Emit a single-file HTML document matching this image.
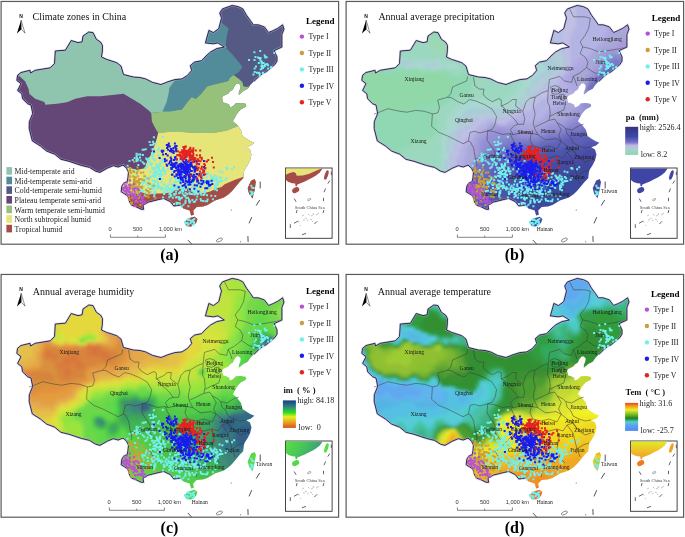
<!DOCTYPE html><html><head><meta charset="utf-8"><style>html,body{margin:0;padding:0;background:#fff}svg{display:block;filter:blur(0.3px)}text{font-family:"Liberation Serif",serif}.s{font-family:"Liberation Sans",sans-serif}</style></head><body><svg width="685" height="537" viewBox="0 0 685 537"><defs><clipPath id="cc"><path d="M17.6,75.3 L21.0,72.5 L30.0,70.3 L30.5,73.0 L35.2,70.3 L50.3,67.8 L54.5,63.6 L55.3,51.0 L65.4,50.2 L71.2,40.5 L78.0,42.6 L82.1,41.8 L83.0,36.0 L88.8,32.0 L93.0,32.6 L96.4,39.3 L100.5,42.0 L102.5,45.5 L102.3,51.9 L101.5,57.0 L106.7,59.4 L116.8,62.7 L121.0,66.1 L123.5,74.5 L133.5,77.0 L140.0,77.5 L145.6,78.9 L152.6,82.4 L161.0,84.5 L168.0,81.7 L174.9,79.6 L181.9,78.9 L187.5,75.4 L191.7,70.5 L190.3,65.6 L194.5,62.1 L201.5,60.7 L206.0,56.0 L210.6,51.9 L216.8,48.6 L224.3,47.0 L217.9,42.9 L213.4,43.8 L205.4,42.9 L208.9,30.4 L213.4,32.6 L218.8,28.6 L221.5,17.9 L219.7,13.0 L222.4,8.9 L232.2,5.4 L238.5,6.7 L242.9,8.9 L246.5,15.2 L250.5,20.6 L253.3,24.8 L258.2,24.8 L264.4,26.9 L268.6,32.5 L273.5,30.4 L277.7,28.3 L282.6,24.8 L284.0,29.0 L281.9,34.6 L281.9,47.1 L274.2,50.6 L277.0,56.9 L277.0,61.1 L274.9,64.6 L271.4,67.4 L266.5,71.6 L262.3,73.7 L258.2,77.2 L254.0,81.3 L250.5,84.8 L247.8,88.8 L243.3,91.0 L238.8,95.1 L238.8,92.1 L240.3,88.4 L240.7,85.4 L238.8,83.6 L236.6,83.6 L234.4,86.2 L232.9,89.5 L229.9,91.4 L228.4,93.6 L223.2,95.9 L222.1,98.1 L223.2,102.6 L226.2,103.3 L229.2,104.8 L229.9,107.4 L232.9,106.3 L235.9,103.3 L241.1,102.9 L245.5,103.7 L246.3,105.5 L245.5,107.0 L241.1,109.3 L238.8,111.5 L236.2,115.0 L235.8,116.0 L232.9,121.2 L237.3,124.9 L241.0,130.1 L242.5,136.0 L247.0,139.0 L250.7,141.3 L254.4,142.7 L250.7,145.7 L246.3,147.2 L250.0,149.4 L251.5,154.6 L250.0,160.6 L247.7,165.1 L244.8,169.5 L244.0,171.5 L243.2,178.2 L239.5,181.9 L235.8,186.4 L232.0,190.9 L228.3,194.6 L223.8,197.6 L219.4,199.1 L214.9,200.6 L211.2,202.8 L207.5,205.0 L203.0,206.5 L196.7,207.0 L193.2,210.5 L193.9,214.7 L191.1,215.4 L189.7,210.5 L183.4,208.4 L180.5,205.1 L173.8,206.0 L170.4,201.7 L163.7,198.4 L158.1,199.7 L153.3,200.9 L148.4,202.1 L143.0,205.1 L143.6,209.3 L141.2,209.3 L136.3,206.9 L131.5,205.1 L129.7,202.1 L127.9,196.0 L124.2,193.6 L121.2,191.8 L121.8,186.3 L123.6,183.3 L127.2,181.5 L127.9,177.9 L128.5,172.4 L126.6,168.2 L123.0,165.1 L118.2,167.0 L113.3,165.7 L107.3,168.2 L100.0,172.4 L95.6,171.2 L89.5,167.4 L81.3,165.4 L75.2,163.4 L69.0,161.3 L60.9,159.3 L54.7,154.2 L46.6,151.1 L40.4,146.0 L32.3,140.9 L29.2,128.6 L29.3,121.8 L32.7,113.4 L31.0,105.0 L27.7,103.8 L22.6,98.8 L21.8,93.8 L17.6,90.4 L21.0,83.7 L16.8,80.4Z"/><path d="M251.2,180.5 L254.7,179.1 L256.0,181.9 L254.7,189.6 L252.6,198.6 L249.1,193.8 L247.7,188.2Z"/><path d="M184.8,221.7 L189.0,218.2 L194.6,216.8 L197.4,218.9 L196.0,223.1 L191.1,226.6 L186.2,225.9Z"/></clipPath><filter id="bl" x="-5%" y="-5%" width="110%" height="110%"><feGaussianBlur stdDeviation="1.6"/></filter><path id="outl" d="M180.5,205.1 L173.8,206.0 L170.4,201.7 L163.7,198.4 L158.1,199.7 L153.3,200.9 L148.4,202.1 L143.0,205.1 L143.6,209.3 L141.2,209.3 L136.3,206.9 L131.5,205.1 L129.7,202.1 L127.9,196.0 L124.2,193.6 L121.2,191.8 L121.8,186.3 L123.6,183.3 L127.2,181.5 L127.9,177.9 L128.5,172.4 L126.6,168.2 L123.0,165.1 L118.2,167.0 L113.3,165.7 L107.3,168.2 L100.0,172.4 L95.6,171.2 L89.5,167.4 L81.3,165.4 L75.2,163.4 L69.0,161.3 L60.9,159.3 L54.7,154.2 L46.6,151.1 L40.4,146.0 L32.3,140.9 L29.2,128.6 L29.3,121.8 L32.7,113.4 L31.0,105.0 L27.7,103.8 L22.6,98.8 L21.8,93.8 L17.6,90.4 L21.0,83.7 L16.8,80.4 L17.6,75.3 L21.0,72.5 L30.0,70.3 L30.5,73.0 L35.2,70.3 L50.3,67.8 L54.5,63.6 L55.3,51.0 L65.4,50.2 L71.2,40.5 L78.0,42.6 L82.1,41.8 L83.0,36.0 L88.8,32.0 L93.0,32.6 L96.4,39.3 L100.5,42.0 L102.5,45.5 L102.3,51.9 L101.5,57.0 L106.7,59.4 L116.8,62.7 L121.0,66.1 L123.5,74.5 L133.5,77.0 L140.0,77.5 L145.6,78.9 L152.6,82.4 L161.0,84.5 L168.0,81.7 L174.9,79.6 L181.9,78.9 L187.5,75.4 L191.7,70.5 L190.3,65.6 L194.5,62.1 L201.5,60.7 L206.0,56.0 L210.6,51.9 L216.8,48.6 L224.3,47.0 L217.9,42.9 L213.4,43.8 L205.4,42.9 L208.9,30.4 L213.4,32.6 L218.8,28.6 L221.5,17.9 L219.7,13.0 L222.4,8.9 L232.2,5.4 L238.5,6.7 L242.9,8.9 L246.5,15.2 L250.5,20.6 L253.3,24.8 L258.2,24.8 L264.4,26.9 L268.6,32.5 L273.5,30.4 L277.7,28.3 L282.6,24.8 L284.0,29.0 L281.9,34.6 L281.9,47.1 L274.2,50.6 L277.0,56.9 L277.0,61.1 L274.9,64.6 L271.4,67.4 L266.5,71.6 L262.3,73.7 L258.2,77.2 L254.0,81.3"/><g id="dots"><path fill="#72efec" d="M147.0 187.1h2v2h-2zM147.2 182.1h2v2h-2zM141.6 182.7h2v2h-2zM157.9 186.5h2v2h-2zM157.3 185.5h2v2h-2zM152.2 185.1h2v2h-2zM135.7 189.1h2v2h-2zM153.1 187.0h2v2h-2zM135.5 173.5h2v2h-2zM141.9 181.2h2v2h-2zM151.4 183.7h2v2h-2zM153.2 180.1h2v2h-2zM151.5 186.4h2v2h-2zM143.7 194.3h2v2h-2zM153.5 191.2h2v2h-2zM144.0 179.6h2v2h-2zM146.2 183.4h2v2h-2zM154.1 185.5h2v2h-2zM145.4 178.3h2v2h-2zM144.8 191.3h2v2h-2zM142.5 185.5h2v2h-2zM152.4 175.1h2v2h-2zM149.4 191.8h2v2h-2zM132.9 182.1h2v2h-2zM148.2 179.1h2v2h-2zM153.0 183.6h2v2h-2zM137.3 189.0h2v2h-2zM154.4 189.7h2v2h-2zM160.5 186.2h2v2h-2zM150.0 176.2h2v2h-2zM153.9 180.3h2v2h-2zM145.4 176.4h2v2h-2zM141.3 180.8h2v2h-2zM159.3 171.8h2v2h-2zM137.3 185.4h2v2h-2zM160.5 187.5h2v2h-2zM133.8 168.9h2v2h-2zM151.9 179.6h2v2h-2zM140.0 189.9h2v2h-2zM157.8 184.9h2v2h-2zM151.0 186.6h2v2h-2zM161.8 187.7h2v2h-2zM153.1 187.3h2v2h-2zM136.5 191.7h2v2h-2zM156.6 187.2h2v2h-2zM133.2 180.2h2v2h-2zM155.7 173.1h2v2h-2zM147.5 190.1h2v2h-2zM138.5 193.7h2v2h-2zM153.4 183.1h2v2h-2zM151.6 187.9h2v2h-2zM150.0 190.9h2v2h-2zM143.7 181.5h2v2h-2zM157.3 184.2h2v2h-2zM142.0 189.7h2v2h-2zM160.7 181.3h2v2h-2zM138.0 183.2h2v2h-2zM147.8 182.2h2v2h-2zM160.2 177.8h2v2h-2zM159.1 176.4h2v2h-2zM162.7 190.8h2v2h-2zM178.0 192.2h2v2h-2zM171.8 187.9h2v2h-2zM170.2 190.5h2v2h-2zM167.6 188.7h2v2h-2zM173.6 187.0h2v2h-2zM175.1 190.4h2v2h-2zM185.1 188.9h2v2h-2zM165.6 184.8h2v2h-2zM168.9 192.5h2v2h-2zM166.3 189.3h2v2h-2zM183.7 171.6h2v2h-2zM160.0 188.5h2v2h-2zM172.2 188.4h2v2h-2zM165.6 190.9h2v2h-2zM171.3 183.9h2v2h-2zM188.4 189.1h2v2h-2zM164.6 186.4h2v2h-2zM167.2 186.6h2v2h-2zM147.2 184.1h2v2h-2zM177.1 180.0h2v2h-2zM168.5 192.7h2v2h-2zM175.8 195.9h2v2h-2zM155.4 184.9h2v2h-2zM166.3 190.7h2v2h-2zM177.7 170.9h2v2h-2zM177.7 178.3h2v2h-2zM174.5 178.0h2v2h-2zM170.4 194.2h2v2h-2zM167.8 188.1h2v2h-2zM175.4 187.8h2v2h-2zM168.3 196.2h2v2h-2zM177.4 185.2h2v2h-2zM191.0 180.1h2v2h-2zM176.3 185.4h2v2h-2zM170.1 191.2h2v2h-2zM170.8 190.8h2v2h-2zM156.8 177.9h2v2h-2zM173.9 181.2h2v2h-2zM160.8 178.2h2v2h-2zM179.1 191.5h2v2h-2zM180.8 181.4h2v2h-2zM169.0 180.2h2v2h-2zM175.1 196.5h2v2h-2zM161.9 196.4h2v2h-2zM176.9 185.9h2v2h-2zM153.2 195.4h2v2h-2zM168.2 183.4h2v2h-2zM172.2 189.5h2v2h-2zM181.0 180.9h2v2h-2zM178.1 195.9h2v2h-2zM180.6 185.9h2v2h-2zM163.0 193.1h2v2h-2zM169.9 187.7h2v2h-2zM180.4 185.4h2v2h-2zM150.6 184.7h2v2h-2zM154.2 191.9h2v2h-2zM171.5 183.3h2v2h-2zM168.9 192.0h2v2h-2zM169.6 195.0h2v2h-2zM168.5 193.2h2v2h-2zM180.9 196.7h2v2h-2zM163.6 192.3h2v2h-2zM154.0 180.5h2v2h-2zM153.3 193.4h2v2h-2zM159.1 186.9h2v2h-2zM167.5 186.8h2v2h-2zM164.3 188.4h2v2h-2zM183.3 187.3h2v2h-2zM173.2 193.0h2v2h-2zM187.4 182.7h2v2h-2zM184.6 194.4h2v2h-2zM175.8 186.0h2v2h-2zM197.1 193.0h2v2h-2zM189.1 193.0h2v2h-2zM190.3 183.1h2v2h-2zM176.5 185.8h2v2h-2zM196.4 186.2h2v2h-2zM181.8 185.1h2v2h-2zM176.7 188.4h2v2h-2zM179.6 190.8h2v2h-2zM170.1 190.6h2v2h-2zM183.9 179.3h2v2h-2zM194.8 187.6h2v2h-2zM171.2 184.6h2v2h-2zM191.3 186.7h2v2h-2zM195.2 192.7h2v2h-2zM194.3 190.6h2v2h-2zM199.7 192.3h2v2h-2zM192.6 178.6h2v2h-2zM196.2 195.5h2v2h-2zM186.6 186.7h2v2h-2zM204.5 180.2h2v2h-2zM192.8 201.1h2v2h-2zM181.6 192.4h2v2h-2zM204.1 188.4h2v2h-2zM193.5 193.5h2v2h-2zM181.8 188.6h2v2h-2zM191.3 193.1h2v2h-2zM188.7 188.0h2v2h-2zM180.9 187.2h2v2h-2zM196.1 189.5h2v2h-2zM182.2 184.8h2v2h-2zM210.3 194.7h2v2h-2zM194.1 176.0h2v2h-2zM194.0 191.4h2v2h-2zM202.5 191.1h2v2h-2zM188.5 191.6h2v2h-2zM173.4 194.2h2v2h-2zM191.6 185.5h2v2h-2zM199.6 198.0h2v2h-2zM177.8 185.7h2v2h-2zM191.3 189.9h2v2h-2zM185.8 184.1h2v2h-2zM206.0 194.2h2v2h-2zM179.4 182.3h2v2h-2zM202.6 193.9h2v2h-2zM203.6 193.1h2v2h-2zM182.0 190.3h2v2h-2zM171.7 185.3h2v2h-2zM188.5 191.6h2v2h-2zM183.2 188.4h2v2h-2zM192.7 190.9h2v2h-2zM194.1 190.0h2v2h-2zM186.4 192.9h2v2h-2zM202.4 176.9h2v2h-2zM197.0 181.0h2v2h-2zM201.1 181.8h2v2h-2zM202.0 181.9h2v2h-2zM200.9 174.7h2v2h-2zM205.4 186.3h2v2h-2zM205.5 180.1h2v2h-2zM205.6 176.2h2v2h-2zM186.8 181.3h2v2h-2zM194.6 184.7h2v2h-2zM193.3 167.9h2v2h-2zM193.7 188.9h2v2h-2zM198.9 174.2h2v2h-2zM195.9 183.6h2v2h-2zM206.0 181.9h2v2h-2zM213.9 184.5h2v2h-2zM201.8 184.0h2v2h-2zM215.2 185.9h2v2h-2zM210.2 175.6h2v2h-2zM200.8 184.6h2v2h-2zM199.6 186.3h2v2h-2zM206.8 185.5h2v2h-2zM200.3 193.7h2v2h-2zM211.9 179.9h2v2h-2zM202.7 194.0h2v2h-2zM199.3 185.4h2v2h-2zM209.8 181.0h2v2h-2zM192.7 181.9h2v2h-2zM204.9 186.6h2v2h-2zM208.3 181.1h2v2h-2zM208.8 183.7h2v2h-2zM203.6 181.3h2v2h-2zM200.1 184.4h2v2h-2zM193.6 177.9h2v2h-2zM202.0 173.7h2v2h-2zM198.5 171.0h2v2h-2zM196.5 183.8h2v2h-2zM206.5 180.7h2v2h-2zM200.1 173.9h2v2h-2zM216.6 183.6h2v2h-2zM210.7 176.6h2v2h-2zM200.5 171.9h2v2h-2zM208.2 185.7h2v2h-2zM186.8 180.7h2v2h-2zM207.0 172.2h2v2h-2zM187.4 175.7h2v2h-2zM197.0 174.0h2v2h-2zM202.3 182.2h2v2h-2zM207.1 184.5h2v2h-2zM214.0 186.8h2v2h-2zM191.5 178.5h2v2h-2zM193.5 175.6h2v2h-2zM201.3 181.0h2v2h-2zM205.9 173.1h2v2h-2zM192.1 180.9h2v2h-2zM200.4 179.4h2v2h-2zM201.5 177.2h2v2h-2zM207.6 182.8h2v2h-2zM201.3 177.6h2v2h-2zM200.6 167.4h2v2h-2zM208.1 180.1h2v2h-2zM205.5 180.8h2v2h-2zM213.7 174.5h2v2h-2zM211.7 178.7h2v2h-2zM215.3 182.4h2v2h-2zM212.8 176.6h2v2h-2zM212.3 179.7h2v2h-2zM216.7 181.2h2v2h-2zM209.4 174.6h2v2h-2zM211.1 177.0h2v2h-2zM207.4 179.5h2v2h-2zM210.5 180.4h2v2h-2zM215.6 178.3h2v2h-2zM224.6 178.7h2v2h-2zM218.5 180.5h2v2h-2zM218.6 170.5h2v2h-2zM209.2 181.0h2v2h-2zM216.0 189.3h2v2h-2zM214.6 185.1h2v2h-2zM216.8 183.8h2v2h-2zM215.6 179.4h2v2h-2zM215.5 175.7h2v2h-2zM218.9 175.9h2v2h-2zM214.2 188.5h2v2h-2zM211.9 180.1h2v2h-2zM218.8 180.1h2v2h-2zM209.0 181.0h2v2h-2zM215.9 182.8h2v2h-2zM209.1 187.0h2v2h-2zM221.3 180.1h2v2h-2zM214.3 178.3h2v2h-2zM220.1 177.2h2v2h-2zM216.4 178.1h2v2h-2zM209.5 182.9h2v2h-2zM219.7 180.0h2v2h-2zM154.3 175.9h2v2h-2zM158.7 172.9h2v2h-2zM169.7 177.8h2v2h-2zM155.4 184.7h2v2h-2zM159.0 175.7h2v2h-2zM154.5 170.7h2v2h-2zM146.8 181.7h2v2h-2zM168.6 163.7h2v2h-2zM148.5 161.3h2v2h-2zM167.2 168.2h2v2h-2zM158.6 169.1h2v2h-2zM158.2 164.5h2v2h-2zM159.2 162.4h2v2h-2zM158.5 172.9h2v2h-2zM162.3 169.6h2v2h-2zM152.7 172.0h2v2h-2zM155.6 180.4h2v2h-2zM164.4 170.3h2v2h-2zM155.7 166.8h2v2h-2zM152.4 168.9h2v2h-2zM161.1 174.1h2v2h-2zM163.0 183.6h2v2h-2zM154.1 171.1h2v2h-2zM178.6 159.8h2v2h-2zM155.3 172.0h2v2h-2zM160.1 173.4h2v2h-2zM157.3 173.2h2v2h-2zM159.4 175.6h2v2h-2zM145.8 165.7h2v2h-2zM159.0 164.8h2v2h-2zM151.7 174.8h2v2h-2zM154.5 174.8h2v2h-2zM164.2 172.8h2v2h-2zM162.6 170.4h2v2h-2zM149.1 170.8h2v2h-2zM162.2 167.8h2v2h-2zM158.3 175.5h2v2h-2zM152.9 174.8h2v2h-2zM172.0 167.7h2v2h-2zM160.0 170.1h2v2h-2zM162.2 166.5h2v2h-2zM159.6 158.5h2v2h-2zM155.9 163.9h2v2h-2zM148.9 175.5h2v2h-2zM159.6 150.0h2v2h-2zM159.0 163.0h2v2h-2zM157.8 166.9h2v2h-2zM150.0 162.3h2v2h-2zM162.0 159.4h2v2h-2zM151.9 153.1h2v2h-2zM151.1 166.7h2v2h-2zM162.8 167.4h2v2h-2zM157.0 181.9h2v2h-2zM153.9 158.6h2v2h-2zM158.1 168.4h2v2h-2zM151.9 154.6h2v2h-2zM157.2 166.0h2v2h-2zM150.8 162.4h2v2h-2zM153.8 167.7h2v2h-2zM155.5 163.3h2v2h-2zM154.6 172.4h2v2h-2zM161.6 161.1h2v2h-2zM159.4 157.9h2v2h-2zM156.3 170.0h2v2h-2zM162.1 160.9h2v2h-2zM155.7 165.6h2v2h-2zM150.0 164.1h2v2h-2zM153.3 167.0h2v2h-2zM151.5 148.2h2v2h-2zM156.2 166.1h2v2h-2zM175.7 185.4h2v2h-2zM177.4 178.0h2v2h-2zM181.9 173.2h2v2h-2zM174.9 180.9h2v2h-2zM184.1 180.2h2v2h-2zM180.9 177.7h2v2h-2zM180.8 189.3h2v2h-2zM174.9 192.8h2v2h-2zM175.1 181.1h2v2h-2zM180.0 186.1h2v2h-2zM171.6 170.5h2v2h-2zM182.6 185.0h2v2h-2zM182.7 194.2h2v2h-2zM180.2 182.3h2v2h-2zM184.6 182.8h2v2h-2zM189.0 174.8h2v2h-2zM176.7 163.8h2v2h-2zM183.9 179.1h2v2h-2zM184.5 191.8h2v2h-2zM179.0 179.7h2v2h-2zM176.0 176.8h2v2h-2zM175.2 184.2h2v2h-2zM179.2 181.3h2v2h-2zM178.0 185.6h2v2h-2zM182.0 180.3h2v2h-2zM183.0 180.2h2v2h-2zM172.1 188.3h2v2h-2zM181.8 176.2h2v2h-2zM185.5 182.7h2v2h-2zM169.6 189.0h2v2h-2zM146.7 163.5h2v2h-2zM146.0 158.3h2v2h-2zM137.3 163.9h2v2h-2zM145.2 157.6h2v2h-2zM146.8 159.4h2v2h-2zM148.4 157.1h2v2h-2zM144.8 148.3h2v2h-2zM142.9 162.4h2v2h-2zM151.7 157.2h2v2h-2zM144.4 166.9h2v2h-2zM143.4 162.7h2v2h-2zM153.4 159.2h2v2h-2zM151.1 155.4h2v2h-2zM146.0 158.6h2v2h-2zM139.6 159.5h2v2h-2zM150.9 152.3h2v2h-2zM136.1 157.0h2v2h-2zM133.7 157.0h2v2h-2zM141.9 153.9h2v2h-2zM141.7 148.8h2v2h-2zM142.8 148.8h2v2h-2zM135.5 152.8h2v2h-2zM137.0 158.4h2v2h-2zM139.4 153.4h2v2h-2zM141.7 161.3h2v2h-2zM139.0 156.5h2v2h-2zM158.0 147.3h2v2h-2zM147.9 158.5h2v2h-2zM161.8 136.1h2v2h-2zM152.8 148.1h2v2h-2zM156.9 149.3h2v2h-2zM151.9 140.7h2v2h-2zM153.4 151.2h2v2h-2zM148.6 140.9h2v2h-2zM152.9 136.3h2v2h-2zM152.0 143.8h2v2h-2zM154.8 142.5h2v2h-2zM149.5 144.0h2v2h-2zM152.8 142.7h2v2h-2zM153.0 149.8h2v2h-2zM157.7 154.5h2v2h-2zM149.9 143.9h2v2h-2zM126.6 164.7h2v2h-2zM131.8 158.9h2v2h-2zM135.6 154.9h2v2h-2zM135.4 158.9h2v2h-2zM128.5 159.9h2v2h-2zM137.6 153.4h2v2h-2zM136.4 159.6h2v2h-2zM135.4 160.3h2v2h-2zM191.4 199.1h2v2h-2zM188.0 198.4h2v2h-2zM186.8 196.7h2v2h-2zM184.6 199.4h2v2h-2zM171.8 196.8h2v2h-2zM182.5 203.8h2v2h-2zM184.4 202.1h2v2h-2zM180.7 205.4h2v2h-2zM177.9 197.8h2v2h-2zM188.1 200.3h2v2h-2zM178.8 197.7h2v2h-2zM178.9 202.5h2v2h-2zM183.8 195.2h2v2h-2zM184.4 200.7h2v2h-2zM173.0 203.1h2v2h-2zM178.8 198.7h2v2h-2zM187.4 205.3h2v2h-2zM175.5 201.8h2v2h-2zM175.8 203.2h2v2h-2zM198.8 189.8h2v2h-2zM177.5 202.0h2v2h-2zM180.3 197.3h2v2h-2zM211.9 198.2h2v2h-2zM189.1 200.6h2v2h-2zM188.7 201.5h2v2h-2zM195.5 198.4h2v2h-2zM206.6 198.4h2v2h-2zM190.7 192.9h2v2h-2zM206.1 200.2h2v2h-2zM194.1 200.6h2v2h-2zM202.0 199.9h2v2h-2zM185.4 197.1h2v2h-2zM204.4 200.2h2v2h-2zM204.3 190.6h2v2h-2zM200.0 199.5h2v2h-2zM214.3 195.1h2v2h-2zM221.4 171.2h2v2h-2zM231.1 168.3h2v2h-2zM233.2 166.3h2v2h-2zM226.1 167.8h2v2h-2zM225.3 166.9h2v2h-2zM211.2 177.6h2v2h-2zM226.4 167.6h2v2h-2zM225.6 176.9h2v2h-2zM261.1 64.4h2v2h-2zM267.2 67.6h2v2h-2zM263.7 54.5h2v2h-2zM270.0 66.6h2v2h-2zM265.1 63.6h2v2h-2zM266.1 62.9h2v2h-2zM260.9 61.3h2v2h-2zM262.6 61.9h2v2h-2zM260.4 68.2h2v2h-2zM259.8 68.3h2v2h-2zM260.9 66.8h2v2h-2zM270.5 66.0h2v2h-2zM262.1 65.2h2v2h-2zM265.6 56.3h2v2h-2zM262.6 65.8h2v2h-2zM263.1 65.4h2v2h-2zM263.8 64.9h2v2h-2zM263.9 63.4h2v2h-2zM264.3 56.4h2v2h-2zM263.7 64.9h2v2h-2zM261.1 64.9h2v2h-2zM267.1 64.2h2v2h-2zM273.3 52.0h2v2h-2zM264.2 55.9h2v2h-2zM255.0 65.6h2v2h-2zM259.1 57.8h2v2h-2zM259.2 50.0h2v2h-2zM260.4 60.5h2v2h-2zM257.1 56.6h2v2h-2zM259.6 57.1h2v2h-2zM257.9 57.0h2v2h-2zM248.0 58.9h2v2h-2zM257.8 62.0h2v2h-2zM253.5 58.9h2v2h-2zM259.5 59.6h2v2h-2zM262.0 67.0h2v2h-2zM253.4 51.3h2v2h-2zM260.4 65.1h2v2h-2zM260.7 62.3h2v2h-2zM254.5 56.1h2v2h-2zM253.7 71.0h2v2h-2zM258.3 71.8h2v2h-2zM261.9 71.8h2v2h-2zM258.7 74.7h2v2h-2zM262.3 71.9h2v2h-2zM253.6 67.4h2v2h-2zM255.9 71.7h2v2h-2zM257.8 71.9h2v2h-2zM252.5 73.5h2v2h-2zM258.7 72.9h2v2h-2zM191.0 220.8h2v2h-2zM184.6 222.2h2v2h-2zM188.3 218.9h2v2h-2zM190.2 219.7h2v2h-2zM191.2 220.5h2v2h-2zM186.5 224.6h2v2h-2zM184.0 221.3h2v2h-2zM188.4 218.6h2v2h-2zM185.9 222.0h2v2h-2zM189.6 222.3h2v2h-2zM193.3 218.1h2v2h-2zM187.2 219.2h2v2h-2zM192.9 222.9h2v2h-2zM192.4 220.7h2v2h-2zM192.4 220.6h2v2h-2zM187.5 223.2h2v2h-2zM191.8 224.1h2v2h-2zM192.0 218.9h2v2h-2zM190.1 220.4h2v2h-2zM193.0 221.2h2v2h-2zM186.7 222.3h2v2h-2zM186.6 218.6h2v2h-2zM252.1 186.9h2v2h-2zM252.7 186.9h2v2h-2zM249.9 193.9h2v2h-2zM251.6 191.3h2v2h-2zM250.9 193.1h2v2h-2zM251.9 193.3h2v2h-2zM250.7 191.7h2v2h-2zM251.3 186.7h2v2h-2zM249.7 190.5h2v2h-2zM250.3 184.7h2v2h-2z"/><path fill="#c99f3c" d="M133.4 180.4h2v2h-2zM129.5 170.7h2v2h-2zM129.3 169.2h2v2h-2zM138.1 183.8h2v2h-2zM126.0 189.8h2v2h-2zM136.5 166.6h2v2h-2zM141.2 185.7h2v2h-2zM142.3 171.4h2v2h-2zM134.7 183.0h2v2h-2zM133.0 181.2h2v2h-2zM137.3 169.5h2v2h-2zM129.2 175.8h2v2h-2zM133.8 181.9h2v2h-2zM132.2 175.3h2v2h-2zM129.8 186.7h2v2h-2zM135.8 180.7h2v2h-2zM130.4 190.9h2v2h-2zM129.0 184.5h2v2h-2zM137.8 178.1h2v2h-2zM136.1 172.2h2v2h-2zM137.1 181.4h2v2h-2zM124.1 184.7h2v2h-2zM127.5 189.0h2v2h-2zM128.6 178.8h2v2h-2zM133.4 177.7h2v2h-2zM133.3 176.1h2v2h-2zM135.4 180.0h2v2h-2zM133.1 160.7h2v2h-2zM137.8 180.2h2v2h-2zM134.3 187.5h2v2h-2zM126.6 190.8h2v2h-2zM131.2 196.8h2v2h-2zM131.3 184.8h2v2h-2zM130.2 172.2h2v2h-2zM137.5 186.3h2v2h-2zM139.7 186.0h2v2h-2zM129.1 168.4h2v2h-2zM128.7 175.3h2v2h-2zM127.9 184.1h2v2h-2zM133.6 178.1h2v2h-2zM132.9 179.0h2v2h-2zM133.1 185.3h2v2h-2zM136.8 175.2h2v2h-2zM124.5 190.0h2v2h-2zM132.6 187.7h2v2h-2zM132.1 169.9h2v2h-2zM129.4 185.1h2v2h-2zM137.4 191.2h2v2h-2zM127.7 170.2h2v2h-2zM134.6 186.6h2v2h-2zM133.0 170.9h2v2h-2zM135.9 185.5h2v2h-2zM134.8 176.6h2v2h-2zM133.5 185.5h2v2h-2zM129.2 167.1h2v2h-2zM133.6 183.4h2v2h-2zM132.1 186.2h2v2h-2zM129.1 179.4h2v2h-2zM130.5 184.0h2v2h-2zM140.0 178.2h2v2h-2zM154.3 196.7h2v2h-2zM146.7 190.1h2v2h-2zM152.6 184.7h2v2h-2zM141.3 178.6h2v2h-2zM144.8 195.4h2v2h-2zM145.2 189.0h2v2h-2zM140.8 187.2h2v2h-2zM133.4 193.3h2v2h-2zM139.5 178.3h2v2h-2zM137.5 180.2h2v2h-2zM147.1 193.4h2v2h-2zM133.9 192.5h2v2h-2zM147.3 181.9h2v2h-2zM133.1 180.8h2v2h-2zM138.2 188.4h2v2h-2zM139.9 171.8h2v2h-2zM143.4 175.3h2v2h-2zM147.4 177.6h2v2h-2zM137.8 180.0h2v2h-2zM138.7 195.1h2v2h-2zM147.1 190.2h2v2h-2zM143.9 175.2h2v2h-2zM138.9 182.1h2v2h-2zM136.1 189.6h2v2h-2zM137.6 181.0h2v2h-2zM135.7 171.6h2v2h-2zM145.6 195.3h2v2h-2zM143.0 179.2h2v2h-2zM125.8 187.2h2v2h-2zM149.3 188.1h2v2h-2zM147.6 196.3h2v2h-2zM148.8 182.9h2v2h-2zM148.3 191.4h2v2h-2zM132.8 183.2h2v2h-2zM133.5 185.2h2v2h-2zM131.9 188.7h2v2h-2zM130.9 201.4h2v2h-2zM139.4 204.0h2v2h-2zM127.9 195.3h2v2h-2zM128.2 199.0h2v2h-2zM134.2 194.4h2v2h-2zM130.3 202.1h2v2h-2zM134.7 191.7h2v2h-2zM130.7 202.8h2v2h-2zM135.0 200.3h2v2h-2zM131.6 187.4h2v2h-2zM132.9 185.6h2v2h-2zM126.5 193.2h2v2h-2zM131.4 190.0h2v2h-2zM131.3 190.8h2v2h-2zM137.0 194.1h2v2h-2zM128.3 197.7h2v2h-2zM126.4 190.0h2v2h-2zM137.8 189.7h2v2h-2zM137.8 197.3h2v2h-2z"/><path fill="#b451d6" d="M132.8 183.1h2v2h-2zM131.8 192.8h2v2h-2zM126.5 186.5h2v2h-2zM136.8 187.7h2v2h-2zM125.3 184.5h2v2h-2zM128.8 188.3h2v2h-2zM127.7 193.9h2v2h-2zM125.7 188.9h2v2h-2zM132.8 183.0h2v2h-2zM131.2 194.3h2v2h-2zM128.8 179.6h2v2h-2zM129.0 192.8h2v2h-2zM124.1 185.9h2v2h-2zM127.2 189.2h2v2h-2zM125.6 187.1h2v2h-2zM124.8 187.5h2v2h-2zM122.3 187.3h2v2h-2zM134.7 187.3h2v2h-2zM122.0 188.0h2v2h-2zM124.1 189.9h2v2h-2zM128.5 186.6h2v2h-2zM123.3 182.7h2v2h-2zM132.4 188.0h2v2h-2zM122.4 186.7h2v2h-2zM127.8 186.4h2v2h-2zM125.9 181.5h2v2h-2zM124.0 190.4h2v2h-2zM128.0 191.1h2v2h-2zM122.5 189.4h2v2h-2zM128.5 184.0h2v2h-2zM128.9 183.4h2v2h-2zM123.8 186.9h2v2h-2zM125.3 190.1h2v2h-2zM125.4 192.1h2v2h-2zM133.2 188.6h2v2h-2zM140.7 195.9h2v2h-2zM140.0 201.3h2v2h-2zM139.2 200.1h2v2h-2zM142.0 196.8h2v2h-2zM131.2 192.6h2v2h-2zM141.8 196.3h2v2h-2zM130.8 195.3h2v2h-2zM133.8 193.6h2v2h-2zM134.5 196.9h2v2h-2zM133.2 195.2h2v2h-2zM136.2 197.7h2v2h-2zM136.6 201.2h2v2h-2zM137.7 189.1h2v2h-2zM133.3 196.0h2v2h-2zM139.9 192.1h2v2h-2zM132.4 198.5h2v2h-2zM134.3 205.0h2v2h-2zM133.8 204.8h2v2h-2zM128.7 190.9h2v2h-2zM142.1 202.2h2v2h-2zM138.4 200.6h2v2h-2zM138.4 193.9h2v2h-2zM140.7 197.3h2v2h-2zM140.9 200.4h2v2h-2zM126.1 193.6h2v2h-2zM141.6 199.3h2v2h-2zM134.0 201.2h2v2h-2zM133.9 197.3h2v2h-2zM136.5 200.7h2v2h-2zM143.6 200.2h2v2h-2zM136.7 200.7h2v2h-2zM135.3 196.3h2v2h-2zM135.7 196.8h2v2h-2zM144.2 202.7h2v2h-2zM133.8 190.4h2v2h-2z"/><path fill="#1b1bee" d="M184.7 167.5h2v2h-2zM178.5 163.2h2v2h-2zM171.5 173.4h2v2h-2zM184.6 185.5h2v2h-2zM184.8 169.1h2v2h-2zM193.7 170.8h2v2h-2zM186.0 167.8h2v2h-2zM181.4 179.0h2v2h-2zM191.0 180.3h2v2h-2zM182.9 170.2h2v2h-2zM179.7 175.8h2v2h-2zM176.6 173.4h2v2h-2zM191.6 178.5h2v2h-2zM179.4 176.5h2v2h-2zM180.7 165.5h2v2h-2zM177.1 176.9h2v2h-2zM194.9 166.4h2v2h-2zM180.4 168.0h2v2h-2zM200.0 176.0h2v2h-2zM181.7 159.2h2v2h-2zM181.0 177.1h2v2h-2zM196.2 168.4h2v2h-2zM180.9 166.9h2v2h-2zM173.7 175.4h2v2h-2zM178.5 176.4h2v2h-2zM174.8 162.4h2v2h-2zM186.7 165.4h2v2h-2zM189.7 170.0h2v2h-2zM178.0 173.7h2v2h-2zM190.1 158.5h2v2h-2zM196.0 173.0h2v2h-2zM189.6 158.8h2v2h-2zM180.7 167.9h2v2h-2zM191.5 161.2h2v2h-2zM179.7 157.8h2v2h-2zM183.6 172.1h2v2h-2zM174.9 166.5h2v2h-2zM188.1 179.5h2v2h-2zM189.0 168.2h2v2h-2zM177.9 164.4h2v2h-2zM181.0 170.9h2v2h-2zM184.7 180.0h2v2h-2zM186.7 163.6h2v2h-2zM194.3 175.7h2v2h-2zM185.6 165.7h2v2h-2zM173.8 163.9h2v2h-2zM190.5 165.2h2v2h-2zM177.1 171.2h2v2h-2zM186.5 173.6h2v2h-2zM188.9 178.5h2v2h-2zM180.0 175.9h2v2h-2zM179.1 174.2h2v2h-2zM186.1 171.5h2v2h-2zM190.8 169.9h2v2h-2zM191.7 175.3h2v2h-2zM185.8 166.6h2v2h-2zM180.5 166.8h2v2h-2zM183.8 169.9h2v2h-2zM202.9 173.8h2v2h-2zM189.6 164.8h2v2h-2zM180.7 168.1h2v2h-2zM186.2 163.8h2v2h-2zM194.7 166.6h2v2h-2zM191.5 156.0h2v2h-2zM185.0 171.7h2v2h-2zM186.1 173.6h2v2h-2zM186.7 171.0h2v2h-2zM173.6 165.7h2v2h-2zM170.9 173.8h2v2h-2zM186.8 168.8h2v2h-2zM180.1 166.5h2v2h-2zM196.1 180.4h2v2h-2zM184.7 177.7h2v2h-2zM175.5 158.4h2v2h-2zM182.1 164.8h2v2h-2zM181.6 171.1h2v2h-2zM203.1 166.0h2v2h-2zM185.3 171.7h2v2h-2zM184.8 175.6h2v2h-2zM195.7 162.5h2v2h-2zM186.0 168.4h2v2h-2zM187.1 160.8h2v2h-2zM174.5 156.1h2v2h-2zM188.2 171.2h2v2h-2zM185.4 155.8h2v2h-2zM182.8 165.5h2v2h-2zM176.5 164.5h2v2h-2zM189.2 173.3h2v2h-2zM184.9 173.1h2v2h-2zM181.4 170.4h2v2h-2zM185.2 173.3h2v2h-2zM184.6 169.1h2v2h-2zM184.2 166.1h2v2h-2zM198.4 173.1h2v2h-2zM187.6 183.7h2v2h-2zM193.4 160.7h2v2h-2zM189.2 175.0h2v2h-2zM196.3 177.9h2v2h-2zM189.6 162.9h2v2h-2zM179.8 171.6h2v2h-2zM188.0 163.9h2v2h-2zM182.7 167.6h2v2h-2zM185.4 172.0h2v2h-2zM183.3 162.6h2v2h-2zM192.5 179.6h2v2h-2zM184.4 176.1h2v2h-2zM187.7 174.0h2v2h-2zM187.9 165.4h2v2h-2zM188.4 176.1h2v2h-2zM179.6 181.8h2v2h-2zM183.5 174.9h2v2h-2zM182.9 168.5h2v2h-2zM169.0 160.4h2v2h-2zM166.1 164.7h2v2h-2zM170.8 168.0h2v2h-2zM158.9 177.9h2v2h-2zM184.7 163.8h2v2h-2zM175.1 166.9h2v2h-2zM172.6 162.7h2v2h-2zM170.3 159.1h2v2h-2zM172.1 163.9h2v2h-2zM172.9 158.9h2v2h-2zM171.2 164.3h2v2h-2zM174.6 157.6h2v2h-2zM173.5 169.9h2v2h-2zM174.6 161.8h2v2h-2zM168.1 162.6h2v2h-2zM175.4 173.3h2v2h-2zM170.1 160.1h2v2h-2zM173.3 165.2h2v2h-2zM165.6 159.6h2v2h-2zM170.4 168.0h2v2h-2zM163.8 157.9h2v2h-2zM174.0 156.7h2v2h-2zM171.7 166.1h2v2h-2zM170.3 157.9h2v2h-2zM170.6 162.0h2v2h-2zM173.0 159.0h2v2h-2zM177.5 153.9h2v2h-2zM169.9 164.0h2v2h-2zM194.8 176.0h2v2h-2zM192.3 176.2h2v2h-2zM193.4 187.7h2v2h-2zM186.6 181.2h2v2h-2zM183.4 183.9h2v2h-2zM196.3 179.2h2v2h-2zM182.2 181.0h2v2h-2zM195.9 184.4h2v2h-2zM193.9 169.8h2v2h-2zM184.9 186.1h2v2h-2zM181.6 184.7h2v2h-2zM200.3 182.8h2v2h-2zM195.7 177.3h2v2h-2zM181.6 178.5h2v2h-2zM187.8 178.8h2v2h-2zM193.2 178.3h2v2h-2zM190.2 181.1h2v2h-2zM189.0 188.2h2v2h-2zM191.7 179.4h2v2h-2zM187.8 175.9h2v2h-2zM197.1 179.8h2v2h-2zM182.5 176.2h2v2h-2zM188.2 176.8h2v2h-2zM195.5 173.2h2v2h-2zM192.0 179.7h2v2h-2zM181.9 179.2h2v2h-2zM188.4 181.5h2v2h-2zM186.3 180.5h2v2h-2zM179.0 173.6h2v2h-2zM193.7 184.2h2v2h-2zM188.9 176.0h2v2h-2zM195.5 168.5h2v2h-2zM184.2 182.4h2v2h-2zM192.9 173.8h2v2h-2zM177.7 186.3h2v2h-2zM189.9 174.5h2v2h-2zM189.3 183.5h2v2h-2zM173.4 184.6h2v2h-2zM193.4 168.6h2v2h-2zM193.6 170.1h2v2h-2zM169.7 156.4h2v2h-2zM175.3 150.3h2v2h-2zM164.0 160.3h2v2h-2zM160.8 149.8h2v2h-2zM162.1 153.6h2v2h-2zM158.6 156.9h2v2h-2zM166.7 154.4h2v2h-2zM172.5 152.0h2v2h-2zM170.5 150.7h2v2h-2zM167.8 142.4h2v2h-2zM165.0 152.9h2v2h-2zM161.5 150.3h2v2h-2zM162.3 149.7h2v2h-2zM153.0 150.4h2v2h-2zM161.3 150.9h2v2h-2zM166.8 145.6h2v2h-2zM174.1 145.2h2v2h-2zM169.0 150.1h2v2h-2zM174.9 148.8h2v2h-2zM175.6 145.0h2v2h-2zM170.5 149.3h2v2h-2zM168.8 145.6h2v2h-2zM172.5 147.1h2v2h-2zM169.9 149.0h2v2h-2zM170.3 148.2h2v2h-2zM175.3 148.0h2v2h-2zM173.9 142.5h2v2h-2zM165.8 144.1h2v2h-2zM172.9 150.5h2v2h-2zM166.1 146.9h2v2h-2zM167.6 143.8h2v2h-2zM169.9 148.1h2v2h-2zM171.9 149.5h2v2h-2zM167.1 148.7h2v2h-2zM174.7 146.2h2v2h-2zM185.4 164.7h2v2h-2zM177.6 165.4h2v2h-2zM179.8 178.6h2v2h-2zM180.6 173.6h2v2h-2zM184.0 168.2h2v2h-2zM186.7 163.9h2v2h-2zM187.6 168.5h2v2h-2zM175.4 169.4h2v2h-2zM185.8 168.8h2v2h-2zM190.9 165.3h2v2h-2zM185.6 170.0h2v2h-2zM178.5 171.8h2v2h-2zM175.7 161.8h2v2h-2zM185.6 162.6h2v2h-2zM182.4 160.4h2v2h-2zM183.3 162.5h2v2h-2zM184.7 160.9h2v2h-2zM185.2 165.9h2v2h-2zM183.3 166.7h2v2h-2zM183.7 161.7h2v2h-2zM170.2 167.1h2v2h-2zM178.3 165.2h2v2h-2zM185.1 159.1h2v2h-2zM179.2 164.6h2v2h-2zM177.7 168.3h2v2h-2zM182.3 163.7h2v2h-2zM178.1 170.2h2v2h-2zM179.7 169.3h2v2h-2zM185.2 159.4h2v2h-2zM177.6 167.0h2v2h-2zM184.7 170.1h2v2h-2zM187.0 171.1h2v2h-2zM181.1 166.2h2v2h-2zM186.9 165.3h2v2h-2zM188.3 160.6h2v2h-2zM186.3 166.3h2v2h-2zM173.2 170.9h2v2h-2zM184.6 167.1h2v2h-2zM177.6 165.1h2v2h-2zM190.6 163.7h2v2h-2zM165.6 163.6h2v2h-2zM177.0 166.5h2v2h-2zM181.0 163.4h2v2h-2zM178.8 171.2h2v2h-2zM175.8 174.8h2v2h-2zM180.3 162.6h2v2h-2zM186.9 169.3h2v2h-2zM177.8 170.0h2v2h-2zM173.8 163.3h2v2h-2zM188.6 166.0h2v2h-2zM176.5 169.1h2v2h-2zM187.6 166.9h2v2h-2zM174.0 165.6h2v2h-2zM185.1 170.1h2v2h-2zM192.3 166.0h2v2h-2zM180.6 166.8h2v2h-2zM189.0 163.2h2v2h-2zM189.5 156.0h2v2h-2zM187.0 164.3h2v2h-2zM185.3 169.8h2v2h-2zM201.1 182.7h2v2h-2zM208.2 184.8h2v2h-2zM202.3 180.0h2v2h-2zM197.4 190.6h2v2h-2zM206.0 182.3h2v2h-2zM199.5 185.8h2v2h-2zM204.3 187.3h2v2h-2zM211.3 183.1h2v2h-2zM210.6 179.7h2v2h-2zM205.4 181.3h2v2h-2zM200.7 183.1h2v2h-2zM206.3 187.3h2v2h-2zM190.2 181.0h2v2h-2zM202.4 181.6h2v2h-2zM209.1 184.2h2v2h-2zM207.1 181.6h2v2h-2zM209.5 184.1h2v2h-2zM197.8 182.2h2v2h-2zM200.1 179.5h2v2h-2zM207.7 183.2h2v2h-2zM207.6 180.4h2v2h-2zM206.0 180.3h2v2h-2zM195.9 167.4h2v2h-2zM202.8 170.3h2v2h-2zM190.0 161.7h2v2h-2zM189.3 165.5h2v2h-2zM203.9 167.5h2v2h-2zM183.0 157.7h2v2h-2zM187.5 166.6h2v2h-2zM194.0 165.5h2v2h-2zM202.9 159.9h2v2h-2zM189.8 173.8h2v2h-2zM195.7 160.1h2v2h-2zM183.9 156.4h2v2h-2zM181.8 164.3h2v2h-2zM194.2 169.0h2v2h-2zM193.3 160.5h2v2h-2zM190.3 173.5h2v2h-2zM185.2 164.9h2v2h-2zM194.1 167.1h2v2h-2zM192.0 166.5h2v2h-2zM198.1 163.3h2v2h-2z"/><path fill="#e52222" d="M182.7 151.3h2v2h-2zM180.2 151.3h2v2h-2zM183.5 152.7h2v2h-2zM191.7 156.6h2v2h-2zM182.8 154.1h2v2h-2zM186.5 154.7h2v2h-2zM185.1 152.9h2v2h-2zM182.7 149.3h2v2h-2zM189.4 156.5h2v2h-2zM188.3 153.5h2v2h-2zM186.3 150.4h2v2h-2zM176.1 154.3h2v2h-2zM186.0 150.1h2v2h-2zM180.2 156.5h2v2h-2zM176.0 158.2h2v2h-2zM188.2 160.3h2v2h-2zM181.4 151.9h2v2h-2zM182.5 152.5h2v2h-2zM184.0 149.4h2v2h-2zM190.4 149.3h2v2h-2zM182.5 153.9h2v2h-2zM182.3 150.5h2v2h-2zM186.8 150.7h2v2h-2zM178.8 151.6h2v2h-2zM183.9 158.0h2v2h-2zM179.5 155.4h2v2h-2zM181.1 150.8h2v2h-2zM183.4 152.9h2v2h-2zM189.3 158.1h2v2h-2zM181.8 156.7h2v2h-2zM190.0 154.8h2v2h-2zM181.2 155.2h2v2h-2zM184.5 153.2h2v2h-2zM183.7 154.3h2v2h-2zM190.6 156.0h2v2h-2zM184.0 155.5h2v2h-2zM192.3 148.7h2v2h-2zM192.4 147.3h2v2h-2zM187.7 154.1h2v2h-2zM192.4 153.0h2v2h-2zM182.6 149.2h2v2h-2zM178.7 154.7h2v2h-2zM183.8 149.5h2v2h-2zM187.7 149.3h2v2h-2zM182.8 150.4h2v2h-2zM193.3 157.1h2v2h-2zM184.2 146.5h2v2h-2zM186.4 152.3h2v2h-2zM186.7 154.0h2v2h-2zM183.4 155.2h2v2h-2zM189.2 152.7h2v2h-2zM183.0 150.3h2v2h-2zM188.5 148.2h2v2h-2zM184.2 149.4h2v2h-2zM178.0 154.1h2v2h-2zM184.9 152.1h2v2h-2zM189.4 146.8h2v2h-2zM184.7 153.0h2v2h-2zM189.2 148.2h2v2h-2zM188.6 152.8h2v2h-2zM191.8 156.0h2v2h-2zM187.7 159.5h2v2h-2zM185.0 150.5h2v2h-2zM183.3 148.7h2v2h-2zM184.9 145.4h2v2h-2zM184.6 153.5h2v2h-2zM190.0 150.8h2v2h-2zM191.9 149.7h2v2h-2zM184.3 145.4h2v2h-2zM181.2 149.2h2v2h-2zM192.3 153.8h2v2h-2zM179.6 153.8h2v2h-2zM187.4 151.2h2v2h-2zM185.1 151.0h2v2h-2zM182.4 145.9h2v2h-2zM184.6 156.4h2v2h-2zM192.0 151.0h2v2h-2zM181.4 151.3h2v2h-2zM189.4 153.2h2v2h-2zM182.2 153.2h2v2h-2zM184.0 153.8h2v2h-2zM183.0 147.0h2v2h-2zM185.3 154.6h2v2h-2zM179.6 151.6h2v2h-2zM189.3 150.7h2v2h-2zM181.8 158.9h2v2h-2zM189.0 155.5h2v2h-2zM180.4 157.6h2v2h-2zM176.9 150.2h2v2h-2zM188.6 156.5h2v2h-2zM190.4 154.4h2v2h-2zM194.8 149.5h2v2h-2zM196.5 159.2h2v2h-2zM192.3 159.1h2v2h-2zM197.0 158.2h2v2h-2zM196.0 162.9h2v2h-2zM192.1 157.6h2v2h-2zM192.0 161.0h2v2h-2zM192.4 158.8h2v2h-2zM194.5 157.3h2v2h-2zM200.7 156.7h2v2h-2zM199.5 160.2h2v2h-2zM199.1 156.4h2v2h-2zM197.6 159.9h2v2h-2zM191.6 158.0h2v2h-2zM193.5 156.9h2v2h-2zM199.0 154.2h2v2h-2zM187.5 150.3h2v2h-2zM192.3 154.5h2v2h-2zM194.1 159.2h2v2h-2zM200.8 158.2h2v2h-2zM195.8 154.2h2v2h-2zM196.2 162.2h2v2h-2zM199.2 149.5h2v2h-2zM197.4 163.1h2v2h-2zM206.0 160.4h2v2h-2zM200.5 172.4h2v2h-2zM204.0 164.3h2v2h-2zM197.7 174.6h2v2h-2zM195.6 177.3h2v2h-2zM202.1 170.7h2v2h-2zM195.6 165.6h2v2h-2zM205.3 160.5h2v2h-2zM212.0 160.9h2v2h-2zM196.1 169.2h2v2h-2zM204.3 173.2h2v2h-2zM200.2 167.8h2v2h-2zM200.9 165.7h2v2h-2zM189.6 174.5h2v2h-2zM203.2 169.9h2v2h-2zM199.0 170.4h2v2h-2zM201.9 168.6h2v2h-2zM207.3 159.1h2v2h-2zM203.2 162.9h2v2h-2zM200.5 177.6h2v2h-2zM196.8 168.4h2v2h-2zM199.2 174.5h2v2h-2zM197.3 159.3h2v2h-2zM204.5 167.0h2v2h-2zM200.5 175.2h2v2h-2zM197.7 166.8h2v2h-2zM202.7 171.4h2v2h-2zM199.5 175.0h2v2h-2zM212.8 166.6h2v2h-2zM211.0 156.8h2v2h-2z"/></g><path id="prov" fill="none" stroke="#383838" stroke-width="0.5" stroke-linejoin="round" d="M122.6,76.4 L121.8,80.9 L111.4,85.3 L107.6,87.0 L105.8,93.8 L102.3,97.3 L92.7,100.0 L94.5,107.8 L92.7,113.0 L87.4,113.9 L79.6,111.3 L70.8,110.4 L62.0,112.2 L55.0,111.3 L42.8,108.7 L32.3,113.0 L29.0,114.0M87.4,113.9 L86.6,126.2 L93.6,132.3 L102.3,135.8 L112.9,141.1 L118.1,143.7 L123.4,141.1 L125.1,132.3 L129.5,131.4 L135.0,133.0 L142.7,130.8M123.4,141.1 L125.5,142.0 L128.6,148.1 L130.4,158.6 L132.1,165.6 L128.5,170.0M102.3,97.3 L106.0,97.5 L112.9,101.7 L118.8,104.0 L124.8,99.5 L130.8,101.0 L139.7,104.7 L147.2,109.2 L151.6,116.6 L150.1,124.1 L147.2,129.3 L142.7,130.8M128.5,77.1 L130.0,86.1 L134.5,89.1 L139.0,89.1 L138.2,94.3 L141.2,98.0 L147.2,101.7 L153.9,98.5 L156.3,100.0 L156.3,106.0M156.3,106.0 L158.9,107.4 L161.5,112.6 L165.4,115.2 L169.3,119.1 L173.2,124.3 L178.5,124.3 L179.8,119.1 L177.8,111.3 L170.6,106.0 L171.3,99.5 L167.4,99.5 L163.0,103.0 L156.3,106.0M142.7,130.8 L148.7,131.5 L157.6,134.5 L165.0,133.5 L168.0,134.7 L165.4,129.5 L169.3,125.6 L173.2,124.3M177.8,111.3 L181.0,102.2 L185.0,98.2 L190.2,97.0 L196.7,93.0 L203.2,90.4 L204.4,79.4 L214.8,76.4 L219.3,80.9 L226.7,82.4 L228.2,76.4 L234.2,73.4 L241.6,67.5M190.2,97.0 L188.2,106.0 L190.2,113.9 L188.2,123.0 L189.5,128.2 L192.8,134.7M203.2,90.4 L202.6,102.2 L204.5,106.0 L205.2,113.9 L203.9,120.4 L190.2,126.9M205.5,87.0 L210.0,85.5 L215.0,87.5 L216.2,92.0 L212.0,94.3 L207.0,93.5 L205.5,87.0M214.5,95.0 L218.5,94.0 L221.0,97.5 L219.0,100.5 L215.5,99.5 L214.5,95.0M204.5,116.5 L212.3,112.6 L218.8,110.0 L220.1,104.8M203.9,120.4 L209.7,119.1 L212.3,123.0 L217.5,125.6 L220.8,128.6 L226.7,130.0 L234.2,125.6 L238.7,124.1M192.8,134.7 L200.6,139.9 L211.0,138.6 L216.2,141.2M212.3,123.0 L216.2,129.5 L213.6,136.0 L216.2,141.2 L222.0,146.0 L228.0,150.0 L232.0,156.0M220.8,128.6 L222.0,134.0 L226.0,138.0 L228.0,143.0 L234.0,146.0 L240.0,148.0 L246.0,147.0M168.0,134.7 L178.5,132.1 L186.3,133.4 L192.8,134.7M186.3,133.4 L185.0,140.0 L188.0,146.0 L184.0,152.0 L186.0,158.0M165.0,133.5 L168.0,140.0 L172.0,146.0 L170.0,152.0 L172.0,158.0 L178.0,160.0 L186.0,158.0 L190.0,163.0 L196.0,162.0M188.0,146.0 L196.0,148.0 L204.0,146.0 L212.0,149.0 L216.2,141.2M196.0,162.0 L204.0,158.0 L212.0,156.0 L218.0,158.0 L222.0,152.0 L228.0,150.0M212.0,156.0 L214.0,165.0 L212.0,175.0 L215.0,185.0 L220.0,190.0M222.0,152.0 L228.0,160.0 L230.0,168.0 L232.0,176.0 L235.0,184.0M228.0,150.0 L234.0,158.0 L240.0,162.0 L246.0,160.0M232.0,176.0 L238.0,172.0 L244.0,170.0M172.0,158.0 L166.0,164.0 L160.0,170.0 L155.0,176.0 L150.0,178.0M196.0,162.0 L200.0,170.0 L204.0,178.0 L206.0,186.0 L210.0,190.0M160.0,170.0 L168.0,176.0 L178.0,180.0 L186.0,178.0 L196.0,180.0 L204.0,178.0M150.0,178.0 L156.0,188.0 L165.0,190.0 L178.0,188.0 L186.0,186.0 L196.0,188.0 L206.0,186.0M196.0,188.0 L198.0,196.0 L196.0,204.0M130.4,158.6 L138.0,160.0 L144.0,158.0 L150.0,160.0 L155.0,166.0 L160.0,170.0M150.0,160.0 L150.0,152.0 L146.0,146.0 L142.0,140.0 L142.7,130.8M241.6,67.5 L243.0,62.0 L240.0,57.0 L235.2,53.6 L237.7,46.9 L235.2,41.9 L240.2,35.2 L243.6,28.5 L245.3,18.4 L240.2,16.8 L228.5,16.8 L224.3,8.4M237.7,46.9 L245.3,48.6 L253.6,51.9 L265.4,50.3 L275.4,48.6 L281.0,47.0M241.6,67.5 L248.0,72.0 L255.0,74.9 L262.5,71.9 L266.0,71.6M228.2,76.4 L230.0,80.0 L232.0,86.0"/><g id="labs" font-size="5.6" fill="#1a1a1a"><text x="59.6" y="81">Xinjiang</text><text x="114.4" y="97">Gansu</text><text x="109.9" y="122">Qinghai</text><text x="65.5" y="143">Xizang</text><text x="157.6" y="113">Ningxia</text><text x="202.4" y="70">Neimenggu</text><text x="247.5" y="41">Heilongjiang</text><text x="250.5" y="64">Jilin</text><text x="232.1" y="81">Liaoning</text><text x="206.5" y="92">Beijing</text><text x="205.8" y="98.5">Tianjin</text><text x="207.8" y="105">Hebei</text><text x="212.3" y="116">Shandong</text><text x="172.6" y="133.5">Shanxi</text><text x="196" y="133">Henan</text><text x="196.5" y="151.5">Hubei</text><text x="220" y="150">Anhui</text><text x="225.2" y="136">Jiangsu</text><text x="229.3" y="158.5">Zhejiang</text><text x="211.8" y="164">Jiangxi</text><text x="225.2" y="178.5">Fujian</text><text x="255.9" y="193">Taiwan</text><text x="139.1" y="157.5">Sichuan</text><text x="165.7" y="158">Chongqing</text><text x="198.5" y="172">Hunan</text><text x="163" y="179">Guizhou</text><text x="173.9" y="197">Guangxi</text><text x="198.5" y="196">Guangdong</text><text x="136" y="196">Yunnan</text><text x="191.7" y="231">Hainan</text></g><g id="common"><text class="s" x="19.2" y="17.9" font-weight="bold" font-size="5" fill="#111">N</text><path d="M21.1,20.2 L16.9,33.4 L21.4,29.3 Z" fill="#000"/><path d="M21.1,20.2 L25,33.2 L21.4,29.3 Z" fill="#fff" stroke="#222" stroke-width="0.5"/><g stroke="#3a3a5a" stroke-width="0.9" fill="none" stroke-linecap="round"><path d="M260.2,182 L260.2,188"/><path d="M259.5,200.3 L256.4,205.3"/><path d="M251.6,217.5 L249.2,223"/><path d="M247.9,236.5 L248.1,241.5"/><path d="M188.2,240.4 L191.6,244"/></g><ellipse cx="219.4" cy="240" rx="3.2" ry="1.5" transform="rotate(-25 219.4 240)" fill="none" stroke="#333" stroke-width="0.5"/><circle cx="231.2" cy="210.1" r="0.5" fill="#444"/><circle cx="240.7" cy="241.7" r="0.5" fill="#444"/><rect x="285.5" y="168" width="46.6" height="70.3" fill="#fff" stroke="#333" stroke-width="0.9"/><g stroke="#3a3a5a" stroke-width="0.8" fill="none" stroke-linecap="round"><path d="M331.3,172 V174.7"/><path d="M329.5,181 L328,183.3"/><path d="M325.4,188.8 L324.2,191.8"/><path d="M294.4,198.9 L295.9,201.5"/><path d="M323.5,198.2 V200.8"/><path d="M297,210.4 L296.4,212.7"/><path d="M323.8,210.4 L323.2,212.7"/><path d="M316.8,221.6 L314.6,223.8"/><path d="M290.3,224.6 V227.6"/><path d="M302.3,234.7 L305.6,233.5"/><path d="M294.4,223.1 L297.8,221.2"/></g><ellipse cx="309.2" cy="199.6" rx="1.8" ry="0.8" transform="rotate(-25 309.2 199.6)" fill="none" stroke="#444" stroke-width="0.4"/><text x="294.8" y="208.6" font-size="4.5" fill="#444">South China Sea</text><g fill="none" stroke="#555" stroke-width="0.35"><path d="M302,216 l2,-1 M305,218 l2,1 M308,214 l1.5,1.5 M311,216 l2,-1 M313,213 l1,2 M316,215 l2,-1 M303,220 l2,0 M307,221 l1.5,-1 M310,219 l2,1 M298,222 l1.5,0 M312,222 l1,-1 M318,214 l1,-1 M300,225 l1,1"/></g><rect x="1.1" y="1.45" width="337.5" height="242.75" fill="none" stroke="#5a5a5a" stroke-width="1.2"/></g></defs><defs><linearGradient id="ic" x1="0" y1="0" x2="1" y2="0.3"><stop offset="0" stop-color="#58e040"/><stop offset="0.45" stop-color="#48c858"/><stop offset="1" stop-color="#3a9a7a"/></linearGradient><linearGradient id="id" x1="0" y1="0" x2="0" y2="1"><stop offset="0" stop-color="#e0ec28"/><stop offset="0.5" stop-color="#f0c028"/><stop offset="1" stop-color="#f09a28"/></linearGradient><linearGradient id="gb" x1="0" y1="0" x2="0" y2="1"><stop offset="0" stop-color="#3b3080"/><stop offset="0.35" stop-color="#3a4aa8"/><stop offset="0.55" stop-color="#7a70c8"/><stop offset="0.66" stop-color="#c0b8e2"/><stop offset="0.8" stop-color="#a8d0d2"/><stop offset="1" stop-color="#8ed8a8"/></linearGradient><linearGradient id="gc" x1="0" y1="0" x2="0" y2="1"><stop offset="0" stop-color="#1a3a80"/><stop offset="0.2" stop-color="#2a7a8a"/><stop offset="0.45" stop-color="#30e020"/><stop offset="0.6" stop-color="#e8f020"/><stop offset="0.8" stop-color="#e8a020"/><stop offset="1" stop-color="#d85020"/></linearGradient><linearGradient id="gd" x1="0" y1="0" x2="0" y2="1"><stop offset="0" stop-color="#f04020"/><stop offset="0.12" stop-color="#f0a020"/><stop offset="0.25" stop-color="#e8f030"/><stop offset="0.4" stop-color="#80c020"/><stop offset="0.55" stop-color="#208020"/><stop offset="0.68" stop-color="#50d0d0"/><stop offset="0.8" stop-color="#60a0f0"/><stop offset="1" stop-color="#4a8cf0"/></linearGradient></defs><g transform="translate(0,0)"><g clip-path="url(#cc)"><rect x="0" y="0" width="300" height="240" fill="#555a85"/><polygon points="0.0,0.0 162.0,0.0 160.0,120.0 158.5,133.0 155.4,143.6 150.9,154.8 147.2,160.9 144.8,168.2 136.3,170.0 129.0,167.6 126.6,168.2 120.0,175.0 0.0,185.0" fill="#644677"/><polygon points="0.0,0.0 180.0,0.0 180.0,112.0 162.4,112.0 156.8,112.4 151.2,113.1 148.4,110.3 140.2,103.8 131.9,98.8 123.5,93.8 100.6,96.3 87.2,96.3 75.4,98.8 67.0,102.3 57.0,103.8 45.3,104.7 44.4,102.1 35.2,98.8 29.3,93.8 28.5,88.7 25.1,81.2 18.4,75.3 0.0,60.0" fill="#8fc5ae"/><polygon points="170.0,20.0 219.0,20.0 221.5,22.4 228.6,28.6 226.8,35.8 226.0,42.9 226.0,48.0 232.0,54.0 238.6,62.0 242.5,67.0 239.0,72.0 234.0,75.0 233.0,77.0 228.4,81.0 222.4,82.4 214.1,84.5 207.1,86.6 201.5,93.5 195.9,99.1 191.7,97.0 187.5,101.9 181.9,109.6 170.7,111.7 162.4,111.7 166.6,101.9 168.6,93.5 169.3,88.0 174.9,80.3 176.0,60.0" fill="#528b9a"/><polygon points="151.2,113.1 162.4,111.7 170.7,111.7 181.9,109.6 187.5,101.9 191.7,97.0 195.9,99.1 201.5,93.5 207.1,86.6 214.1,84.5 222.4,82.4 228.4,81.0 229.9,78.0 232.9,75.7 233.6,75.0 239.6,79.5 242.6,82.4 243.3,86.2 246.3,86.9 250.8,86.2 256.0,84.0 262.0,100.0 250.0,124.0 237.5,126.3 227.0,130.5 216.0,132.5 210.0,133.0 196.0,133.0 182.0,132.0 168.0,132.0 158.2,133.0 155.4,128.5 151.9,121.5" fill="#95c17a"/><polygon points="158.2,133.0 168.0,132.0 182.0,132.0 196.0,133.0 210.0,133.0 216.0,132.5 227.0,130.5 237.5,126.3 245.0,124.0 270.0,140.0 270.0,235.0 115.0,235.0 115.0,168.0 126.6,168.2 129.0,167.6 136.3,170.0 144.8,168.2 147.2,160.9 150.9,154.8 155.4,143.6" fill="#e6e57a"/><polygon points="115.0,197.0 130.3,194.8 136.3,193.6 142.4,192.4 148.4,194.8 154.5,193.6 160.0,193.6 167.5,192.9 173.4,191.0 176.4,189.5 180.9,188.8 184.6,187.7 188.3,186.9 191.3,190.6 195.0,192.9 200.2,193.6 204.7,192.9 210.0,191.4 211.2,190.9 217.9,187.9 221.6,187.1 224.6,184.2 229.8,181.9 235.0,179.7 241.7,177.5 246.0,175.5 265.0,200.0 265.0,240.0 115.0,240.0" fill="#a54b48"/><path d="M251.2,180.5 L254.7,179.1 L256.0,181.9 L254.7,189.6 L252.6,198.6 L249.1,193.8 L247.7,188.2ZM184.8,221.7 L189.0,218.2 L194.6,216.8 L197.4,218.9 L196.0,223.1 L191.1,226.6 L186.2,225.9Z" fill="#a54b48"/></g><rect x="6.4" y="167.1" width="5.6" height="7.6" fill="#8fc5ae"/><text x="14.6" y="174.0" font-size="7.75" fill="#222">Mid-temperate arid</text><rect x="6.4" y="176.7" width="5.6" height="7.6" fill="#528b9a"/><text x="14.6" y="183.6" font-size="7.75" fill="#222">Mid-temperate semi-arid</text><rect x="6.4" y="186.3" width="5.6" height="7.6" fill="#555a85"/><text x="14.6" y="193.2" font-size="7.75" fill="#222">Cold-temperate semi-humid</text><rect x="6.4" y="196.0" width="5.6" height="7.6" fill="#644677"/><text x="14.6" y="202.9" font-size="7.75" fill="#222">Plateau temperate semi-arid</text><rect x="6.4" y="205.6" width="5.6" height="7.6" fill="#95c17a"/><text x="14.6" y="212.5" font-size="7.75" fill="#222">Warm temperate semi-humid</text><rect x="6.4" y="215.2" width="5.6" height="7.6" fill="#e6e57a"/><text x="14.6" y="222.1" font-size="7.75" fill="#222">North subtropical humid</text><rect x="6.4" y="224.8" width="5.6" height="7.6" fill="#a54b48"/><text x="14.6" y="231.7" font-size="7.75" fill="#222">Tropical humid</text><use href="#outl" fill="none" stroke="#b4aee0" stroke-width="2.2" stroke-opacity="0.55"/><use href="#outl" fill="none" stroke="#221c3a" stroke-width="0.9"/><use href="#dots"/><use href="#common"/><path d="M285.9,168.4 H322.6 L319.8,172.5 L316,175.4 L312.3,177.7 L308.6,179.5 L304.9,181.4 L301.1,182.9 L297.4,184.4 L296.7,186.6 L295.5,185.9 L295.2,183.6 L292.2,183.3 L288.5,182.1 L285.9,179.9 Z" fill="#a54b48"/><path d="M285.9,168.4 H322 L319,169.5 L313.8,171.7 L308.6,173.9 L302.6,175.4 L296.7,175.8 L295.9,173.2 L293.7,172.1 L291.5,172.5 L288.5,173.6 L285.9,174.7 Z" fill="#e6e57a"/><ellipse cx="295.7" cy="190.1" rx="3.8" ry="2.6" transform="rotate(-30 295.7 190.1)" fill="#a54b48"/><ellipse cx="326.4" cy="175" rx="1.7" ry="5" transform="rotate(18 326.4 175)" fill="#a54b48"/><g transform="translate(0,0)"><text x="305.9" y="24.2" font-weight="bold" font-size="9" fill="#000">Legend</text><circle cx="301.9" cy="36.6" r="2.2" fill="#b451d6"/><text x="308.5" y="39.4" font-size="7.8" fill="#222">Type I</text><circle cx="301.9" cy="53.0" r="2.2" fill="#c99f3c"/><text x="308.5" y="55.8" font-size="7.8" fill="#222">Type II</text><circle cx="301.9" cy="69.4" r="2.2" fill="#72efec"/><text x="308.5" y="72.2" font-size="7.8" fill="#222">Type III</text><circle cx="301.9" cy="85.8" r="2.2" fill="#1b1bee"/><text x="308.5" y="88.6" font-size="7.8" fill="#222">Type IV</text><circle cx="301.9" cy="102.2" r="2.2" fill="#e52222"/><text x="308.5" y="105.0" font-size="7.8" fill="#222">Type V</text></g><g transform="translate(0,0)"><path d="M110.4,234.4 V237.3 H165.4 V234.4 M137.7,235.6 V237.3" fill="none" stroke="#333" stroke-width="0.6"/><g font-size="5.7" fill="#333"><text class="s" x="110" y="230.7" text-anchor="middle">0</text><text class="s" x="137.7" y="230.7" text-anchor="middle">500</text><text class="s" x="158.7" y="230.7">1,000 km</text></g></g></g><g transform="translate(345,0)"><g clip-path="url(#cc)"><g filter="url(#bl)"><path fill="#b4b4e4" d="M231 0h3v3h-3zM231 3h15v3h-15zM231 6h18v3h-18zM231 9h18v3h-18zM231 12h21v3h-21zM231 15h24v3h-24zM231 18h24v3h-24zM231 21h30v3h-30zM231 24h30v3h-30zM231 27h30v3h-30zM228 30h33v3h-33zM228 33h30v3h-30zM225 36h33v3h-33zM225 39h33v3h-33zM225 42h30v3h-30zM225 45h27v3h-27zM225 48h24v3h-24zM225 51h21v3h-21zM225 54h18v3h-18zM225 57h9v3h-9zM225 60h6v3h-6zM225 63h3v3h-3zM222 66h6v3h-6zM222 69h3v3h-3zM219 72h3v3h-3zM216 75h3v3h-3zM213 78h6v3h-6zM213 81h6v3h-6zM210 84h12v3h-12zM210 87h12v3h-12zM207 90h18v3h-18zM204 93h21v3h-21zM201 96h24v3h-24zM195 99h27v3h-27zM192 102h27v3h-27zM189 105h21v3h-21zM186 108h18v3h-18zM180 111h21v3h-21zM171 114h27v3h-27zM165 117h30v3h-30zM141 120h9v3h-9zM162 120h6v3h-6zM180 120h6v3h-6zM135 123h9v3h-9zM153 123h9v3h-9zM132 126h9v3h-9zM129 129h6v3h-6zM126 132h6v3h-6zM126 135h3v3h-3zM120 138h6v3h-6zM117 141h9v3h-9zM117 144h6v3h-6zM114 147h6v3h-6zM114 150h6v3h-6zM114 153h6v3h-6zM111 156h9v3h-9zM111 159h6v3h-6zM111 162h6v3h-6zM111 165h6v3h-6zM111 168h3v3h-3z"/><path fill="#c0c0e4" d="M219 3h12v3h-12zM216 6h15v3h-15zM216 9h15v3h-15zM216 12h15v3h-15zM216 15h15v3h-15zM216 18h15v3h-15zM216 21h15v3h-15zM219 24h12v3h-12zM219 27h9v3h-9zM219 30h9v3h-9zM219 33h6v3h-6zM216 36h9v3h-9zM219 39h6v3h-6zM219 42h6v3h-6zM219 45h6v3h-6zM222 48h3v3h-3zM222 51h3v3h-3zM222 54h3v3h-3zM222 57h3v3h-3zM222 60h3v3h-3zM222 63h3v3h-3zM219 69h3v3h-3zM216 72h3v3h-3zM213 75h3v3h-3zM210 78h3v3h-3zM210 81h3v3h-3zM207 84h3v3h-3zM204 87h6v3h-6zM198 90h9v3h-9zM195 93h9v3h-9zM192 96h9v3h-9zM189 99h6v3h-6zM186 102h6v3h-6zM183 105h6v3h-6zM177 108h9v3h-9zM171 111h6v3h-6zM165 114h6v3h-6zM135 117h6v3h-6zM162 117h3v3h-3zM132 120h9v3h-9zM150 120h12v3h-12zM129 123h6v3h-6zM126 126h6v3h-6zM123 129h6v3h-6zM117 132h9v3h-9zM117 135h6v3h-6zM114 138h6v3h-6zM114 141h3v3h-3zM114 144h3v3h-3zM111 147h3v3h-3zM111 150h3v3h-3zM108 153h6v3h-6zM108 156h3v3h-3zM108 159h3v3h-3zM108 162h3v3h-3zM108 165h3v3h-3zM108 168h3v3h-3zM108 171h3v3h-3z"/><path fill="#b4a8e4" d="M261 21h6v3h-6zM261 24h3v3h-3zM261 27h3v3h-3zM261 30h3v3h-3zM258 33h6v3h-6zM258 36h3v3h-3zM258 39h3v3h-3zM255 42h3v3h-3zM243 54h3v3h-3zM234 57h9v3h-9zM231 60h9v3h-9zM228 63h9v3h-9zM228 66h3v3h-3zM225 69h3v3h-3zM222 72h3v3h-3zM219 75h3v3h-3zM219 78h3v3h-3zM219 81h6v3h-6zM222 84h3v3h-3zM222 87h6v3h-6zM225 90h6v3h-6zM225 93h9v3h-9zM225 96h6v3h-6zM222 99h3v3h-3zM219 102h3v3h-3zM210 105h6v3h-6zM204 108h6v3h-6zM201 111h3v3h-3zM198 114h3v3h-3zM195 117h3v3h-3zM174 120h6v3h-6zM186 120h6v3h-6zM135 129h3v3h-3zM126 138h3v3h-3zM120 147h3v3h-3zM120 150h3v3h-3zM120 153h3v3h-3zM117 159h3v3h-3zM117 162h3v3h-3zM114 168h3v3h-3z"/><path fill="#a8a8d8" d="M276 21h6v3h-6zM285 21h3v3h-3zM267 24h21v3h-21zM267 27h21v3h-21zM267 30h21v3h-21zM264 33h24v3h-24zM264 36h21v3h-21zM261 39h15v3h-15zM258 42h15v3h-15zM255 45h15v3h-15zM252 48h6v3h-6zM249 51h6v3h-6zM246 54h6v3h-6zM246 57h6v3h-6zM243 60h9v3h-9zM240 63h12v3h-12zM234 66h15v3h-15zM231 69h12v3h-12zM225 72h18v3h-18zM225 75h15v3h-15zM225 78h15v3h-15zM228 81h12v3h-12zM228 84h12v3h-12zM231 87h9v3h-9zM234 90h6v3h-6zM234 93h6v3h-6zM234 96h3v3h-3zM228 99h9v3h-9zM225 102h9v3h-9zM219 105h12v3h-12zM213 108h15v3h-15zM207 111h18v3h-18zM204 114h18v3h-18zM198 117h21v3h-21zM195 120h12v3h-12zM144 123h9v3h-9zM165 123h36v3h-36zM141 126h3v3h-3zM171 126h24v3h-24zM138 129h3v3h-3zM132 132h6v3h-6zM129 135h6v3h-6zM129 138h3v3h-3zM126 141h6v3h-6zM123 144h6v3h-6zM123 147h6v3h-6zM123 150h6v3h-6zM123 153h6v3h-6zM123 156h6v3h-6zM120 159h9v3h-9zM120 162h6v3h-6zM120 165h6v3h-6zM117 168h6v3h-6z"/><path fill="#b4c0e4" d="M213 24h6v3h-6zM204 27h15v3h-15zM204 30h15v3h-15zM204 33h15v3h-15zM201 36h15v3h-15zM210 39h9v3h-9zM213 42h6v3h-6zM216 45h3v3h-3zM216 48h6v3h-6zM219 51h3v3h-3zM219 54h3v3h-3zM219 57h3v3h-3zM219 66h3v3h-3zM216 69h3v3h-3zM213 72h3v3h-3zM210 75h3v3h-3zM207 78h3v3h-3zM204 81h6v3h-6zM198 84h9v3h-9zM195 87h9v3h-9zM192 90h6v3h-6zM192 93h3v3h-3zM189 96h3v3h-3zM186 99h3v3h-3zM183 102h3v3h-3zM180 105h3v3h-3zM174 108h3v3h-3zM162 114h3v3h-3zM132 117h3v3h-3zM141 117h9v3h-9zM159 117h3v3h-3zM129 120h3v3h-3zM126 123h3v3h-3zM123 126h3v3h-3zM114 129h9v3h-9zM114 132h3v3h-3zM114 135h3v3h-3zM111 138h3v3h-3zM111 141h3v3h-3zM111 144h3v3h-3zM108 147h3v3h-3zM108 150h3v3h-3zM105 153h3v3h-3zM105 156h3v3h-3zM105 159h3v3h-3zM105 162h3v3h-3zM105 165h3v3h-3zM105 168h3v3h-3zM105 171h3v3h-3z"/><path fill="#a8a8e4" d="M264 24h3v3h-3zM264 27h3v3h-3zM264 30h3v3h-3zM261 36h3v3h-3zM252 45h3v3h-3zM249 48h3v3h-3zM246 51h3v3h-3zM243 57h3v3h-3zM240 60h3v3h-3zM237 63h3v3h-3zM231 66h3v3h-3zM228 69h3v3h-3zM222 75h3v3h-3zM222 78h3v3h-3zM225 81h3v3h-3zM225 84h3v3h-3zM228 87h3v3h-3zM231 90h3v3h-3zM225 99h3v3h-3zM222 102h3v3h-3zM216 105h3v3h-3zM210 108h3v3h-3zM204 111h3v3h-3zM201 114h3v3h-3zM168 120h6v3h-6zM192 120h3v3h-3zM162 123h3v3h-3zM120 156h3v3h-3zM117 165h3v3h-3z"/><path fill="#90d8b4" d="M84 27h12v3h-12zM84 30h15v3h-15zM87 33h12v3h-12zM90 36h12v3h-12zM51 51h3v3h-3zM51 54h3v3h-3zM120 60h3v3h-3zM42 63h3v3h-3zM120 63h6v3h-6zM33 66h12v3h-12zM120 66h6v3h-6zM36 69h39v3h-39zM96 69h6v3h-6zM120 69h6v3h-6zM39 72h12v3h-12zM99 72h9v3h-9zM117 72h15v3h-15zM105 75h24v3h-24zM105 78h24v3h-24zM108 81h21v3h-21zM108 84h18v3h-18zM108 87h18v3h-18zM105 90h21v3h-21zM102 93h21v3h-21zM99 96h12v3h-12zM93 99h12v3h-12zM87 102h15v3h-15zM27 105h3v3h-3zM75 105h21v3h-21zM27 108h15v3h-15zM69 108h24v3h-24zM27 111h24v3h-24zM60 111h30v3h-30zM27 114h63v3h-63zM24 117h66v3h-66zM24 120h69v3h-69zM24 123h69v3h-69zM24 126h69v3h-69zM24 129h69v3h-69zM24 132h66v3h-66zM27 135h60v3h-60zM27 138h54v3h-54zM27 141h48v3h-48zM30 144h36v3h-36zM33 147h27v3h-27zM39 150h18v3h-18zM42 153h12v3h-12zM48 156h3v3h-3z"/><path fill="#c0b4e4" d="M228 27h3v3h-3zM225 33h3v3h-3zM177 111h3v3h-3zM123 135h3v3h-3z"/><path fill="#9cd8b4" d="M81 30h3v3h-3zM78 33h9v3h-9zM78 36h12v3h-12zM102 36h3v3h-3zM81 39h24v3h-24zM84 42h21v3h-21zM87 45h18v3h-18zM51 48h6v3h-6zM90 48h15v3h-15zM54 51h6v3h-6zM90 51h15v3h-15zM99 54h12v3h-12zM117 57h3v3h-3zM45 66h3v3h-3zM75 69h3v3h-3zM93 69h3v3h-3zM114 72h3v3h-3zM129 75h3v3h-3zM129 78h3v3h-3zM126 84h3v3h-3zM126 87h3v3h-3zM123 93h3v3h-3zM111 96h9v3h-9zM96 105h3v3h-3zM90 111h3v3h-3zM90 114h3v3h-3zM90 117h3v3h-3zM90 132h3v3h-3zM87 135h3v3h-3zM81 138h6v3h-6zM75 141h9v3h-9zM66 144h15v3h-15zM60 147h6v3h-6zM57 150h3v3h-3zM54 153h3v3h-3zM51 156h3v3h-3z"/><path fill="#9cd8c0" d="M66 36h3v3h-3zM72 36h6v3h-6zM66 39h15v3h-15zM63 42h21v3h-21zM57 45h30v3h-30zM57 48h33v3h-33zM60 51h30v3h-30zM54 54h45v3h-45zM51 57h3v3h-3zM63 57h54v3h-54zM48 60h6v3h-6zM99 60h21v3h-21zM45 63h9v3h-9zM114 63h6v3h-6zM48 66h12v3h-12zM69 66h3v3h-3zM114 66h6v3h-6zM78 69h15v3h-15zM102 69h18v3h-18zM108 72h6v3h-6zM132 72h12v3h-12zM132 75h21v3h-21zM168 75h6v3h-6zM132 78h42v3h-42zM129 81h45v3h-45zM129 84h45v3h-45zM129 87h42v3h-42zM126 90h42v3h-42zM126 93h39v3h-39zM120 96h42v3h-42zM105 99h18v3h-18zM150 99h6v3h-6zM102 102h15v3h-15zM99 105h12v3h-12zM93 108h15v3h-15zM93 111h12v3h-12zM93 114h9v3h-9zM93 117h9v3h-9zM93 120h6v3h-6zM93 123h9v3h-9zM93 126h9v3h-9zM93 129h6v3h-6zM93 132h6v3h-6zM90 135h6v3h-6zM87 138h9v3h-9zM84 141h12v3h-12zM81 144h15v3h-15zM66 147h30v3h-30zM60 150h36v3h-36zM57 153h39v3h-39zM54 156h42v3h-42zM54 159h42v3h-42zM57 162h39v3h-39zM69 165h27v3h-27zM78 168h18v3h-18zM87 171h9v3h-9zM93 174h3v3h-3z"/><path fill="#b4c0d8" d="M201 39h9v3h-9zM207 42h6v3h-6zM213 45h3v3h-3zM216 51h3v3h-3zM219 60h3v3h-3zM219 63h3v3h-3zM201 81h3v3h-3zM189 93h3v3h-3zM186 96h3v3h-3zM177 105h3v3h-3zM168 111h3v3h-3zM129 117h3v3h-3zM150 117h9v3h-9zM126 120h3v3h-3zM120 126h3v3h-3zM111 132h3v3h-3zM111 135h3v3h-3zM108 144h3v3h-3z"/><path fill="#a89cd8" d="M276 39h9v3h-9zM273 42h12v3h-12zM270 45h12v3h-12zM258 48h18v3h-18zM255 51h6v3h-6zM252 54h6v3h-6zM252 57h3v3h-3zM252 60h3v3h-3zM252 63h3v3h-3zM249 66h3v3h-3zM243 69h6v3h-6zM243 72h3v3h-3zM240 75h3v3h-3zM240 78h3v3h-3zM231 105h3v3h-3zM228 108h3v3h-3zM225 111h3v3h-3zM222 114h3v3h-3zM219 117h3v3h-3zM207 120h12v3h-12zM201 123h3v3h-3zM144 126h3v3h-3zM153 126h18v3h-18zM195 126h3v3h-3zM141 129h3v3h-3zM177 129h15v3h-15zM138 132h3v3h-3zM129 144h3v3h-3zM129 147h3v3h-3zM129 150h3v3h-3zM129 153h3v3h-3z"/><path fill="#b4ccd8" d="M201 42h6v3h-6zM201 45h12v3h-12zM204 48h12v3h-12zM201 51h15v3h-15zM201 54h18v3h-18zM207 57h12v3h-12zM210 60h9v3h-9zM63 63h3v3h-3zM81 63h3v3h-3zM90 63h6v3h-6zM213 63h6v3h-6zM216 66h3v3h-3zM213 69h3v3h-3zM207 72h6v3h-6zM201 75h9v3h-9zM195 78h12v3h-12zM192 81h9v3h-9zM189 84h9v3h-9zM186 87h9v3h-9zM186 90h6v3h-6zM183 93h6v3h-6zM180 96h6v3h-6zM177 99h9v3h-9zM177 102h6v3h-6zM174 105h3v3h-3zM171 108h3v3h-3zM159 111h9v3h-9zM126 114h36v3h-36zM120 117h9v3h-9zM117 120h9v3h-9zM114 123h12v3h-12zM111 126h9v3h-9zM111 129h3v3h-3zM108 132h3v3h-3zM108 135h3v3h-3zM108 138h3v3h-3zM105 141h6v3h-6zM105 144h3v3h-3zM105 147h3v3h-3zM105 150h3v3h-3zM102 153h3v3h-3zM102 156h3v3h-3zM102 159h3v3h-3zM102 162h3v3h-3zM102 165h3v3h-3zM102 168h3v3h-3zM102 171h3v3h-3zM102 174h3v3h-3z"/><path fill="#9c9cd8" d="M282 45h3v3h-3zM276 48h9v3h-9zM261 51h6v3h-6zM270 51h12v3h-12zM258 54h3v3h-3zM279 54h3v3h-3zM255 57h6v3h-6zM255 60h3v3h-3zM255 63h3v3h-3zM252 66h3v3h-3zM249 69h3v3h-3zM246 72h6v3h-6zM243 75h3v3h-3zM240 81h3v3h-3zM234 102h3v3h-3zM234 105h3v3h-3zM231 108h6v3h-6zM228 111h9v3h-9zM225 114h6v3h-6zM222 117h6v3h-6zM219 120h3v3h-3zM204 123h15v3h-15zM147 126h6v3h-6zM198 126h6v3h-6zM144 129h6v3h-6zM159 129h18v3h-18zM192 129h6v3h-6zM141 132h3v3h-3zM135 135h6v3h-6zM132 138h6v3h-6zM132 141h3v3h-3zM132 144h3v3h-3zM132 147h3v3h-3zM132 150h3v3h-3zM132 153h3v3h-3zM129 156h3v3h-3zM129 159h3v3h-3zM126 162h3v3h-3zM123 168h3v3h-3z"/><path fill="#9c90d8" d="M267 51h3v3h-3zM261 54h3v3h-3zM276 54h3v3h-3zM252 69h3v3h-3zM246 75h3v3h-3zM237 99h3v3h-3zM237 108h3v3h-3zM231 114h3v3h-3zM222 120h3v3h-3zM219 123h3v3h-3zM204 126h9v3h-9zM150 129h9v3h-9zM198 129h3v3h-3zM144 132h6v3h-6zM174 132h18v3h-18zM141 135h3v3h-3zM138 138h3v3h-3zM135 141h3v3h-3zM135 144h3v3h-3zM126 165h3v3h-3z"/><path fill="#a8ccd8" d="M198 54h3v3h-3zM192 57h15v3h-15zM57 60h9v3h-9zM195 60h15v3h-15zM57 63h6v3h-6zM66 63h3v3h-3zM78 63h3v3h-3zM84 63h6v3h-6zM96 63h3v3h-3zM198 63h15v3h-15zM81 66h3v3h-3zM201 66h15v3h-15zM201 69h12v3h-12zM195 72h12v3h-12zM192 75h9v3h-9zM189 78h6v3h-6zM186 81h6v3h-6zM186 84h3v3h-3zM183 87h3v3h-3zM180 90h6v3h-6zM180 93h3v3h-3zM177 96h3v3h-3zM174 99h3v3h-3zM174 102h3v3h-3zM171 105h3v3h-3zM123 108h36v3h-36zM162 108h9v3h-9zM120 111h39v3h-39zM117 114h9v3h-9zM114 117h6v3h-6zM114 120h3v3h-3zM111 123h3v3h-3zM108 129h3v3h-3zM105 132h3v3h-3zM102 135h6v3h-6zM102 138h6v3h-6zM102 141h3v3h-3zM102 144h3v3h-3zM102 147h3v3h-3zM102 150h3v3h-3zM99 159h3v3h-3zM99 162h3v3h-3zM99 165h3v3h-3zM99 168h3v3h-3z"/><path fill="#9090d8" d="M264 54h3v3h-3zM273 54h3v3h-3zM261 57h3v3h-3zM279 57h3v3h-3zM258 60h3v3h-3zM255 66h3v3h-3zM243 78h3v3h-3zM240 93h3v3h-3zM240 99h3v3h-3zM237 102h3v3h-3zM237 105h3v3h-3zM240 108h3v3h-3zM237 111h3v3h-3zM234 114h3v3h-3zM228 117h6v3h-6zM225 120h3v3h-3zM213 126h6v3h-6zM201 129h3v3h-3zM150 132h24v3h-24zM192 132h6v3h-6zM144 135h9v3h-9zM141 138h6v3h-6zM138 141h6v3h-6zM138 144h3v3h-3zM135 147h3v3h-3zM135 150h3v3h-3zM132 156h3v3h-3z"/><path fill="#9090cc" d="M267 54h6v3h-6zM240 84h3v3h-3zM243 99h6v3h-6zM240 102h9v3h-9zM240 105h9v3h-9zM243 108h6v3h-6zM240 111h6v3h-6zM237 114h3v3h-3zM234 117h3v3h-3zM228 120h3v3h-3zM222 123h3v3h-3zM219 126h3v3h-3zM204 129h9v3h-9zM198 132h3v3h-3zM153 135h9v3h-9zM174 135h18v3h-18zM147 138h9v3h-9zM144 141h6v3h-6zM141 144h3v3h-3zM138 147h3v3h-3zM135 153h3v3h-3zM129 162h3v3h-3z"/><path fill="#a8d8cc" d="M54 57h6v3h-6zM54 60h3v3h-3zM66 60h3v3h-3zM72 60h21v3h-21zM96 60h3v3h-3zM186 60h6v3h-6zM54 63h3v3h-3zM69 63h6v3h-6zM99 63h12v3h-12zM186 63h9v3h-9zM60 66h9v3h-9zM72 66h9v3h-9zM84 66h6v3h-6zM93 66h6v3h-6zM102 66h12v3h-12zM186 66h9v3h-9zM183 69h12v3h-12zM180 72h12v3h-12zM177 75h12v3h-12zM177 78h12v3h-12zM177 81h9v3h-9zM177 84h6v3h-6zM174 87h9v3h-9zM171 90h9v3h-9zM168 93h9v3h-9zM165 96h12v3h-12zM126 99h18v3h-18zM162 99h12v3h-12zM120 102h51v3h-51zM114 105h9v3h-9zM138 105h30v3h-30zM111 108h9v3h-9zM108 111h9v3h-9zM105 114h9v3h-9zM102 117h12v3h-12zM102 120h9v3h-9zM102 123h9v3h-9zM102 126h6v3h-6zM99 129h6v3h-6zM99 132h6v3h-6zM96 135h6v3h-6zM96 138h6v3h-6zM96 141h6v3h-6zM96 144h6v3h-6zM99 147h3v3h-3zM96 150h6v3h-6zM96 153h3v3h-3zM96 156h3v3h-3zM96 159h3v3h-3zM96 162h3v3h-3zM96 165h3v3h-3zM96 168h3v3h-3zM96 171h3v3h-3zM96 174h6v3h-6z"/><path fill="#9cd8cc" d="M60 57h3v3h-3zM69 60h3v3h-3zM111 63h3v3h-3zM99 66h3v3h-3zM174 75h3v3h-3zM174 78h3v3h-3zM174 81h3v3h-3zM174 84h3v3h-3zM171 87h3v3h-3zM168 90h3v3h-3zM165 93h3v3h-3zM162 96h3v3h-3zM123 99h3v3h-3zM144 99h6v3h-6zM156 99h6v3h-6zM117 102h3v3h-3zM111 105h3v3h-3zM108 108h3v3h-3zM105 111h3v3h-3zM102 114h3v3h-3zM99 120h3v3h-3zM96 147h3v3h-3z"/><path fill="#a8d8d8" d="M189 57h3v3h-3zM93 60h3v3h-3zM192 60h3v3h-3zM75 63h3v3h-3zM195 63h3v3h-3zM90 66h3v3h-3zM195 66h6v3h-6zM195 69h6v3h-6zM192 72h3v3h-3zM189 75h3v3h-3zM183 84h3v3h-3zM177 93h3v3h-3zM171 102h3v3h-3zM123 105h15v3h-15zM168 105h3v3h-3zM120 108h3v3h-3zM159 108h3v3h-3zM117 111h3v3h-3zM114 114h3v3h-3zM111 120h3v3h-3zM108 126h3v3h-3zM105 129h3v3h-3zM99 153h3v3h-3zM99 156h3v3h-3zM99 171h3v3h-3z"/><path fill="#8484cc" d="M264 57h12v3h-12zM261 60h6v3h-6zM276 60h6v3h-6zM255 69h3v3h-3zM246 78h3v3h-3zM243 81h3v3h-3zM240 87h3v3h-3zM240 90h3v3h-3zM237 117h3v3h-3zM234 120h6v3h-6zM228 123h9v3h-9zM222 126h9v3h-9zM216 129h6v3h-6zM201 132h15v3h-15zM195 135h6v3h-6zM159 138h33v3h-33zM153 141h9v3h-9zM147 144h9v3h-9zM144 147h6v3h-6zM141 150h3v3h-3zM138 153h3v3h-3zM135 156h3v3h-3zM129 165h3v3h-3zM123 171h3v3h-3z"/><path fill="#9084cc" d="M276 57h3v3h-3zM258 63h3v3h-3zM252 72h3v3h-3zM249 75h3v3h-3zM243 96h3v3h-3zM240 114h3v3h-3zM231 120h3v3h-3zM225 123h3v3h-3zM213 129h3v3h-3zM162 135h12v3h-12zM192 135h3v3h-3zM156 138h3v3h-3zM150 141h3v3h-3zM144 144h3v3h-3zM141 147h3v3h-3zM138 150h3v3h-3zM132 159h3v3h-3zM126 168h3v3h-3z"/><path fill="#7878cc" d="M267 60h9v3h-9zM261 63h3v3h-3zM273 63h6v3h-6zM258 66h3v3h-3zM240 123h3v3h-3zM231 126h9v3h-9zM222 129h3v3h-3zM216 132h3v3h-3zM201 135h9v3h-9zM195 138h3v3h-3zM162 141h12v3h-12zM156 144h6v3h-6zM150 147h6v3h-6zM147 150h3v3h-3zM141 153h3v3h-3zM138 156h3v3h-3zM135 159h3v3h-3z"/><path fill="#7878c0" d="M264 63h9v3h-9zM273 66h6v3h-6zM252 75h3v3h-3zM249 78h3v3h-3zM246 81h3v3h-3zM243 84h3v3h-3zM243 93h3v3h-3zM240 126h6v3h-6zM225 129h12v3h-12zM219 132h3v3h-3zM210 135h6v3h-6zM198 138h6v3h-6zM174 141h21v3h-21zM162 144h6v3h-6zM156 147h3v3h-3zM150 150h3v3h-3zM144 153h6v3h-6zM141 156h3v3h-3zM138 159h3v3h-3zM135 162h3v3h-3zM132 165h3v3h-3zM129 168h3v3h-3zM126 171h3v3h-3z"/><path fill="#8478cc" d="M279 63h3v3h-3zM240 120h3v3h-3zM237 123h3v3h-3zM192 138h3v3h-3zM144 150h3v3h-3zM132 162h3v3h-3z"/><path fill="#90d8a8" d="M21 66h12v3h-12zM15 69h21v3h-21zM12 72h27v3h-27zM51 72h48v3h-48zM12 75h93v3h-93zM12 78h93v3h-93zM12 81h96v3h-96zM15 84h93v3h-93zM15 87h93v3h-93zM15 90h90v3h-90zM15 93h87v3h-87zM18 96h81v3h-81zM18 99h75v3h-75zM18 102h69v3h-69zM21 105h6v3h-6zM30 105h45v3h-45zM42 108h27v3h-27zM51 111h9v3h-9z"/><path fill="#6c6cc0" d="M261 66h12v3h-12zM258 69h3v3h-3zM273 69h3v3h-3zM255 72h3v3h-3zM252 78h3v3h-3zM249 81h3v3h-3zM246 84h6v3h-6zM246 87h6v3h-6zM243 90h9v3h-9zM246 93h3v3h-3zM237 129h9v3h-9zM222 132h15v3h-15zM216 135h9v3h-9zM204 138h15v3h-15zM195 141h9v3h-9zM168 144h27v3h-27zM159 147h15v3h-15zM153 150h12v3h-12zM150 153h9v3h-9zM147 156h9v3h-9zM141 159h9v3h-9zM138 162h9v3h-9zM135 165h12v3h-12zM132 168h12v3h-12zM129 171h15v3h-15zM123 174h6v3h-6z"/><path fill="#6060c0" d="M261 69h9v3h-9zM258 72h3v3h-3zM267 72h6v3h-6zM255 78h3v3h-3zM252 81h6v3h-6zM252 84h6v3h-6zM237 132h6v3h-6zM225 135h12v3h-12zM219 138h6v3h-6zM210 141h9v3h-9zM198 144h3v3h-3zM174 147h21v3h-21zM168 150h6v3h-6zM159 153h9v3h-9zM156 156h6v3h-6zM153 159h6v3h-6zM150 162h3v3h-3zM147 165h6v3h-6zM147 168h3v3h-3zM144 171h6v3h-6zM141 174h6v3h-6zM120 177h3v3h-3zM129 177h15v3h-15z"/><path fill="#606cc0" d="M270 69h3v3h-3zM255 75h3v3h-3zM252 87h3v3h-3zM204 141h6v3h-6zM195 144h3v3h-3zM165 150h3v3h-3zM150 159h3v3h-3zM147 162h3v3h-3zM144 168h3v3h-3zM129 174h12v3h-12z"/><path fill="#6060b4" d="M261 72h6v3h-6zM258 75h12v3h-12zM258 78h6v3h-6zM258 81h3v3h-3zM243 132h6v3h-6zM237 135h6v3h-6zM225 138h15v3h-15zM219 141h18v3h-18zM201 144h18v3h-18zM195 147h6v3h-6zM174 150h21v3h-21zM168 153h9v3h-9zM162 156h12v3h-12zM159 159h12v3h-12zM153 162h12v3h-12zM153 165h6v3h-6zM150 168h6v3h-6zM150 171h3v3h-3zM147 174h6v3h-6zM123 177h6v3h-6zM144 177h6v3h-6zM117 180h27v3h-27zM117 183h21v3h-21z"/><path fill="#786cc0" d="M243 87h3v3h-3zM144 156h3v3h-3z"/><path fill="#5460b4" d="M243 135h9v3h-9zM240 138h15v3h-15zM237 141h6v3h-6zM219 144h18v3h-18zM201 147h15v3h-15zM195 150h6v3h-6zM177 153h18v3h-18zM174 156h15v3h-15zM171 159h6v3h-6zM165 162h9v3h-9zM159 165h12v3h-12zM156 168h12v3h-12zM153 171h12v3h-12zM153 174h9v3h-9zM150 177h6v3h-6zM144 180h9v3h-9zM138 183h9v3h-9zM117 186h27v3h-27zM117 189h24v3h-24zM117 192h24v3h-24zM117 195h24v3h-24zM123 198h18v3h-18zM126 201h15v3h-15zM126 204h15v3h-15zM126 207h15v3h-15zM135 210h6v3h-6z"/><path fill="#5454b4" d="M255 138h3v3h-3zM243 141h15v3h-15zM237 144h6v3h-6zM216 147h6v3h-6zM201 150h12v3h-12zM195 153h3v3h-3zM189 156h6v3h-6zM177 159h12v3h-12zM174 162h6v3h-6zM171 165h3v3h-3zM168 168h3v3h-3zM165 171h3v3h-3zM162 174h6v3h-6zM156 177h6v3h-6zM153 180h6v3h-6zM147 183h9v3h-9zM144 186h9v3h-9zM141 189h9v3h-9zM141 192h9v3h-9zM141 195h9v3h-9zM141 198h9v3h-9zM141 201h6v3h-6zM141 204h6v3h-6zM141 207h6v3h-6zM141 210h6v3h-6z"/><path fill="#5454a8" d="M243 144h9v3h-9zM222 147h15v3h-15zM213 150h3v3h-3zM198 153h3v3h-3zM189 159h3v3h-3zM180 162h6v3h-6zM174 165h3v3h-3zM171 168h3v3h-3zM168 171h3v3h-3zM168 174h3v3h-3zM162 177h3v3h-3zM159 180h3v3h-3zM156 183h3v3h-3zM153 186h3v3h-3zM150 189h6v3h-6zM150 192h6v3h-6zM150 195h3v3h-3zM150 198h3v3h-3zM147 201h6v3h-6zM147 204h6v3h-6z"/><path fill="#4854a8" d="M252 144h3v3h-3zM237 147h18v3h-18zM216 150h24v3h-24zM201 153h33v3h-33zM195 156h24v3h-24zM192 159h21v3h-21zM186 162h15v3h-15zM177 165h18v3h-18zM174 168h18v3h-18zM171 171h18v3h-18zM171 174h18v3h-18zM165 177h21v3h-21zM162 180h21v3h-21zM159 183h15v3h-15zM156 186h12v3h-12zM156 189h9v3h-9zM156 192h9v3h-9zM153 195h12v3h-12zM153 198h12v3h-12zM153 201h12v3h-12zM153 204h3v3h-3z"/><path fill="#4848a8" d="M240 150h15v3h-15zM234 153h21v3h-21zM219 156h24v3h-24zM213 159h24v3h-24zM201 162h30v3h-30zM195 165h18v3h-18zM192 168h18v3h-18zM189 171h15v3h-15zM189 174h12v3h-12zM186 177h12v3h-12zM183 180h9v3h-9zM174 183h15v3h-15zM168 186h15v3h-15zM165 189h15v3h-15zM165 192h15v3h-15zM165 195h15v3h-15zM165 198h15v3h-15zM165 201h12v3h-12zM165 204h12v3h-12zM168 207h9v3h-9z"/><path fill="#48489c" d="M243 156h12v3h-12zM237 159h18v3h-18zM231 162h6v3h-6zM246 162h9v3h-9zM213 165h18v3h-18zM210 168h18v3h-18zM204 171h12v3h-12zM201 174h12v3h-12zM198 177h12v3h-12zM252 177h9v3h-9zM192 180h12v3h-12zM249 180h12v3h-12zM189 183h9v3h-9zM246 183h15v3h-15zM183 186h9v3h-9zM246 186h15v3h-15zM180 189h9v3h-9zM243 189h15v3h-15zM180 192h6v3h-6zM243 192h15v3h-15zM180 195h6v3h-6zM246 195h12v3h-12zM180 198h6v3h-6zM246 198h6v3h-6zM255 198h3v3h-3zM177 201h6v3h-6zM177 204h6v3h-6zM177 207h6v3h-6zM180 210h15v3h-15zM186 213h15v3h-15zM180 216h21v3h-21zM183 219h18v3h-18zM180 222h21v3h-21zM180 225h21v3h-21zM183 228h15v3h-15z"/><path fill="#3c489c" d="M237 162h9v3h-9zM231 165h21v3h-21zM228 168h24v3h-24zM216 171h33v3h-33zM213 174h39v3h-39zM210 177h42v3h-42zM204 180h45v3h-45zM198 183h48v3h-48zM192 186h54v3h-54zM189 189h51v3h-51zM186 192h51v3h-51zM186 195h48v3h-48zM186 198h45v3h-45zM183 201h42v3h-42zM183 204h33v3h-33zM183 207h30v3h-30zM195 210h6v3h-6z"/></g></g><use href="#prov"/><use href="#outl" fill="none" stroke="#b4aee0" stroke-width="2.2" stroke-opacity="0.55"/><use href="#outl" fill="none" stroke="#221c3a" stroke-width="0.9"/><use href="#dots"/><use href="#labs"/><use href="#common"/><path d="M285.9,168.4 H322.6 L319.8,172.5 L316,175.4 L312.3,177.7 L308.6,179.5 L304.9,181.4 L301.1,182.9 L297.4,184.4 L296.7,186.6 L295.5,185.9 L295.2,183.6 L292.2,183.3 L288.5,182.1 L285.9,179.9 Z" fill="#3e45a6"/><ellipse cx="295.7" cy="190.1" rx="3.8" ry="2.6" transform="rotate(-30 295.7 190.1)" fill="#3e45a6"/><ellipse cx="326.4" cy="175" rx="1.7" ry="5" transform="rotate(18 326.4 175)" fill="#3e45a6"/><g transform="translate(0.8,-3)"><text x="305.9" y="24.2" font-weight="bold" font-size="9" fill="#000">Legend</text><circle cx="301.9" cy="36.6" r="2.2" fill="#b451d6"/><text x="308.5" y="39.4" font-size="7.8" fill="#222">Type I</text><circle cx="301.9" cy="53.0" r="2.2" fill="#c99f3c"/><text x="308.5" y="55.8" font-size="7.8" fill="#222">Type II</text><circle cx="301.9" cy="69.4" r="2.2" fill="#72efec"/><text x="308.5" y="72.2" font-size="7.8" fill="#222">Type III</text><circle cx="301.9" cy="85.8" r="2.2" fill="#1b1bee"/><text x="308.5" y="88.6" font-size="7.8" fill="#222">Type IV</text><circle cx="301.9" cy="102.2" r="2.2" fill="#e52222"/><text x="308.5" y="105.0" font-size="7.8" fill="#222">Type V</text></g><g transform="translate(2,0)"><path d="M110.4,234.4 V237.3 H165.4 V234.4 M137.7,235.6 V237.3" fill="none" stroke="#333" stroke-width="0.6"/><g font-size="5.7" fill="#333"><text class="s" x="110" y="230.7" text-anchor="middle">0</text><text class="s" x="137.7" y="230.7" text-anchor="middle">500</text><text class="s" x="158.7" y="230.7">1,000 km</text></g></g><text x="280.7" y="119.5" font-weight="bold" font-size="8.5" fill="#111" style="white-space:pre">pa  (mm)</text><rect x="280.2" y="126.8" width="13" height="28.2" fill="url(#gb)"/><text x="294.7" y="129.7" font-size="8.1" fill="#222">high: 2526.4</text><text x="295.7" y="156.8" font-size="8.1" fill="#222" style="white-space:pre">low: 8.2</text></g><g transform="translate(0,273)"><g clip-path="url(#cc)"><g filter="url(#bl)"><path fill="#a8e43c" d="M231 0h3v3h-3zM231 3h15v3h-15zM231 6h15v3h-15zM231 9h15v3h-15zM231 12h12v3h-12zM234 15h9v3h-9zM234 18h6v3h-6zM234 21h3v3h-3zM234 24h3v3h-3zM234 27h3v3h-3zM231 36h3v3h-3zM231 39h3v3h-3zM231 42h3v3h-3zM231 45h3v3h-3zM231 48h3v3h-3zM231 51h3v3h-3zM231 54h3v3h-3zM231 57h3v3h-3zM87 60h3v3h-3zM81 63h3v3h-3zM225 66h3v3h-3zM222 69h3v3h-3zM219 75h3v3h-3zM216 81h3v3h-3zM213 84h6v3h-6zM210 87h9v3h-9zM210 90h9v3h-9zM201 93h3v3h-3zM207 93h9v3h-9zM207 96h9v3h-9zM207 99h6v3h-6zM198 102h3v3h-3zM204 102h6v3h-6zM198 105h6v3h-6zM180 108h21v3h-21zM174 111h3v3h-3zM120 114h3v3h-3zM96 117h9v3h-9zM78 132h3v3h-3zM63 141h3v3h-3zM60 144h3v3h-3zM63 156h3v3h-3zM60 162h3v3h-3z"/><path fill="#b4e43c" d="M219 3h12v3h-12zM216 6h15v3h-15zM216 9h15v3h-15zM219 12h12v3h-12zM222 15h12v3h-12zM225 18h9v3h-9zM228 21h6v3h-6zM231 24h3v3h-3zM231 27h3v3h-3zM231 30h3v3h-3zM231 33h3v3h-3zM228 39h3v3h-3zM228 42h3v3h-3zM228 45h3v3h-3zM228 48h3v3h-3zM228 51h3v3h-3zM228 54h3v3h-3zM228 57h3v3h-3zM228 60h3v3h-3zM93 66h3v3h-3zM81 69h3v3h-3zM213 81h3v3h-3zM210 84h3v3h-3zM207 87h3v3h-3zM207 90h3v3h-3zM204 93h3v3h-3zM195 102h3v3h-3zM180 105h18v3h-18zM177 108h3v3h-3zM126 111h12v3h-12zM150 111h24v3h-24zM111 114h3v3h-3zM93 117h3v3h-3zM90 120h3v3h-3zM69 138h3v3h-3zM60 141h3v3h-3zM60 147h3v3h-3z"/><path fill="#9ce43c" d="M246 6h3v3h-3zM246 9h3v3h-3zM243 12h9v3h-9zM243 15h6v3h-6zM240 18h6v3h-6zM237 21h6v3h-6zM237 24h3v3h-3zM237 27h3v3h-3zM234 30h3v3h-3zM234 33h3v3h-3zM234 36h3v3h-3zM234 39h6v3h-6zM234 42h6v3h-6zM234 45h6v3h-6zM234 48h6v3h-6zM234 51h3v3h-3zM234 54h3v3h-3zM231 60h3v3h-3zM93 63h3v3h-3zM228 63h3v3h-3zM78 66h3v3h-3zM84 66h3v3h-3zM222 72h3v3h-3zM219 78h3v3h-3zM219 81h3v3h-3zM219 84h6v3h-6zM219 87h6v3h-6zM219 90h9v3h-9zM216 93h12v3h-12zM216 96h9v3h-9zM213 99h9v3h-9zM201 102h3v3h-3zM210 102h12v3h-12zM204 105h15v3h-15zM201 108h6v3h-6zM138 111h3v3h-3zM147 111h3v3h-3zM177 111h24v3h-24zM132 114h3v3h-3zM153 114h18v3h-18zM189 114h9v3h-9zM105 117h3v3h-3zM114 117h3v3h-3zM93 120h3v3h-3zM90 123h3v3h-3zM87 126h3v3h-3zM75 135h3v3h-3zM66 141h3v3h-3zM63 150h3v3h-3zM69 150h9v3h-9zM63 153h18v3h-18zM66 156h15v3h-15zM63 159h18v3h-18zM63 162h18v3h-18zM69 165h12v3h-12zM78 168h3v3h-3z"/><path fill="#c0e43c" d="M216 12h3v3h-3zM216 15h6v3h-6zM216 18h9v3h-9zM216 21h12v3h-12zM213 24h18v3h-18zM204 27h27v3h-27zM204 30h27v3h-27zM204 33h27v3h-27zM204 36h27v3h-27zM210 39h18v3h-18zM213 42h15v3h-15zM216 45h12v3h-12zM219 48h9v3h-9zM222 51h6v3h-6zM222 54h6v3h-6zM225 57h3v3h-3zM84 60h3v3h-3zM90 60h3v3h-3zM225 60h3v3h-3zM54 63h6v3h-6zM225 63h3v3h-3zM87 66h6v3h-6zM222 66h3v3h-3zM219 72h3v3h-3zM216 75h3v3h-3zM213 78h6v3h-6zM207 81h6v3h-6zM204 84h6v3h-6zM198 87h9v3h-9zM195 90h12v3h-12zM189 93h12v3h-12zM186 96h12v3h-12zM183 99h15v3h-15zM180 102h15v3h-15zM174 105h6v3h-6zM126 108h9v3h-9zM138 108h39v3h-39zM120 111h6v3h-6zM96 114h15v3h-15zM114 114h6v3h-6zM90 117h3v3h-3zM87 120h3v3h-3zM87 123h3v3h-3zM84 126h3v3h-3zM81 129h3v3h-3zM75 132h3v3h-3zM72 135h3v3h-3zM63 138h6v3h-6zM57 144h3v3h-3zM60 150h3v3h-3zM60 153h3v3h-3zM60 156h3v3h-3zM60 159h3v3h-3z"/><path fill="#90e43c" d="M249 15h3v3h-3zM246 18h3v3h-3zM243 21h3v3h-3zM240 24h3v3h-3zM237 30h3v3h-3zM237 33h3v3h-3zM237 36h3v3h-3zM240 39h3v3h-3zM240 42h3v3h-3zM240 45h3v3h-3zM240 48h3v3h-3zM237 51h3v3h-3zM237 54h3v3h-3zM234 57h3v3h-3zM84 63h3v3h-3zM90 63h3v3h-3zM231 63h3v3h-3zM228 66h3v3h-3zM225 69h3v3h-3zM222 75h3v3h-3zM222 78h3v3h-3zM222 81h3v3h-3zM225 84h3v3h-3zM225 87h3v3h-3zM228 90h3v3h-3zM228 93h3v3h-3zM225 96h3v3h-3zM222 99h6v3h-6zM222 102h3v3h-3zM219 105h3v3h-3zM207 108h15v3h-15zM141 111h6v3h-6zM201 111h18v3h-18zM123 114h9v3h-9zM135 114h3v3h-3zM150 114h3v3h-3zM171 114h18v3h-18zM198 114h6v3h-6zM108 117h6v3h-6zM117 117h3v3h-3zM189 117h9v3h-9zM96 120h6v3h-6zM84 129h3v3h-3zM72 138h3v3h-3zM69 141h3v3h-3zM63 144h6v3h-6zM63 147h15v3h-15zM66 150h3v3h-3zM78 150h3v3h-3z"/><path fill="#90e448" d="M252 15h3v3h-3zM249 18h3v3h-3zM246 21h3v3h-3zM243 24h3v3h-3zM240 27h3v3h-3zM240 30h3v3h-3zM240 33h3v3h-3zM240 36h3v3h-3zM240 51h3v3h-3zM234 60h3v3h-3zM87 63h3v3h-3zM231 66h3v3h-3zM228 69h3v3h-3zM225 72h6v3h-6zM225 75h3v3h-3zM225 78h3v3h-3zM225 81h3v3h-3zM228 96h3v3h-3zM225 102h3v3h-3zM222 105h3v3h-3zM219 111h3v3h-3zM204 114h12v3h-12zM156 117h6v3h-6zM186 117h3v3h-3zM198 117h3v3h-3zM102 120h3v3h-3zM69 144h3v3h-3z"/><path fill="#84e448" d="M252 18h3v3h-3zM249 21h3v3h-3zM246 24h3v3h-3zM243 27h6v3h-6zM243 30h3v3h-3zM282 30h6v3h-6zM243 33h3v3h-3zM279 33h9v3h-9zM243 36h3v3h-3zM276 36h9v3h-9zM243 39h3v3h-3zM276 39h9v3h-9zM243 42h3v3h-3zM279 42h6v3h-6zM243 45h3v3h-3zM282 45h3v3h-3zM243 48h3v3h-3zM240 54h3v3h-3zM237 57h3v3h-3zM234 63h3v3h-3zM234 66h3v3h-3zM231 69h9v3h-9zM231 72h6v3h-6zM228 75h9v3h-9zM228 78h6v3h-6zM228 81h3v3h-3zM228 84h3v3h-3zM228 87h3v3h-3zM231 93h3v3h-3zM204 96h3v3h-3zM204 99h3v3h-3zM228 99h6v3h-6zM228 102h3v3h-3zM225 105h6v3h-6zM222 108h6v3h-6zM222 111h3v3h-3zM147 114h3v3h-3zM216 114h6v3h-6zM153 117h3v3h-3zM162 117h9v3h-9zM180 117h6v3h-6zM201 117h15v3h-15zM186 120h12v3h-12zM93 123h9v3h-9zM81 132h3v3h-3zM72 144h3v3h-3zM78 147h3v3h-3zM81 153h3v3h-3zM81 156h3v3h-3zM81 159h3v3h-3zM81 162h3v3h-3zM81 165h3v3h-3zM81 168h3v3h-3z"/><path fill="#78d848" d="M252 21h9v3h-9zM252 24h6v3h-6zM282 24h6v3h-6zM249 27h9v3h-9zM276 27h9v3h-9zM249 30h9v3h-9zM273 30h6v3h-6zM246 33h9v3h-9zM270 33h6v3h-6zM246 36h6v3h-6zM270 36h6v3h-6zM246 39h6v3h-6zM270 39h6v3h-6zM246 42h6v3h-6zM270 42h6v3h-6zM246 45h6v3h-6zM273 45h6v3h-6zM246 48h3v3h-3zM276 48h6v3h-6zM246 51h3v3h-3zM279 51h3v3h-3zM243 54h6v3h-6zM240 57h6v3h-6zM240 60h3v3h-3zM237 63h6v3h-6zM240 66h3v3h-3zM240 69h3v3h-3zM240 72h3v3h-3zM237 75h3v3h-3zM237 78h3v3h-3zM234 81h3v3h-3zM231 84h3v3h-3zM231 87h3v3h-3zM231 90h3v3h-3zM198 96h3v3h-3zM234 96h3v3h-3zM234 99h3v3h-3zM234 102h3v3h-3zM231 105h6v3h-6zM231 108h6v3h-6zM228 111h9v3h-9zM141 114h6v3h-6zM222 114h15v3h-15zM120 117h3v3h-3zM132 117h6v3h-6zM150 117h3v3h-3zM219 117h3v3h-3zM105 120h12v3h-12zM156 120h27v3h-27zM198 120h18v3h-18zM102 123h6v3h-6zM180 123h18v3h-18zM90 126h15v3h-15zM87 129h3v3h-3zM84 132h3v3h-3zM78 135h3v3h-3zM75 138h3v3h-3zM75 144h6v3h-6zM81 147h3v3h-3z"/><path fill="#6cd848" d="M261 21h6v3h-6zM276 21h6v3h-6zM285 21h3v3h-3zM258 24h24v3h-24zM258 27h18v3h-18zM258 30h15v3h-15zM255 33h15v3h-15zM252 36h18v3h-18zM252 39h9v3h-9zM264 39h6v3h-6zM252 42h6v3h-6zM264 42h6v3h-6zM252 45h3v3h-3zM267 45h6v3h-6zM249 48h6v3h-6zM267 48h9v3h-9zM249 51h6v3h-6zM267 51h12v3h-12zM249 54h6v3h-6zM270 54h12v3h-12zM246 57h6v3h-6zM273 57h9v3h-9zM243 60h9v3h-9zM276 60h6v3h-6zM243 63h6v3h-6zM279 63h3v3h-3zM81 66h3v3h-3zM243 66h6v3h-6zM243 69h6v3h-6zM243 72h3v3h-3zM240 75h3v3h-3zM240 78h3v3h-3zM237 81h3v3h-3zM234 84h3v3h-3zM234 87h3v3h-3zM234 93h3v3h-3zM198 99h3v3h-3zM237 99h3v3h-3zM237 102h3v3h-3zM237 105h3v3h-3zM237 108h3v3h-3zM237 111h6v3h-6zM237 114h6v3h-6zM123 117h9v3h-9zM138 117h12v3h-12zM222 117h15v3h-15zM117 120h3v3h-3zM216 120h3v3h-3zM108 123h6v3h-6zM159 123h21v3h-21zM198 123h15v3h-15zM105 126h6v3h-6zM180 126h12v3h-12zM90 129h15v3h-15zM87 132h18v3h-18zM81 135h24v3h-24zM78 138h27v3h-27zM75 141h18v3h-18zM81 144h9v3h-9zM84 147h6v3h-6zM84 150h6v3h-6zM84 153h6v3h-6zM84 156h9v3h-9zM84 159h12v3h-12zM84 162h12v3h-12zM84 165h12v3h-12zM84 168h12v3h-12zM87 171h9v3h-9zM93 174h3v3h-3z"/><path fill="#84d848" d="M249 24h3v3h-3zM285 27h3v3h-3zM246 30h3v3h-3zM279 30h3v3h-3zM276 33h3v3h-3zM276 42h3v3h-3zM279 45h3v3h-3zM282 48h3v3h-3zM243 51h3v3h-3zM237 60h3v3h-3zM237 66h3v3h-3zM237 72h3v3h-3zM234 78h3v3h-3zM231 81h3v3h-3zM231 102h3v3h-3zM228 108h3v3h-3zM225 111h3v3h-3zM138 114h3v3h-3zM171 117h9v3h-9zM216 117h3v3h-3zM183 120h3v3h-3zM72 141h3v3h-3zM81 150h3v3h-3z"/><path fill="#e4d83c" d="M84 27h9v3h-9zM81 30h12v3h-12zM78 33h21v3h-21zM66 36h3v3h-3zM72 36h33v3h-33zM66 39h39v3h-39zM63 42h42v3h-42zM57 45h48v3h-48zM51 48h54v3h-54zM51 51h54v3h-54zM51 54h51v3h-51zM51 57h3v3h-3zM60 57h27v3h-27zM90 57h9v3h-9zM48 60h3v3h-3zM63 60h21v3h-21zM96 60h3v3h-3zM186 60h6v3h-6zM51 63h3v3h-3zM75 63h3v3h-3zM99 63h3v3h-3zM186 63h6v3h-6zM63 66h6v3h-6zM186 66h9v3h-9zM60 69h3v3h-3zM84 69h3v3h-3zM183 69h15v3h-15zM183 72h15v3h-15zM186 75h12v3h-12zM186 78h12v3h-12zM186 81h9v3h-9zM186 84h3v3h-3zM183 87h6v3h-6zM180 90h6v3h-6zM180 93h3v3h-3zM144 96h36v3h-36zM141 99h9v3h-9zM138 102h6v3h-6zM123 105h3v3h-3zM132 105h6v3h-6zM99 108h15v3h-15zM90 111h9v3h-9zM84 114h3v3h-3zM81 117h3v3h-3zM78 120h3v3h-3zM78 123h3v3h-3zM75 126h3v3h-3zM69 129h6v3h-6zM60 132h9v3h-9zM57 135h3v3h-3zM54 141h3v3h-3zM51 144h3v3h-3zM33 147h21v3h-21zM39 150h12v3h-12zM42 153h9v3h-9zM48 156h3v3h-3z"/><path fill="#d8d83c" d="M93 27h3v3h-3zM93 30h6v3h-6zM54 57h6v3h-6zM87 57h3v3h-3zM189 57h3v3h-3zM51 60h3v3h-3zM66 63h3v3h-3zM192 63h3v3h-3zM195 66h3v3h-3zM198 69h3v3h-3zM198 72h3v3h-3zM198 75h3v3h-3zM189 84h3v3h-3zM150 99h6v3h-6zM165 99h12v3h-12zM138 105h3v3h-3zM78 126h3v3h-3zM57 138h3v3h-3zM51 150h3v3h-3zM51 153h3v3h-3zM51 156h3v3h-3z"/><path fill="#cce43c" d="M201 36h3v3h-3zM201 39h9v3h-9zM201 42h12v3h-12zM201 45h15v3h-15zM204 48h15v3h-15zM204 51h18v3h-18zM207 54h15v3h-15zM210 57h15v3h-15zM54 60h6v3h-6zM93 60h3v3h-3zM216 60h9v3h-9zM60 63h3v3h-3zM78 63h3v3h-3zM96 63h3v3h-3zM219 63h6v3h-6zM57 66h3v3h-3zM219 66h3v3h-3zM78 69h3v3h-3zM219 69h3v3h-3zM216 72h3v3h-3zM213 75h3v3h-3zM207 78h6v3h-6zM201 81h6v3h-6zM195 84h9v3h-9zM192 87h6v3h-6zM189 90h6v3h-6zM186 93h3v3h-3zM183 96h3v3h-3zM180 99h3v3h-3zM159 102h9v3h-9zM174 102h6v3h-6zM144 105h30v3h-30zM123 108h3v3h-3zM135 108h3v3h-3zM108 111h12v3h-12zM90 114h6v3h-6zM87 117h3v3h-3zM84 120h3v3h-3zM81 123h6v3h-6zM81 126h3v3h-3zM78 129h3v3h-3zM72 132h3v3h-3zM66 135h6v3h-6zM60 138h3v3h-3zM57 141h3v3h-3zM57 147h3v3h-3zM57 150h3v3h-3zM57 162h3v3h-3z"/><path fill="#60d848" d="M261 39h3v3h-3zM258 42h6v3h-6zM255 45h12v3h-12zM255 48h12v3h-12zM255 51h12v3h-12zM255 54h15v3h-15zM252 57h6v3h-6zM267 57h6v3h-6zM252 60h3v3h-3zM273 60h3v3h-3zM249 63h3v3h-3zM276 63h3v3h-3zM249 66h3v3h-3zM249 69h3v3h-3zM246 72h3v3h-3zM243 75h3v3h-3zM243 78h3v3h-3zM240 81h3v3h-3zM237 84h6v3h-6zM237 87h3v3h-3zM234 90h6v3h-6zM237 93h3v3h-3zM240 99h9v3h-9zM240 102h9v3h-9zM240 105h9v3h-9zM240 108h9v3h-9zM243 111h3v3h-3zM237 117h3v3h-3zM138 120h9v3h-9zM153 120h3v3h-3zM219 120h15v3h-15zM114 123h3v3h-3zM156 123h3v3h-3zM213 123h6v3h-6zM111 126h6v3h-6zM159 126h21v3h-21zM192 126h21v3h-21zM105 129h9v3h-9zM171 129h21v3h-21zM105 132h9v3h-9zM105 135h9v3h-9zM105 138h9v3h-9zM93 141h3v3h-3zM102 141h12v3h-12zM90 144h3v3h-3zM105 144h9v3h-9zM90 147h3v3h-3zM90 150h3v3h-3zM90 153h3v3h-3zM93 156h6v3h-6zM96 159h9v3h-9zM120 159h6v3h-6zM96 162h9v3h-9zM117 162h9v3h-9zM96 165h9v3h-9zM117 165h9v3h-9zM96 168h9v3h-9zM117 168h9v3h-9zM96 171h9v3h-9zM96 174h9v3h-9zM120 177h3v3h-3zM255 177h6v3h-6zM117 180h12v3h-12zM252 180h9v3h-9zM117 183h18v3h-18zM249 183h12v3h-12zM117 186h21v3h-21zM249 186h12v3h-12zM117 189h24v3h-24zM246 189h12v3h-12zM117 192h24v3h-24zM243 192h15v3h-15zM117 195h24v3h-24zM246 195h12v3h-12zM123 198h21v3h-21zM246 198h6v3h-6zM255 198h3v3h-3zM126 201h18v3h-18zM126 204h18v3h-18zM126 207h18v3h-18zM135 210h9v3h-9z"/><path fill="#d8e43c" d="M201 51h3v3h-3zM198 54h9v3h-9zM192 57h18v3h-18zM60 60h3v3h-3zM192 60h24v3h-24zM63 63h3v3h-3zM69 63h6v3h-6zM195 63h24v3h-24zM54 66h3v3h-3zM60 66h3v3h-3zM69 66h9v3h-9zM96 66h3v3h-3zM198 66h21v3h-21zM201 69h18v3h-18zM201 72h15v3h-15zM201 75h12v3h-12zM198 78h9v3h-9zM195 81h6v3h-6zM192 84h3v3h-3zM189 87h3v3h-3zM186 90h3v3h-3zM183 93h3v3h-3zM180 96h3v3h-3zM156 99h9v3h-9zM177 99h3v3h-3zM144 102h15v3h-15zM168 102h6v3h-6zM126 105h6v3h-6zM141 105h3v3h-3zM114 108h9v3h-9zM99 111h9v3h-9zM87 114h3v3h-3zM84 117h3v3h-3zM81 120h3v3h-3zM75 129h3v3h-3zM69 132h3v3h-3zM60 135h6v3h-6zM54 144h3v3h-3zM54 147h3v3h-3zM54 150h3v3h-3zM54 153h6v3h-6zM54 156h6v3h-6zM54 159h6v3h-6z"/><path fill="#e4cc3c" d="M102 54h3v3h-3zM99 57h3v3h-3zM99 60h3v3h-3zM48 63h3v3h-3zM102 63h3v3h-3zM51 66h3v3h-3zM99 66h6v3h-6zM57 69h3v3h-3zM69 69h6v3h-6zM180 72h3v3h-3zM180 75h6v3h-6zM180 78h6v3h-6zM180 81h6v3h-6zM180 84h6v3h-6zM180 87h3v3h-3zM150 93h30v3h-30zM141 96h3v3h-3zM138 99h3v3h-3zM126 102h12v3h-12zM111 105h12v3h-12zM96 108h3v3h-3zM87 111h3v3h-3zM78 117h3v3h-3zM75 123h3v3h-3zM72 126h3v3h-3zM66 129h3v3h-3zM54 138h3v3h-3zM51 141h3v3h-3zM36 144h15v3h-15z"/><path fill="#e4c048" d="M105 54h3v3h-3zM102 57h3v3h-3zM102 60h3v3h-3zM105 63h3v3h-3zM21 66h15v3h-15zM105 66h3v3h-3zM21 69h15v3h-15zM54 69h3v3h-3zM63 69h6v3h-6zM21 72h15v3h-15zM21 75h12v3h-12zM168 75h9v3h-9zM18 78h15v3h-15zM168 78h12v3h-12zM18 81h15v3h-15zM168 81h12v3h-12zM15 84h12v3h-12zM168 84h12v3h-12zM15 87h6v3h-6zM162 87h18v3h-18zM147 90h30v3h-30zM138 93h9v3h-9zM132 96h9v3h-9zM126 99h12v3h-12zM120 102h6v3h-6zM99 105h12v3h-12zM93 108h3v3h-3zM84 111h3v3h-3zM81 114h3v3h-3zM75 120h3v3h-3zM69 126h3v3h-3zM60 129h6v3h-6zM57 132h3v3h-3zM54 135h3v3h-3zM27 138h27v3h-27zM27 141h24v3h-24zM30 144h3v3h-3z"/><path fill="#e4b448" d="M108 54h3v3h-3zM42 63h6v3h-6zM36 66h6v3h-6zM36 69h3v3h-3zM93 69h3v3h-3zM102 69h3v3h-3zM36 72h3v3h-3zM33 75h6v3h-6zM33 78h3v3h-3zM153 78h15v3h-15zM33 81h3v3h-3zM153 81h15v3h-15zM27 84h9v3h-9zM147 84h21v3h-21zM21 87h15v3h-15zM141 87h21v3h-21zM15 90h15v3h-15zM135 90h12v3h-12zM129 93h9v3h-9zM123 96h9v3h-9zM117 99h9v3h-9zM99 102h21v3h-21zM96 105h3v3h-3zM90 108h3v3h-3zM78 114h3v3h-3zM75 117h3v3h-3zM72 123h3v3h-3zM66 126h3v3h-3zM57 129h3v3h-3zM24 132h12v3h-12zM54 132h3v3h-3zM27 135h24v3h-24z"/><path fill="#e4a848" d="M105 57h9v3h-9zM105 60h6v3h-6zM108 63h3v3h-3zM42 66h3v3h-3zM48 66h3v3h-3zM108 66h6v3h-6zM39 69h3v3h-3zM51 69h3v3h-3zM90 69h3v3h-3zM99 69h3v3h-3zM105 69h6v3h-6zM39 72h3v3h-3zM132 72h12v3h-12zM39 75h3v3h-3zM132 75h21v3h-21zM36 78h3v3h-3zM132 78h21v3h-21zM36 81h3v3h-3zM132 81h21v3h-21zM36 84h3v3h-3zM132 84h15v3h-15zM36 87h3v3h-3zM129 87h12v3h-12zM30 90h9v3h-9zM126 90h9v3h-9zM15 93h18v3h-18zM120 93h9v3h-9zM102 96h3v3h-3zM114 96h9v3h-9zM96 99h21v3h-21zM93 102h6v3h-6zM93 105h3v3h-3zM87 108h3v3h-3zM81 111h3v3h-3zM75 114h3v3h-3zM72 117h3v3h-3zM72 120h3v3h-3zM66 123h6v3h-6zM57 126h9v3h-9zM24 129h18v3h-18zM54 129h3v3h-3zM36 132h18v3h-18zM51 135h3v3h-3z"/><path fill="#e49c48" d="M114 57h3v3h-3zM111 60h3v3h-3zM111 63h3v3h-3zM45 66h3v3h-3zM114 66h3v3h-3zM42 69h3v3h-3zM87 69h3v3h-3zM96 69h3v3h-3zM111 69h3v3h-3zM60 72h3v3h-3zM78 72h6v3h-6zM129 75h3v3h-3zM39 78h3v3h-3zM129 78h3v3h-3zM39 81h3v3h-3zM129 81h3v3h-3zM39 84h3v3h-3zM129 84h3v3h-3zM39 87h3v3h-3zM126 87h3v3h-3zM123 90h3v3h-3zM33 93h3v3h-3zM117 93h3v3h-3zM93 96h9v3h-9zM105 96h9v3h-9zM90 99h6v3h-6zM90 102h3v3h-3zM90 105h3v3h-3zM84 108h3v3h-3zM78 111h3v3h-3zM72 114h3v3h-3zM66 120h6v3h-6zM60 123h6v3h-6zM24 126h21v3h-21zM54 126h3v3h-3zM42 129h12v3h-12z"/><path fill="#d8903c" d="M117 57h3v3h-3zM117 60h3v3h-3zM117 63h9v3h-9zM120 66h6v3h-6zM117 69h9v3h-9zM45 72h12v3h-12zM75 72h3v3h-3zM84 72h3v3h-3zM102 72h3v3h-3zM117 72h9v3h-9zM108 75h18v3h-18zM42 78h3v3h-3zM117 78h9v3h-9zM117 81h6v3h-6zM42 84h3v3h-3zM117 84h6v3h-6zM42 87h9v3h-9zM114 87h6v3h-6zM42 90h12v3h-12zM96 90h21v3h-21zM42 93h12v3h-12zM87 93h3v3h-3zM33 96h24v3h-24zM84 96h3v3h-3zM21 99h3v3h-3zM51 99h6v3h-6zM84 99h3v3h-3zM54 102h3v3h-3zM84 102h3v3h-3zM54 105h6v3h-6zM72 105h15v3h-15zM33 108h45v3h-45zM27 111h30v3h-30zM27 114h15v3h-15zM24 117h12v3h-12zM24 120h6v3h-6z"/><path fill="#54cc48" d="M258 57h9v3h-9zM255 60h3v3h-3zM270 60h3v3h-3zM252 66h3v3h-3zM252 69h3v3h-3zM249 72h3v3h-3zM249 75h3v3h-3zM246 78h6v3h-6zM246 81h6v3h-6zM246 84h6v3h-6zM243 87h12v3h-12zM243 90h9v3h-9zM243 93h6v3h-6zM201 96h3v3h-3zM201 99h3v3h-3zM123 120h15v3h-15zM237 120h3v3h-3zM117 123h3v3h-3zM141 123h3v3h-3zM222 123h6v3h-6zM231 123h6v3h-6zM156 126h3v3h-3zM216 126h6v3h-6zM225 126h6v3h-6zM159 129h3v3h-3zM198 129h18v3h-18zM159 132h15v3h-15zM189 132h24v3h-24zM162 135h48v3h-48zM168 138h27v3h-27zM174 141h15v3h-15zM114 144h3v3h-3zM108 147h6v3h-6zM120 153h3v3h-3zM105 156h3v3h-3zM105 159h3v3h-3zM117 159h3v3h-3zM126 159h6v3h-6zM108 162h9v3h-9zM129 162h12v3h-12zM108 165h3v3h-3zM135 165h15v3h-15zM108 168h3v3h-3zM138 168h21v3h-21zM141 171h18v3h-18zM144 174h18v3h-18zM144 177h18v3h-18zM147 180h15v3h-15zM249 180h3v3h-3zM147 183h15v3h-15zM246 183h3v3h-3zM150 186h15v3h-15zM153 189h15v3h-15zM243 189h3v3h-3zM156 192h15v3h-15zM156 195h21v3h-21zM156 198h27v3h-27zM156 201h36v3h-36zM153 204h3v3h-3zM165 204h30v3h-30zM168 207h30v3h-30zM180 210h18v3h-18zM186 213h15v3h-15zM180 216h21v3h-21zM183 219h18v3h-18zM180 222h21v3h-21zM180 225h21v3h-21zM183 228h15v3h-15z"/><path fill="#e49c3c" d="M114 60h3v3h-3zM114 63h3v3h-3zM114 69h3v3h-3zM42 72h3v3h-3zM57 72h3v3h-3zM69 72h3v3h-3zM108 72h6v3h-6zM129 72h3v3h-3zM126 78h3v3h-3zM126 81h3v3h-3zM126 84h3v3h-3zM123 87h3v3h-3zM39 90h3v3h-3zM120 90h3v3h-3zM36 93h3v3h-3zM102 93h9v3h-9zM114 93h3v3h-3zM90 96h3v3h-3zM87 99h3v3h-3zM87 102h3v3h-3zM87 105h3v3h-3zM81 108h3v3h-3zM72 111h6v3h-6zM66 114h6v3h-6zM60 117h12v3h-12zM39 120h27v3h-27zM30 123h30v3h-30zM45 126h9v3h-9z"/><path fill="#d8843c" d="M120 60h3v3h-3zM99 72h3v3h-3zM45 75h42v3h-42zM102 75h6v3h-6zM51 78h36v3h-36zM108 78h9v3h-9zM42 81h3v3h-3zM57 81h12v3h-12zM78 81h9v3h-9zM111 81h6v3h-6zM45 84h9v3h-9zM57 84h6v3h-6zM78 84h24v3h-24zM111 84h6v3h-6zM51 87h12v3h-12zM81 87h33v3h-33zM54 90h3v3h-3zM72 90h3v3h-3zM84 90h12v3h-12zM54 93h6v3h-6zM63 93h3v3h-3zM69 93h6v3h-6zM84 93h3v3h-3zM57 96h6v3h-6zM72 96h12v3h-12zM18 99h3v3h-3zM24 99h27v3h-27zM57 99h6v3h-6zM72 99h12v3h-12zM18 102h36v3h-36zM57 102h9v3h-9zM69 102h15v3h-15zM21 105h33v3h-33zM60 105h12v3h-12zM27 108h6v3h-6z"/><path fill="#48c048" d="M258 60h3v3h-3zM267 60h3v3h-3zM255 63h3v3h-3zM273 63h3v3h-3zM276 66h3v3h-3zM252 72h3v3h-3zM252 75h3v3h-3zM252 78h6v3h-6zM252 81h9v3h-9zM252 84h6v3h-6zM240 120h3v3h-3zM120 123h3v3h-3zM126 123h3v3h-3zM138 123h3v3h-3zM144 123h12v3h-12zM237 123h3v3h-3zM117 126h3v3h-3zM222 126h3v3h-3zM234 126h3v3h-3zM117 129h3v3h-3zM216 129h18v3h-18zM117 132h3v3h-3zM156 132h3v3h-3zM216 132h6v3h-6zM228 132h3v3h-3zM156 135h6v3h-6zM213 135h6v3h-6zM117 138h3v3h-3zM156 138h12v3h-12zM198 138h15v3h-15zM117 141h3v3h-3zM156 141h15v3h-15zM189 141h21v3h-21zM93 144h3v3h-3zM102 144h3v3h-3zM156 144h45v3h-45zM105 147h3v3h-3zM114 147h6v3h-6zM156 147h36v3h-36zM93 150h3v3h-3zM105 150h6v3h-6zM120 150h3v3h-3zM141 150h3v3h-3zM156 150h30v3h-30zM96 153h3v3h-3zM105 153h3v3h-3zM123 153h3v3h-3zM138 153h12v3h-12zM153 153h27v3h-27zM117 156h3v3h-3zM126 156h54v3h-54zM108 159h3v3h-3zM114 159h3v3h-3zM132 159h45v3h-45zM141 162h39v3h-39zM162 165h18v3h-18zM162 168h18v3h-18zM162 171h18v3h-18zM162 174h18v3h-18zM162 177h18v3h-18zM249 177h3v3h-3zM162 180h21v3h-21zM246 180h3v3h-3zM165 183h18v3h-18zM165 186h24v3h-24zM243 186h3v3h-3zM168 189h27v3h-27zM174 192h24v3h-24zM180 195h18v3h-18zM210 195h6v3h-6zM189 198h12v3h-12zM210 198h9v3h-9zM195 201h27v3h-27zM198 204h18v3h-18zM198 207h15v3h-15z"/><path fill="#3cb454" d="M261 60h6v3h-6zM258 63h3v3h-3zM255 69h3v3h-3zM255 72h3v3h-3zM255 75h3v3h-3zM258 78h3v3h-3zM123 123h3v3h-3zM132 123h3v3h-3zM240 123h3v3h-3zM153 126h3v3h-3zM237 126h3v3h-3zM153 129h3v3h-3zM234 129h6v3h-6zM153 132h3v3h-3zM234 132h3v3h-3zM219 135h15v3h-15zM153 138h3v3h-3zM153 141h3v3h-3zM210 141h3v3h-3zM150 144h6v3h-6zM204 144h6v3h-6zM93 147h3v3h-3zM129 147h27v3h-27zM195 147h6v3h-6zM123 150h15v3h-15zM147 150h6v3h-6zM189 150h6v3h-6zM108 153h3v3h-3zM117 153h3v3h-3zM129 153h6v3h-6zM183 153h12v3h-12zM108 156h3v3h-3zM183 156h9v3h-9zM111 159h3v3h-3zM180 159h12v3h-12zM180 162h12v3h-12zM183 165h12v3h-12zM183 168h12v3h-12zM183 171h15v3h-15zM183 174h18v3h-18zM183 177h21v3h-21zM186 180h18v3h-18zM189 183h21v3h-21zM243 183h3v3h-3zM195 186h18v3h-18zM198 189h18v3h-18zM198 192h3v3h-3zM207 192h3v3h-3zM213 192h3v3h-3zM201 195h3v3h-3zM207 195h3v3h-3zM216 195h3v3h-3zM204 198h3v3h-3zM219 198h3v3h-3zM222 201h3v3h-3z"/><path fill="#54d848" d="M252 63h3v3h-3zM246 75h3v3h-3zM243 81h3v3h-3zM243 84h3v3h-3zM240 87h3v3h-3zM240 90h3v3h-3zM240 93h3v3h-3zM243 96h3v3h-3zM120 120h3v3h-3zM147 120h6v3h-6zM234 120h3v3h-3zM219 123h3v3h-3zM228 123h3v3h-3zM213 126h3v3h-3zM114 129h3v3h-3zM162 129h9v3h-9zM192 129h6v3h-6zM114 132h3v3h-3zM174 132h15v3h-15zM114 135h3v3h-3zM114 138h3v3h-3zM96 141h6v3h-6zM114 141h3v3h-3zM93 153h3v3h-3zM99 156h6v3h-6zM120 156h6v3h-6zM105 162h3v3h-3zM126 162h3v3h-3zM105 165h3v3h-3zM111 165h6v3h-6zM126 165h9v3h-9zM105 168h3v3h-3zM111 168h6v3h-6zM126 168h12v3h-12zM105 171h6v3h-6zM123 171h18v3h-18zM123 174h21v3h-21zM123 177h21v3h-21zM252 177h3v3h-3zM129 180h18v3h-18zM135 183h12v3h-12zM138 186h12v3h-12zM246 186h3v3h-3zM141 189h12v3h-12zM141 192h15v3h-15zM141 195h15v3h-15zM144 198h12v3h-12zM144 201h12v3h-12zM144 204h9v3h-9zM144 207h3v3h-3zM144 210h3v3h-3z"/><path fill="#3ca860" d="M261 63h3v3h-3zM258 69h3v3h-3zM144 126h3v3h-3zM150 126h3v3h-3zM246 132h3v3h-3zM237 135h3v3h-3zM222 138h9v3h-9zM120 141h3v3h-3zM132 141h3v3h-3zM144 141h3v3h-3zM120 144h3v3h-3zM126 144h3v3h-3zM204 150h6v3h-6zM111 153h6v3h-6zM198 153h9v3h-9zM111 156h3v3h-3zM198 156h6v3h-6zM198 159h6v3h-6zM198 162h6v3h-6zM201 165h3v3h-3zM201 168h3v3h-3zM204 174h3v3h-3zM249 174h3v3h-3zM207 177h3v3h-3zM210 180h3v3h-3zM213 183h3v3h-3zM240 186h3v3h-3zM216 189h3v3h-3z"/><path fill="#3c906c" d="M264 63h3v3h-3zM270 63h3v3h-3zM261 66h3v3h-3zM267 75h3v3h-3zM132 126h3v3h-3zM123 129h6v3h-6zM123 132h3v3h-3zM150 132h3v3h-3zM126 135h3v3h-3zM243 135h3v3h-3zM132 138h9v3h-9zM219 141h3v3h-3zM102 147h3v3h-3zM213 147h3v3h-3zM102 150h3v3h-3zM213 153h3v3h-3zM213 156h3v3h-3zM213 159h3v3h-3zM213 162h3v3h-3zM210 165h6v3h-6zM210 168h6v3h-6zM210 171h6v3h-6zM213 174h6v3h-6zM216 177h3v3h-3zM216 180h3v3h-3zM243 180h3v3h-3zM219 183h3v3h-3zM219 186h3v3h-3zM219 189h3v3h-3zM237 189h3v3h-3zM222 192h3v3h-3zM225 195h3v3h-3zM228 198h3v3h-3z"/><path fill="#3c9078" d="M267 63h3v3h-3zM261 69h3v3h-3zM135 126h3v3h-3zM129 129h3v3h-3zM126 132h3v3h-3zM129 135h3v3h-3zM246 135h3v3h-3zM234 138h3v3h-3zM222 141h6v3h-6zM216 144h3v3h-3zM96 147h3v3h-3zM99 150h3v3h-3zM213 150h3v3h-3zM216 162h3v3h-3zM216 165h3v3h-3zM216 168h3v3h-3zM216 171h3v3h-3zM219 177h3v3h-3zM219 180h3v3h-3zM222 183h3v3h-3zM240 183h3v3h-3zM222 186h3v3h-3zM222 189h6v3h-6zM225 192h3v3h-3zM228 195h3v3h-3z"/><path fill="#e4903c" d="M117 66h3v3h-3zM45 69h6v3h-6zM63 72h6v3h-6zM72 72h3v3h-3zM105 72h3v3h-3zM114 72h3v3h-3zM126 72h3v3h-3zM42 75h3v3h-3zM126 75h3v3h-3zM123 81h3v3h-3zM123 84h3v3h-3zM120 87h3v3h-3zM117 90h3v3h-3zM39 93h3v3h-3zM90 93h12v3h-12zM111 93h3v3h-3zM18 96h15v3h-15zM87 96h3v3h-3zM78 108h3v3h-3zM57 111h15v3h-15zM42 114h24v3h-24zM36 117h24v3h-24zM30 120h9v3h-9zM24 123h6v3h-6z"/><path fill="#48b448" d="M255 66h3v3h-3zM129 123h3v3h-3zM222 132h6v3h-6zM231 132h3v3h-3zM153 135h3v3h-3zM213 138h3v3h-3zM117 144h3v3h-3zM201 144h3v3h-3zM192 147h3v3h-3zM117 150h3v3h-3zM138 150h3v3h-3zM144 150h3v3h-3zM153 150h3v3h-3zM186 150h3v3h-3zM102 153h3v3h-3zM135 153h3v3h-3zM150 153h3v3h-3zM180 153h3v3h-3zM177 159h3v3h-3zM180 168h3v3h-3zM180 171h3v3h-3zM180 174h3v3h-3zM180 177h3v3h-3zM183 183h3v3h-3zM189 186h6v3h-6zM195 189h3v3h-3zM198 195h3v3h-3zM207 198h3v3h-3z"/><path fill="#3ca854" d="M258 66h3v3h-3zM258 72h3v3h-3zM258 75h6v3h-6zM261 78h3v3h-3zM135 123h3v3h-3zM120 126h3v3h-3zM141 126h3v3h-3zM240 126h6v3h-6zM240 129h6v3h-6zM120 132h3v3h-3zM237 132h9v3h-9zM120 135h3v3h-3zM234 135h3v3h-3zM120 138h3v3h-3zM150 138h3v3h-3zM216 138h6v3h-6zM147 141h6v3h-6zM213 141h3v3h-3zM129 144h21v3h-21zM210 144h3v3h-3zM120 147h9v3h-9zM201 147h9v3h-9zM111 150h6v3h-6zM195 150h9v3h-9zM99 153h3v3h-3zM195 153h3v3h-3zM114 156h3v3h-3zM192 156h6v3h-6zM192 159h6v3h-6zM192 162h6v3h-6zM195 165h6v3h-6zM195 168h6v3h-6zM198 171h6v3h-6zM201 174h3v3h-3zM204 177h3v3h-3zM204 180h6v3h-6zM210 183h3v3h-3zM213 186h3v3h-3zM201 192h6v3h-6zM216 192h3v3h-3zM204 195h3v3h-3zM219 195h3v3h-3zM222 198h3v3h-3z"/><path fill="#3c7884" d="M264 66h3v3h-3zM273 66h3v3h-3zM138 132h3v3h-3zM222 144h3v3h-3zM219 147h3v3h-3zM219 150h3v3h-3zM219 153h3v3h-3zM219 162h3v3h-3zM225 162h6v3h-6zM225 165h6v3h-6zM225 168h6v3h-6zM222 171h3v3h-3zM231 174h3v3h-3zM225 177h18v3h-18zM234 180h6v3h-6zM234 183h6v3h-6z"/><path fill="#306c84" d="M267 66h6v3h-6zM267 72h6v3h-6zM147 132h3v3h-3zM141 135h3v3h-3zM246 138h12v3h-12zM231 141h27v3h-27zM228 144h3v3h-3zM237 144h18v3h-18zM225 147h3v3h-3zM234 147h21v3h-21zM222 150h3v3h-3zM234 150h21v3h-21zM222 153h3v3h-3zM234 153h6v3h-6zM222 156h15v3h-15zM219 159h9v3h-9zM234 159h3v3h-3zM234 162h3v3h-3zM234 168h3v3h-3zM249 168h3v3h-3zM234 171h6v3h-6zM243 171h6v3h-6zM225 174h3v3h-3z"/><path fill="#e4cc48" d="M15 69h6v3h-6zM75 69h3v3h-3zM12 72h9v3h-9zM12 75h9v3h-9zM177 75h3v3h-3zM12 78h6v3h-6zM12 81h6v3h-6zM177 90h3v3h-3zM147 93h3v3h-3zM33 144h3v3h-3z"/><path fill="#307884" d="M264 69h3v3h-3zM141 129h6v3h-6zM147 135h3v3h-3zM243 138h3v3h-3zM225 144h3v3h-3zM222 147h3v3h-3zM219 156h3v3h-3zM228 159h6v3h-6zM222 162h3v3h-3zM231 162h3v3h-3zM231 165h3v3h-3zM231 168h3v3h-3zM225 171h9v3h-9zM222 174h3v3h-3zM228 174h3v3h-3zM234 174h12v3h-12z"/><path fill="#306084" d="M267 69h9v3h-9zM141 132h6v3h-6zM144 135h3v3h-3zM231 144h6v3h-6zM228 147h6v3h-6zM225 150h9v3h-9zM225 153h9v3h-9zM240 153h15v3h-15zM237 156h3v3h-3zM249 156h6v3h-6zM237 159h6v3h-6zM237 162h9v3h-9zM234 165h18v3h-18zM237 168h12v3h-12zM240 171h3v3h-3z"/><path fill="#d8783c" d="M87 72h12v3h-12zM87 75h6v3h-6zM96 75h6v3h-6zM45 78h6v3h-6zM87 78h6v3h-6zM96 78h12v3h-12zM45 81h12v3h-12zM69 81h9v3h-9zM87 81h24v3h-24zM54 84h3v3h-3zM63 84h15v3h-15zM102 84h9v3h-9zM63 87h18v3h-18zM57 90h15v3h-15zM75 90h9v3h-9zM60 93h3v3h-3zM66 93h3v3h-3zM75 93h9v3h-9zM63 96h9v3h-9zM63 99h9v3h-9zM66 102h3v3h-3z"/><path fill="#3c9c60" d="M261 72h3v3h-3zM264 75h3v3h-3zM123 126h9v3h-9zM138 126h3v3h-3zM147 126h3v3h-3zM120 129h3v3h-3zM150 129h3v3h-3zM123 135h3v3h-3zM150 135h3v3h-3zM240 135h3v3h-3zM123 138h3v3h-3zM123 141h9v3h-9zM135 141h3v3h-3zM141 141h3v3h-3zM216 141h3v3h-3zM96 144h6v3h-6zM123 144h3v3h-3zM210 147h3v3h-3zM210 150h3v3h-3zM207 153h6v3h-6zM204 156h9v3h-9zM204 159h9v3h-9zM204 162h6v3h-6zM204 165h6v3h-6zM204 168h3v3h-3zM204 171h6v3h-6zM207 174h3v3h-3zM210 177h3v3h-3zM246 177h3v3h-3zM213 180h3v3h-3zM216 186h3v3h-3zM219 192h3v3h-3zM222 195h3v3h-3zM225 198h3v3h-3z"/><path fill="#3c8478" d="M264 72h3v3h-3zM132 129h3v3h-3zM147 129h3v3h-3zM129 132h3v3h-3zM132 135h6v3h-6zM249 135h3v3h-3zM141 138h6v3h-6zM237 138h3v3h-3zM228 141h3v3h-3zM219 144h3v3h-3zM99 147h3v3h-3zM216 147h3v3h-3zM216 150h3v3h-3zM216 153h3v3h-3zM216 156h3v3h-3zM216 159h3v3h-3zM219 165h3v3h-3zM219 168h3v3h-3zM219 171h3v3h-3zM219 174h3v3h-3zM222 180h9v3h-9zM225 183h9v3h-9zM225 186h15v3h-15zM228 189h9v3h-9zM228 192h9v3h-9zM231 195h3v3h-3z"/><path fill="#d86c3c" d="M93 75h3v3h-3z"/><path fill="#d86c30" d="M93 78h3v3h-3z"/><path fill="#48cc48" d="M231 126h3v3h-3zM156 129h3v3h-3zM213 132h3v3h-3zM117 135h3v3h-3zM210 135h3v3h-3zM195 138h3v3h-3zM171 141h3v3h-3zM150 165h12v3h-12zM159 168h3v3h-3zM159 171h3v3h-3zM162 183h3v3h-3zM171 192h3v3h-3zM177 195h3v3h-3zM183 198h6v3h-6zM192 201h3v3h-3zM195 204h3v3h-3zM198 210h3v3h-3z"/><path fill="#3c8484" d="M135 129h6v3h-6zM132 132h6v3h-6zM138 135h3v3h-3zM240 138h3v3h-3zM222 165h3v3h-3zM222 168h3v3h-3zM246 174h3v3h-3zM222 177h3v3h-3zM243 177h3v3h-3zM231 180h3v3h-3zM240 180h3v3h-3z"/><path fill="#3c9c6c" d="M126 138h6v3h-6zM147 138h3v3h-3zM231 138h3v3h-3zM138 141h3v3h-3zM213 144h3v3h-3zM96 150h3v3h-3zM210 162h3v3h-3zM207 168h3v3h-3zM210 174h3v3h-3zM213 177h3v3h-3zM216 183h3v3h-3z"/><path fill="#48b454" d="M126 153h3v3h-3zM180 156h3v3h-3zM180 165h3v3h-3zM183 180h3v3h-3zM186 183h3v3h-3zM210 192h3v3h-3zM201 198h3v3h-3z"/><path fill="#306090" d="M240 156h3v3h-3zM246 159h9v3h-9zM246 162h9v3h-9z"/><path fill="#245490" d="M243 156h3v3h-3z"/><path fill="#305490" d="M246 156h3v3h-3zM243 159h3v3h-3z"/></g></g><use href="#prov"/><use href="#outl" fill="none" stroke="#b4aee0" stroke-width="2.2" stroke-opacity="0.55"/><use href="#outl" fill="none" stroke="#221c3a" stroke-width="0.9"/><use href="#dots"/><use href="#labs"/><use href="#common"/><path d="M285.9,168.4 H322.6 L319.8,172.5 L316,175.4 L312.3,177.7 L308.6,179.5 L304.9,181.4 L301.1,182.9 L297.4,184.4 L296.7,186.6 L295.5,185.9 L295.2,183.6 L292.2,183.3 L288.5,182.1 L285.9,179.9 Z" fill="url(#ic)"/><ellipse cx="295.7" cy="190.1" rx="3.8" ry="2.6" transform="rotate(-30 295.7 190.1)" fill="#52d848"/><ellipse cx="326.4" cy="175" rx="1.7" ry="5" transform="rotate(18 326.4 175)" fill="#50e040"/><g transform="translate(0,-3)"><text x="305.9" y="24.2" font-weight="bold" font-size="9" fill="#000">Legend</text><circle cx="301.9" cy="36.6" r="2.2" fill="#b451d6"/><text x="308.5" y="39.4" font-size="7.8" fill="#222">Type I</text><circle cx="301.9" cy="53.0" r="2.2" fill="#c99f3c"/><text x="308.5" y="55.8" font-size="7.8" fill="#222">Type II</text><circle cx="301.9" cy="69.4" r="2.2" fill="#72efec"/><text x="308.5" y="72.2" font-size="7.8" fill="#222">Type III</text><circle cx="301.9" cy="85.8" r="2.2" fill="#1b1bee"/><text x="308.5" y="88.6" font-size="7.8" fill="#222">Type IV</text><circle cx="301.9" cy="102.2" r="2.2" fill="#e52222"/><text x="308.5" y="105.0" font-size="7.8" fill="#222">Type V</text></g><g transform="translate(-1,0)"><path d="M110.4,234.4 V237.3 H165.4 V234.4 M137.7,235.6 V237.3" fill="none" stroke="#333" stroke-width="0.6"/><g font-size="5.7" fill="#333"><text class="s" x="110" y="230.7" text-anchor="middle">0</text><text class="s" x="137.7" y="230.7" text-anchor="middle">500</text><text class="s" x="158.7" y="230.7">1,000 km</text></g></g><text x="283.4" y="120.2" font-weight="bold" font-size="8.5" fill="#111" style="white-space:pre">im  ( % )</text><rect x="282.9" y="127.4" width="13" height="27.5" fill="url(#gc)"/><text x="297.4" y="130.3" font-size="8.1" fill="#222">high: 84.18</text><text x="298.4" y="156.70000000000002" font-size="8.1" fill="#222" style="white-space:pre">low:  0</text></g><g transform="translate(345,273)"><g clip-path="url(#cc)"><g filter="url(#bl)"><path fill="#60a8f0" d="M231 0h3v3h-3zM219 3h27v3h-27zM216 6h33v3h-33zM216 9h30v3h-30zM216 12h27v3h-27zM216 15h21v3h-21zM216 18h18v3h-18zM216 21h18v3h-18zM219 24h12v3h-12zM33 108h6v3h-6zM27 111h18v3h-18zM54 111h9v3h-9zM27 114h42v3h-42zM24 117h54v3h-54zM24 120h15v3h-15zM45 120h30v3h-30zM24 123h3v3h-3zM48 123h9v3h-9z"/><path fill="#60b4f0" d="M246 9h3v3h-3zM243 12h3v3h-3zM237 15h3v3h-3zM234 18h3v3h-3zM213 24h6v3h-6zM231 24h3v3h-3zM222 27h9v3h-9zM27 108h6v3h-6zM39 108h3v3h-3zM45 111h9v3h-9zM63 111h3v3h-3zM69 114h27v3h-27zM78 117h21v3h-21zM39 120h6v3h-6zM75 120h24v3h-24zM27 123h12v3h-12zM45 123h3v3h-3zM57 123h42v3h-42zM24 126h3v3h-3zM48 126h6v3h-6zM72 126h6v3h-6zM93 126h3v3h-3z"/><path fill="#54c0e4" d="M246 12h6v3h-6zM246 15h3v3h-3zM243 18h3v3h-3zM243 21h3v3h-3zM243 24h3v3h-3zM204 27h12v3h-12zM240 27h6v3h-6zM210 30h9v3h-9zM240 30h6v3h-6zM213 33h9v3h-9zM234 33h6v3h-6zM216 36h9v3h-9zM231 36h3v3h-3zM219 39h6v3h-6zM228 39h3v3h-3zM219 42h12v3h-12zM51 57h21v3h-21zM54 60h9v3h-9zM69 60h9v3h-9zM60 63h6v3h-6zM75 63h9v3h-9zM69 66h15v3h-15zM15 78h3v3h-3zM18 87h3v3h-3zM15 90h6v3h-6zM18 96h6v3h-6zM18 99h3v3h-3zM24 99h3v3h-3zM18 102h15v3h-15zM27 105h6v3h-6zM42 108h9v3h-9zM60 108h12v3h-12zM81 111h12v3h-12zM96 114h3v3h-3zM102 117h9v3h-9zM135 117h3v3h-3zM102 120h21v3h-21zM132 120h6v3h-6zM102 123h12v3h-12zM123 123h12v3h-12zM102 126h12v3h-12zM120 126h9v3h-9zM54 129h15v3h-15zM99 129h24v3h-24zM48 132h24v3h-24zM93 132h9v3h-9zM108 132h12v3h-12zM39 135h60v3h-60zM33 138h66v3h-66zM30 141h33v3h-33zM75 141h18v3h-18zM30 144h12v3h-12zM33 147h3v3h-3z"/><path fill="#60b4e4" d="M240 15h3v3h-3zM237 18h3v3h-3zM234 21h3v3h-3zM219 27h3v3h-3zM231 27h3v3h-3zM228 30h3v3h-3zM39 123h6v3h-6zM27 126h6v3h-6zM45 126h3v3h-3zM54 126h3v3h-3zM69 126h3v3h-3zM78 126h15v3h-15zM96 126h3v3h-3z"/><path fill="#54b4e4" d="M243 15h3v3h-3zM240 18h3v3h-3zM237 21h6v3h-6zM234 24h9v3h-9zM216 27h3v3h-3zM234 27h6v3h-6zM219 30h9v3h-9zM231 30h9v3h-9zM222 33h12v3h-12zM225 36h6v3h-6zM225 39h3v3h-3zM63 60h6v3h-6zM66 63h9v3h-9zM21 99h3v3h-3zM21 105h6v3h-6zM33 105h6v3h-6zM66 111h15v3h-15zM99 117h3v3h-3zM99 120h3v3h-3zM99 123h3v3h-3zM114 123h9v3h-9zM33 126h12v3h-12zM57 126h12v3h-12zM99 126h3v3h-3zM114 126h6v3h-6zM24 129h30v3h-30zM69 129h30v3h-30zM24 132h24v3h-24zM72 132h21v3h-21zM27 135h12v3h-12zM27 138h6v3h-6zM27 141h3v3h-3z"/><path fill="#54ccd8" d="M249 15h6v3h-6zM249 18h6v3h-6zM246 21h12v3h-12zM246 24h12v3h-12zM246 27h12v3h-12zM204 30h3v3h-3zM246 30h9v3h-9zM204 33h9v3h-9zM240 33h3v3h-3zM201 36h15v3h-15zM201 39h15v3h-15zM201 42h18v3h-18zM201 45h30v3h-30zM204 48h3v3h-3zM51 54h3v3h-3zM57 54h12v3h-12zM48 60h6v3h-6zM78 60h3v3h-3zM45 63h12v3h-12zM84 63h6v3h-6zM48 66h6v3h-6zM66 66h3v3h-3zM84 66h6v3h-6zM78 69h6v3h-6zM15 75h3v3h-3zM12 78h3v3h-3zM15 81h3v3h-3zM15 87h3v3h-3zM15 93h6v3h-6zM27 99h3v3h-3zM33 102h3v3h-3zM39 105h3v3h-3zM87 105h3v3h-3zM54 108h3v3h-3zM72 108h3v3h-3zM84 108h9v3h-9zM135 108h6v3h-6zM93 111h3v3h-3zM135 111h9v3h-9zM99 114h9v3h-9zM138 114h6v3h-6zM111 117h3v3h-3zM132 117h3v3h-3zM138 117h6v3h-6zM123 120h9v3h-9zM138 120h6v3h-6zM135 123h9v3h-9zM129 126h12v3h-12zM126 129h9v3h-9zM120 132h6v3h-6zM105 135h3v3h-3zM114 135h6v3h-6zM102 138h15v3h-15zM63 141h9v3h-9zM93 141h24v3h-24zM51 144h42v3h-42zM99 144h18v3h-18zM45 147h9v3h-9zM57 147h15v3h-15zM78 147h12v3h-12zM102 147h15v3h-15zM39 150h12v3h-12zM60 150h9v3h-9zM81 150h6v3h-6zM105 150h6v3h-6zM42 153h6v3h-6zM63 153h3v3h-3z"/><path fill="#54c0d8" d="M246 18h3v3h-3zM207 30h3v3h-3zM216 39h3v3h-3zM54 54h3v3h-3zM24 96h3v3h-3zM51 108h3v3h-3zM57 108h3v3h-3zM135 114h3v3h-3zM123 129h3v3h-3zM102 132h6v3h-6zM99 135h6v3h-6zM108 135h6v3h-6zM99 138h3v3h-3zM72 141h3v3h-3zM42 144h9v3h-9zM36 147h9v3h-9z"/><path fill="#48cccc" d="M258 21h3v3h-3zM258 24h3v3h-3zM255 30h3v3h-3zM243 33h3v3h-3zM207 48h6v3h-6zM225 48h6v3h-6zM228 51h3v3h-3zM72 57h3v3h-3zM57 63h3v3h-3zM21 93h3v3h-3zM66 105h6v3h-6zM147 108h6v3h-6zM144 111h9v3h-9zM141 126h3v3h-3zM135 129h3v3h-3zM126 132h3v3h-3zM117 141h3v3h-3zM93 144h6v3h-6zM117 144h3v3h-3zM54 147h3v3h-3zM75 147h3v3h-3zM60 153h3v3h-3zM66 153h3v3h-3zM84 153h3v3h-3zM63 156h3v3h-3z"/><path fill="#48ccc0" d="M261 21h6v3h-6zM261 24h3v3h-3zM258 27h3v3h-3zM231 39h3v3h-3zM213 48h3v3h-3zM222 48h3v3h-3zM231 48h3v3h-3zM54 51h3v3h-3zM201 51h6v3h-6zM225 51h3v3h-3zM231 51h3v3h-3zM228 54h6v3h-6zM45 66h3v3h-3zM54 66h3v3h-3zM99 66h3v3h-3zM48 105h3v3h-3zM147 105h9v3h-9zM75 108h3v3h-3zM141 108h6v3h-6zM153 108h3v3h-3zM132 114h3v3h-3zM144 114h9v3h-9zM144 117h6v3h-6zM144 120h6v3h-6zM144 123h3v3h-3zM138 129h3v3h-3zM129 132h6v3h-6zM123 135h6v3h-6zM120 138h6v3h-6zM120 141h3v3h-3zM72 147h3v3h-3zM99 147h3v3h-3zM57 150h3v3h-3zM69 150h3v3h-3zM78 150h3v3h-3zM87 150h3v3h-3zM81 153h3v3h-3zM63 159h3v3h-3zM63 162h3v3h-3z"/><path fill="#48c0b4" d="M276 21h6v3h-6zM273 24h6v3h-6zM84 27h12v3h-12zM264 27h12v3h-12zM87 30h9v3h-9zM258 30h3v3h-3zM246 33h9v3h-9zM234 36h3v3h-3zM216 48h3v3h-3zM51 51h3v3h-3zM57 51h3v3h-3zM207 51h3v3h-3zM225 54h3v3h-3zM90 63h3v3h-3zM90 66h3v3h-3zM108 66h3v3h-3zM18 78h3v3h-3zM12 81h3v3h-3zM21 90h3v3h-3zM150 102h6v3h-6zM45 105h3v3h-3zM90 105h3v3h-3zM144 105h3v3h-3zM153 111h3v3h-3zM150 117h3v3h-3zM150 120h3v3h-3zM150 123h3v3h-3zM147 126h3v3h-3zM141 129h3v3h-3zM135 132h3v3h-3zM129 135h3v3h-3zM129 138h3v3h-3zM123 141h6v3h-6zM120 144h6v3h-6zM90 147h3v3h-3zM51 150h6v3h-6zM102 150h3v3h-3zM48 153h3v3h-3zM60 156h3v3h-3zM84 156h3v3h-3zM60 159h3v3h-3z"/><path fill="#3cc090" d="M285 21h3v3h-3zM282 24h3v3h-3zM279 27h3v3h-3zM276 30h3v3h-3zM216 51h3v3h-3zM213 54h3v3h-3zM213 57h3v3h-3zM81 60h3v3h-3zM210 60h3v3h-3zM141 105h3v3h-3zM72 156h3v3h-3zM78 156h3v3h-3zM69 162h3v3h-3zM81 162h3v3h-3zM69 165h3v3h-3z"/><path fill="#48c0c0" d="M264 24h9v3h-9zM261 27h3v3h-3zM147 123h3v3h-3zM144 126h3v3h-3zM126 138h3v3h-3zM111 150h3v3h-3zM66 156h3v3h-3zM93 174h3v3h-3z"/><path fill="#48c0a8" d="M279 24h3v3h-3zM276 27h3v3h-3zM84 30h3v3h-3zM96 30h3v3h-3zM261 30h12v3h-12zM255 33h3v3h-3zM219 48h3v3h-3zM210 51h3v3h-3zM222 51h3v3h-3zM228 57h6v3h-6zM111 63h3v3h-3zM96 66h3v3h-3zM102 66h3v3h-3zM111 66h3v3h-3zM48 69h6v3h-6zM84 69h3v3h-3zM150 99h6v3h-6zM147 102h3v3h-3zM42 105h3v3h-3zM108 114h3v3h-3zM153 114h3v3h-3zM114 117h6v3h-6zM153 117h3v3h-3zM153 120h3v3h-3zM144 129h3v3h-3zM138 132h6v3h-6zM132 135h6v3h-6zM132 138h3v3h-3zM129 141h3v3h-3zM126 144h6v3h-6zM72 150h6v3h-6zM51 153h9v3h-9zM69 153h3v3h-3zM87 153h3v3h-3zM48 156h3v3h-3zM57 156h3v3h-3zM81 156h3v3h-3zM57 159h3v3h-3zM66 159h3v3h-3zM84 159h3v3h-3zM60 162h3v3h-3zM66 162h3v3h-3z"/><path fill="#3cb490" d="M285 24h3v3h-3zM282 27h3v3h-3zM279 30h3v3h-3zM258 33h3v3h-3zM270 33h6v3h-6zM96 39h3v3h-3zM219 51h3v3h-3zM201 54h3v3h-3zM207 57h3v3h-3zM225 57h3v3h-3zM114 63h3v3h-3zM213 63h3v3h-3zM114 66h6v3h-6zM108 69h3v3h-3zM216 69h3v3h-3zM51 105h3v3h-3zM156 108h3v3h-3zM120 117h3v3h-3zM141 138h3v3h-3zM138 141h3v3h-3zM135 144h6v3h-6zM135 147h3v3h-3zM90 150h3v3h-3zM132 150h3v3h-3zM75 156h3v3h-3zM87 156h3v3h-3zM72 159h9v3h-9zM72 162h9v3h-9zM72 165h12v3h-12zM78 168h6v3h-6z"/><path fill="#3cb484" d="M285 27h3v3h-3zM282 30h6v3h-6zM261 33h3v3h-3zM267 33h3v3h-3zM276 33h9v3h-9zM237 36h3v3h-3zM99 42h3v3h-3zM231 42h3v3h-3zM60 51h3v3h-3zM216 54h6v3h-6zM216 57h3v3h-3zM207 60h3v3h-3zM216 60h3v3h-3zM42 63h3v3h-3zM117 63h3v3h-3zM210 63h3v3h-3zM216 63h3v3h-3zM120 66h3v3h-3zM213 66h6v3h-6zM117 69h3v3h-3zM219 69h3v3h-3zM216 72h3v3h-3zM18 81h3v3h-3zM150 96h6v3h-6zM30 99h3v3h-3zM156 99h3v3h-3zM156 111h3v3h-3zM141 141h3v3h-3zM141 144h3v3h-3zM138 147h6v3h-6zM99 150h3v3h-3zM135 150h3v3h-3zM87 159h3v3h-3z"/><path fill="#3ca86c" d="M81 30h3v3h-3zM240 36h3v3h-3zM270 36h3v3h-3zM282 36h3v3h-3zM234 54h3v3h-3zM222 60h6v3h-6zM231 60h3v3h-3zM99 63h3v3h-3zM207 63h3v3h-3zM39 66h6v3h-6zM222 66h3v3h-3zM102 69h6v3h-6zM222 69h3v3h-3zM213 72h3v3h-3zM216 75h3v3h-3zM216 78h3v3h-3zM213 81h3v3h-3zM216 84h6v3h-6zM21 87h3v3h-3zM147 96h3v3h-3zM72 105h3v3h-3zM153 126h3v3h-3zM150 129h3v3h-3zM144 138h3v3h-3zM144 141h3v3h-3zM144 144h3v3h-3zM144 147h3v3h-3zM141 150h3v3h-3zM132 153h3v3h-3zM87 162h3v3h-3z"/><path fill="#48c09c" d="M273 30h3v3h-3zM87 33h12v3h-12zM99 36h6v3h-6zM99 39h6v3h-6zM231 45h3v3h-3zM213 51h3v3h-3zM204 54h9v3h-9zM108 63h3v3h-3zM63 66h3v3h-3zM105 66h3v3h-3zM75 69h3v3h-3zM99 69h3v3h-3zM12 75h3v3h-3zM147 99h3v3h-3zM144 102h3v3h-3zM84 105h3v3h-3zM78 108h6v3h-6zM129 117h3v3h-3zM150 126h3v3h-3zM147 129h3v3h-3zM144 132h3v3h-3zM138 135h6v3h-6zM135 138h6v3h-6zM132 141h3v3h-3zM132 144h3v3h-3zM96 147h3v3h-3zM117 147h18v3h-18zM129 150h3v3h-3zM72 153h3v3h-3zM78 153h3v3h-3zM51 156h6v3h-6zM69 156h3v3h-3zM54 159h3v3h-3zM69 159h3v3h-3zM81 159h3v3h-3zM57 162h3v3h-3zM84 162h3v3h-3zM84 165h3v3h-3zM84 168h3v3h-3z"/><path fill="#309c48" d="M78 33h6v3h-6zM78 36h3v3h-3zM240 39h12v3h-12zM264 39h6v3h-6zM237 42h12v3h-12zM270 42h3v3h-3zM237 45h12v3h-12zM273 45h12v3h-12zM60 48h3v3h-3zM276 48h9v3h-9zM189 57h9v3h-9zM87 60h3v3h-3zM117 60h6v3h-6zM186 60h15v3h-15zM123 63h3v3h-3zM186 63h18v3h-18zM228 63h3v3h-3zM189 66h15v3h-15zM54 69h3v3h-3zM123 69h3v3h-3zM192 69h12v3h-12zM225 69h3v3h-3zM117 72h6v3h-6zM192 72h3v3h-3zM225 72h3v3h-3zM222 75h3v3h-3zM195 81h3v3h-3zM18 84h3v3h-3zM198 87h9v3h-9zM210 87h12v3h-12zM24 93h3v3h-3zM150 93h3v3h-3zM144 96h3v3h-3zM141 99h3v3h-3zM90 102h3v3h-3zM93 108h3v3h-3zM96 111h3v3h-3zM123 117h6v3h-6zM156 123h3v3h-3zM150 132h3v3h-3zM147 141h3v3h-3zM129 156h3v3h-3zM138 156h9v3h-9zM87 168h3v3h-3z"/><path fill="#3cb478" d="M84 33h3v3h-3zM264 33h3v3h-3zM285 33h3v3h-3zM93 36h3v3h-3zM273 36h9v3h-9zM96 42h3v3h-3zM102 42h3v3h-3zM234 51h3v3h-3zM198 54h3v3h-3zM75 57h3v3h-3zM204 57h3v3h-3zM219 57h6v3h-6zM219 60h3v3h-3zM228 60h3v3h-3zM120 63h3v3h-3zM219 63h3v3h-3zM93 66h3v3h-3zM210 66h3v3h-3zM219 66h3v3h-3zM72 69h3v3h-3zM111 69h6v3h-6zM120 69h3v3h-3zM213 69h3v3h-3zM219 72h3v3h-3zM216 81h6v3h-6zM144 99h3v3h-3zM36 102h3v3h-3zM87 102h3v3h-3zM141 102h3v3h-3zM63 105h3v3h-3zM132 111h3v3h-3zM147 132h3v3h-3zM144 135h3v3h-3zM93 150h6v3h-6zM123 150h3v3h-3zM138 150h3v3h-3zM90 153h3v3h-3zM129 153h3v3h-3z"/><path fill="#309c3c" d="M66 36h3v3h-3zM72 36h6v3h-6zM81 36h6v3h-6zM66 39h18v3h-18zM90 39h3v3h-3zM252 39h12v3h-12zM63 42h21v3h-21zM93 42h3v3h-3zM249 42h21v3h-21zM57 45h21v3h-21zM96 45h6v3h-6zM249 45h24v3h-24zM63 48h12v3h-12zM237 48h39v3h-39zM66 51h9v3h-9zM237 51h45v3h-45zM72 54h3v3h-3zM237 54h3v3h-3zM252 54h30v3h-30zM78 57h3v3h-3zM237 57h3v3h-3zM255 57h27v3h-27zM90 60h3v3h-3zM108 60h3v3h-3zM234 60h3v3h-3zM255 60h27v3h-27zM231 63h6v3h-6zM255 63h27v3h-27zM186 66h3v3h-3zM228 66h6v3h-6zM258 66h21v3h-21zM36 69h9v3h-9zM69 69h3v3h-3zM186 69h6v3h-6zM228 69h6v3h-6zM261 69h15v3h-15zM114 72h3v3h-3zM123 72h3v3h-3zM186 72h6v3h-6zM228 72h3v3h-3zM261 72h12v3h-12zM18 75h3v3h-3zM186 75h9v3h-9zM225 75h6v3h-6zM264 75h6v3h-6zM186 78h9v3h-9zM222 78h6v3h-6zM186 81h9v3h-9zM189 84h9v3h-9zM225 84h3v3h-3zM195 87h3v3h-3zM222 87h3v3h-3zM198 90h21v3h-21zM144 93h6v3h-6zM153 93h6v3h-6zM204 93h9v3h-9zM27 96h3v3h-3zM141 96h3v3h-3zM138 99h3v3h-3zM159 99h3v3h-3zM48 102h3v3h-3zM66 102h6v3h-6zM84 102h3v3h-3zM138 102h3v3h-3zM159 102h3v3h-3zM54 105h3v3h-3zM132 105h3v3h-3zM159 105h3v3h-3zM159 108h3v3h-3zM105 111h3v3h-3zM129 111h3v3h-3zM159 111h3v3h-3zM111 114h6v3h-6zM129 114h3v3h-3zM156 126h3v3h-3zM153 129h3v3h-3zM153 132h3v3h-3zM150 135h3v3h-3zM150 138h3v3h-3zM150 141h3v3h-3zM147 144h3v3h-3zM147 147h3v3h-3zM114 150h3v3h-3zM120 150h3v3h-3zM147 150h3v3h-3zM96 153h3v3h-3zM105 153h3v3h-3zM123 153h3v3h-3zM147 153h3v3h-3zM126 156h3v3h-3zM132 156h6v3h-6zM90 159h3v3h-3zM129 159h9v3h-9z"/><path fill="#30a848" d="M87 36h3v3h-3zM255 36h6v3h-6zM237 39h3v3h-3zM234 42h3v3h-3zM273 42h3v3h-3zM279 42h6v3h-6zM201 60h3v3h-3zM204 66h3v3h-3zM45 69h3v3h-3zM87 69h3v3h-3zM96 69h3v3h-3zM204 69h3v3h-3zM195 78h3v3h-3zM222 81h3v3h-3zM207 87h3v3h-3zM147 138h3v3h-3zM87 165h3v3h-3z"/><path fill="#30a860" d="M90 36h3v3h-3zM243 36h3v3h-3zM267 36h3v3h-3zM93 39h3v3h-3zM234 39h3v3h-3zM279 39h3v3h-3zM54 48h3v3h-3zM201 57h3v3h-3zM111 60h6v3h-6zM204 60h3v3h-3zM93 63h3v3h-3zM102 63h3v3h-3zM210 69h3v3h-3zM210 72h3v3h-3zM222 72h3v3h-3zM201 75h12v3h-12zM198 78h15v3h-15zM219 78h3v3h-3zM201 81h12v3h-12zM222 84h3v3h-3zM132 108h3v3h-3zM156 117h3v3h-3zM144 150h3v3h-3zM141 153h3v3h-3zM87 171h3v3h-3z"/><path fill="#48c090" d="M96 36h3v3h-3zM222 54h3v3h-3zM210 57h3v3h-3zM213 60h3v3h-3zM156 102h3v3h-3zM156 105h3v3h-3zM153 123h3v3h-3zM135 141h3v3h-3zM93 147h3v3h-3zM126 150h3v3h-3zM75 153h3v3h-3z"/><path fill="#30a854" d="M246 36h9v3h-9zM261 36h6v3h-6zM270 39h3v3h-3zM282 39h3v3h-3zM276 42h3v3h-3zM234 45h3v3h-3zM51 48h3v3h-3zM57 48h3v3h-3zM63 51h3v3h-3zM198 57h3v3h-3zM234 57h3v3h-3zM84 60h3v3h-3zM96 63h3v3h-3zM105 63h3v3h-3zM204 63h3v3h-3zM225 63h3v3h-3zM36 66h3v3h-3zM123 66h3v3h-3zM207 66h3v3h-3zM225 66h3v3h-3zM207 69h3v3h-3zM195 72h15v3h-15zM195 75h6v3h-6zM198 81h3v3h-3zM15 84h3v3h-3zM198 84h18v3h-18zM156 96h3v3h-3zM135 105h3v3h-3zM156 120h3v3h-3zM147 135h3v3h-3zM135 153h6v3h-6zM144 153h3v3h-3z"/><path fill="#30903c" d="M84 39h6v3h-6zM78 45h3v3h-3zM102 45h3v3h-3zM75 48h3v3h-3zM75 51h3v3h-3zM75 54h3v3h-3zM240 54h12v3h-12zM240 57h15v3h-15zM96 60h12v3h-12zM237 60h3v3h-3zM249 60h6v3h-6zM237 63h3v3h-3zM252 63h3v3h-3zM234 66h3v3h-3zM255 66h3v3h-3zM183 69h3v3h-3zM258 69h3v3h-3zM108 72h6v3h-6zM183 72h3v3h-3zM231 72h3v3h-3zM183 75h3v3h-3zM183 78h3v3h-3zM183 81h3v3h-3zM225 81h3v3h-3zM183 84h6v3h-6zM186 87h9v3h-9zM147 90h6v3h-6zM201 93h3v3h-3zM213 93h3v3h-3zM159 96h3v3h-3zM45 102h3v3h-3zM135 102h3v3h-3zM60 105h3v3h-3zM93 105h3v3h-3zM99 111h6v3h-6zM117 114h6v3h-6zM126 114h3v3h-3zM159 114h3v3h-3zM156 129h3v3h-3zM153 135h3v3h-3zM147 156h3v3h-3zM138 159h3v3h-3z"/><path fill="#3ca860" d="M273 39h6v3h-6zM234 48h3v3h-3zM222 63h3v3h-3zM213 75h3v3h-3zM219 75h3v3h-3zM213 78h3v3h-3zM138 105h3v3h-3zM156 114h3v3h-3zM93 153h3v3h-3zM108 153h3v3h-3zM90 156h3v3h-3z"/><path fill="#309030" d="M84 42h9v3h-9zM81 45h15v3h-15zM78 48h27v3h-27zM78 51h27v3h-27zM78 54h33v3h-33zM81 57h36v3h-36zM93 60h3v3h-3zM240 60h9v3h-9zM240 63h12v3h-12zM33 66h3v3h-3zM57 66h6v3h-6zM237 66h18v3h-18zM234 69h24v3h-24zM126 72h18v3h-18zM180 72h3v3h-3zM234 72h27v3h-27zM117 75h36v3h-36zM168 75h15v3h-15zM231 75h33v3h-33zM123 78h60v3h-60zM228 78h36v3h-36zM123 81h60v3h-60zM228 81h33v3h-33zM123 84h60v3h-60zM228 84h30v3h-30zM123 87h63v3h-63zM225 87h30v3h-30zM123 90h24v3h-24zM153 90h45v3h-45zM219 90h3v3h-3zM234 90h18v3h-18zM123 93h21v3h-21zM159 93h42v3h-42zM216 93h3v3h-3zM123 96h18v3h-18zM162 96h51v3h-51zM33 99h3v3h-3zM123 99h15v3h-15zM162 99h3v3h-3zM39 102h3v3h-3zM51 102h3v3h-3zM120 102h15v3h-15zM162 102h3v3h-3zM57 105h3v3h-3zM75 105h3v3h-3zM81 105h3v3h-3zM99 105h6v3h-6zM117 105h15v3h-15zM162 105h3v3h-3zM96 108h36v3h-36zM162 108h3v3h-3zM108 111h21v3h-21zM162 111h3v3h-3zM123 114h3v3h-3zM162 114h3v3h-3zM159 117h6v3h-6zM159 120h9v3h-9zM159 123h9v3h-9zM159 126h9v3h-9zM159 129h9v3h-9zM156 132h9v3h-9zM156 135h6v3h-6zM153 138h3v3h-3zM117 150h3v3h-3zM99 153h3v3h-3zM111 153h3v3h-3zM93 156h3v3h-3zM126 159h3v3h-3zM141 159h6v3h-6zM129 162h9v3h-9z"/><path fill="#3cb46c" d="M69 54h3v3h-3zM126 153h3v3h-3z"/><path fill="#3c9030" d="M117 57h3v3h-3zM90 69h3v3h-3zM15 72h3v3h-3zM48 72h6v3h-6zM81 72h3v3h-3zM99 72h3v3h-3zM105 72h3v3h-3zM120 78h3v3h-3zM120 81h3v3h-3zM120 84h3v3h-3zM120 87h3v3h-3zM222 90h3v3h-3zM231 90h3v3h-3zM120 96h3v3h-3zM213 96h3v3h-3zM111 99h12v3h-12zM165 99h39v3h-39zM42 102h3v3h-3zM93 102h3v3h-3zM102 102h18v3h-18zM165 102h24v3h-24zM195 102h3v3h-3zM96 105h3v3h-3zM105 105h12v3h-12zM165 105h15v3h-15zM165 108h9v3h-9zM165 111h6v3h-6zM165 114h6v3h-6zM165 117h6v3h-6zM168 120h6v3h-6zM168 123h6v3h-6zM168 126h3v3h-3zM168 129h3v3h-3zM165 132h3v3h-3zM162 135h3v3h-3zM156 138h3v3h-3zM102 153h3v3h-3zM120 153h3v3h-3zM123 156h3v3h-3zM126 162h3v3h-3zM138 162h3v3h-3zM129 165h6v3h-6z"/><path fill="#90c030" d="M21 66h9v3h-9zM15 69h6v3h-6zM27 69h3v3h-3zM63 69h3v3h-3zM66 72h6v3h-6zM48 75h6v3h-6zM69 75h21v3h-21zM30 78h6v3h-6zM42 78h6v3h-6zM69 78h27v3h-27zM27 81h18v3h-18zM69 81h27v3h-27zM27 84h12v3h-12zM66 84h27v3h-27zM27 87h12v3h-12zM66 87h24v3h-24zM27 90h15v3h-15zM66 90h9v3h-9zM30 93h30v3h-30zM63 93h9v3h-9zM36 96h33v3h-33zM57 99h6v3h-6zM210 102h6v3h-6zM225 102h3v3h-3zM207 105h3v3h-3zM204 108h3v3h-3zM204 111h3v3h-3zM204 123h3v3h-3zM192 129h3v3h-3zM189 132h3v3h-3zM183 138h3v3h-3zM150 147h3v3h-3zM90 168h3v3h-3zM117 168h3v3h-3z"/><path fill="#78b430" d="M30 66h3v3h-3zM21 72h6v3h-6zM24 75h3v3h-3zM36 75h3v3h-3zM42 75h3v3h-3zM99 75h6v3h-6zM24 78h3v3h-3zM105 78h3v3h-3zM105 81h6v3h-6zM102 84h6v3h-6zM96 87h12v3h-12zM90 90h3v3h-3zM87 93h3v3h-3zM33 96h3v3h-3zM39 99h6v3h-6zM51 99h3v3h-3zM72 99h6v3h-6zM81 99h3v3h-3zM225 99h3v3h-3zM57 102h6v3h-6zM207 102h3v3h-3zM219 102h3v3h-3zM204 105h3v3h-3zM204 117h3v3h-3zM204 120h3v3h-3zM201 123h3v3h-3zM192 126h3v3h-3zM171 135h15v3h-15zM150 150h3v3h-3zM150 156h3v3h-3zM93 159h3v3h-3zM150 159h3v3h-3zM90 165h3v3h-3zM147 165h6v3h-6z"/><path fill="#84c030" d="M21 69h6v3h-6zM27 72h6v3h-6zM72 72h3v3h-3zM27 75h9v3h-9zM45 75h3v3h-3zM96 75h3v3h-3zM27 78h3v3h-3zM36 78h6v3h-6zM96 78h6v3h-6zM24 81h3v3h-3zM96 81h6v3h-6zM24 84h3v3h-3zM93 84h6v3h-6zM90 87h3v3h-3zM75 90h15v3h-15zM72 93h15v3h-15zM69 96h15v3h-15zM54 99h3v3h-3zM63 99h3v3h-3zM228 99h3v3h-3zM216 102h3v3h-3zM201 126h3v3h-3zM186 135h3v3h-3zM162 138h3v3h-3zM123 168h6v3h-6zM138 168h3v3h-3zM90 171h3v3h-3z"/><path fill="#84b430" d="M30 69h3v3h-3zM102 78h3v3h-3zM102 81h3v3h-3zM99 84h3v3h-3zM93 87h3v3h-3zM84 96h3v3h-3zM78 99h3v3h-3zM222 102h3v3h-3zM204 114h3v3h-3zM195 126h6v3h-6z"/><path fill="#489c30" d="M33 69h3v3h-3zM36 72h6v3h-6zM78 72h3v3h-3zM102 72h3v3h-3zM114 75h3v3h-3zM117 78h3v3h-3zM117 81h3v3h-3zM117 84h3v3h-3zM228 90h3v3h-3zM120 93h3v3h-3zM219 93h3v3h-3zM216 96h3v3h-3zM90 99h9v3h-9zM102 99h6v3h-6zM204 99h3v3h-3zM63 102h3v3h-3zM72 102h3v3h-3zM96 102h6v3h-6zM201 102h3v3h-3zM78 105h3v3h-3zM180 105h21v3h-21zM174 108h24v3h-24zM174 111h18v3h-18zM171 114h18v3h-18zM174 117h15v3h-15zM174 120h12v3h-12zM174 123h6v3h-6zM174 126h3v3h-3zM171 129h3v3h-3zM168 132h3v3h-3zM114 153h6v3h-6zM114 156h9v3h-9zM117 159h9v3h-9zM147 159h3v3h-3zM90 162h3v3h-3zM120 162h6v3h-6zM120 165h9v3h-9zM135 165h3v3h-3z"/><path fill="#6cb430" d="M57 69h3v3h-3zM54 72h3v3h-3zM87 72h3v3h-3zM39 75h3v3h-3zM105 75h3v3h-3zM108 78h3v3h-3zM108 84h3v3h-3zM108 87h3v3h-3zM93 90h3v3h-3zM102 90h9v3h-9zM87 96h3v3h-3zM228 96h3v3h-3zM45 99h3v3h-3zM222 99h3v3h-3zM78 102h3v3h-3zM201 111h3v3h-3zM201 114h3v3h-3zM201 120h3v3h-3zM198 123h3v3h-3zM189 129h3v3h-3zM186 132h3v3h-3zM96 156h3v3h-3zM144 162h3v3h-3z"/><path fill="#9cc030" d="M60 69h3v3h-3zM66 75h3v3h-3zM66 78h3v3h-3zM66 81h3v3h-3zM39 84h3v3h-3zM39 87h3v3h-3zM42 90h15v3h-15zM63 90h3v3h-3zM60 93h3v3h-3zM210 105h3v3h-3zM207 114h3v3h-3zM252 186h3v3h-3z"/><path fill="#60a830" d="M66 69h3v3h-3zM18 72h3v3h-3zM96 72h3v3h-3zM21 75h3v3h-3zM108 75h3v3h-3zM111 78h3v3h-3zM21 81h3v3h-3zM111 81h3v3h-3zM114 84h3v3h-3zM114 87h3v3h-3zM24 90h3v3h-3zM114 90h3v3h-3zM93 93h27v3h-27zM222 93h12v3h-12zM30 96h3v3h-3zM90 96h3v3h-3zM219 96h6v3h-6zM36 99h3v3h-3zM84 99h3v3h-3zM210 99h3v3h-3zM216 99h3v3h-3zM54 102h3v3h-3zM81 102h3v3h-3zM204 102h3v3h-3zM201 105h3v3h-3zM201 108h3v3h-3zM198 111h3v3h-3zM192 114h9v3h-9zM192 117h3v3h-3zM192 120h3v3h-3zM192 123h3v3h-3zM189 126h3v3h-3zM180 129h9v3h-9zM174 132h12v3h-12zM168 135h3v3h-3zM159 138h3v3h-3zM150 153h3v3h-3zM111 156h3v3h-3zM141 162h3v3h-3zM147 162h6v3h-6zM117 165h3v3h-3zM138 165h3v3h-3zM120 168h3v3h-3zM129 168h3v3h-3zM135 168h3v3h-3z"/><path fill="#54a830" d="M93 69h3v3h-3zM45 72h3v3h-3zM111 75h3v3h-3zM114 78h3v3h-3zM114 81h3v3h-3zM117 90h3v3h-3zM243 93h3v3h-3zM99 96h6v3h-6zM189 117h3v3h-3zM189 120h3v3h-3zM189 123h3v3h-3zM186 126h3v3h-3zM177 129h3v3h-3z"/><path fill="#549c30" d="M12 72h3v3h-3zM42 72h3v3h-3zM84 72h3v3h-3zM21 78h3v3h-3zM21 84h3v3h-3zM117 87h3v3h-3zM225 90h3v3h-3zM234 93h9v3h-9zM246 93h3v3h-3zM93 96h6v3h-6zM105 96h15v3h-15zM99 99h3v3h-3zM207 99h3v3h-3zM198 108h3v3h-3zM192 111h6v3h-6zM189 114h3v3h-3zM186 120h3v3h-3zM180 123h9v3h-9zM177 126h9v3h-9zM174 129h3v3h-3zM171 132h3v3h-3zM165 135h3v3h-3zM153 141h3v3h-3zM150 144h3v3h-3zM114 159h3v3h-3zM117 162h3v3h-3zM132 168h3v3h-3z"/><path fill="#6ca830" d="M33 72h3v3h-3zM75 72h3v3h-3zM111 84h3v3h-3zM24 87h3v3h-3zM111 87h3v3h-3zM96 90h6v3h-6zM111 90h3v3h-3zM27 93h3v3h-3zM90 93h3v3h-3zM225 96h3v3h-3zM48 99h3v3h-3zM66 99h6v3h-6zM213 99h3v3h-3zM219 99h3v3h-3zM75 102h3v3h-3zM195 117h9v3h-9zM195 120h6v3h-6zM195 123h3v3h-3z"/><path fill="#9ccc30" d="M57 72h9v3h-9zM90 72h6v3h-6zM54 75h12v3h-12zM90 75h6v3h-6zM48 78h18v3h-18zM45 81h21v3h-21zM42 84h24v3h-24zM42 87h24v3h-24zM57 90h6v3h-6zM213 105h9v3h-9zM207 108h9v3h-9zM207 111h6v3h-6zM207 117h3v3h-3zM204 126h3v3h-3zM195 129h9v3h-9zM192 132h3v3h-3zM189 135h3v3h-3zM180 138h3v3h-3zM156 141h3v3h-3zM114 162h3v3h-3zM135 171h3v3h-3zM249 186h3v3h-3zM255 186h3v3h-3zM255 189h3v3h-3z"/><path fill="#489030" d="M120 90h3v3h-3zM87 99h3v3h-3zM108 99h3v3h-3zM189 102h6v3h-6zM198 102h3v3h-3zM171 111h3v3h-3zM171 117h3v3h-3zM171 126h3v3h-3z"/><path fill="#c0d83c" d="M234 96h3v3h-3zM228 105h3v3h-3zM225 108h3v3h-3zM222 111h3v3h-3zM219 114h3v3h-3zM213 117h3v3h-3zM201 135h3v3h-3zM168 138h6v3h-6zM189 138h3v3h-3zM147 168h3v3h-3zM249 189h3v3h-3z"/><path fill="#c0d830" d="M243 96h3v3h-3zM234 99h15v3h-15zM231 102h3v3h-3zM237 102h12v3h-12zM231 105h3v3h-3zM237 105h12v3h-12zM228 108h6v3h-6zM240 108h9v3h-9zM225 111h9v3h-9zM222 114h9v3h-9zM216 117h12v3h-12zM210 120h6v3h-6zM210 123h3v3h-3zM207 126h3v3h-3zM204 132h3v3h-3zM192 138h12v3h-12zM183 141h3v3h-3zM102 156h3v3h-3zM96 159h3v3h-3zM93 165h3v3h-3zM129 171h3v3h-3zM138 171h3v3h-3z"/><path fill="#b4d83c" d="M231 99h3v3h-3zM219 108h6v3h-6zM219 111h3v3h-3zM216 114h3v3h-3zM210 117h3v3h-3zM207 123h3v3h-3zM204 129h3v3h-3zM201 132h3v3h-3zM192 135h9v3h-9zM174 138h3v3h-3zM153 144h3v3h-3zM111 159h3v3h-3zM93 162h3v3h-3zM153 162h3v3h-3zM153 165h3v3h-3zM150 168h3v3h-3zM246 186h3v3h-3z"/><path fill="#a8cc30" d="M228 102h3v3h-3zM222 105h3v3h-3zM216 108h3v3h-3zM213 111h3v3h-3zM210 114h3v3h-3zM207 120h3v3h-3zM165 138h3v3h-3zM186 138h3v3h-3zM141 165h6v3h-6zM132 171h3v3h-3zM252 189h3v3h-3z"/><path fill="#ccd830" d="M234 102h3v3h-3zM234 105h3v3h-3zM234 108h6v3h-6zM234 111h12v3h-12zM231 114h6v3h-6zM216 120h9v3h-9zM213 123h9v3h-9zM210 126h3v3h-3zM180 141h3v3h-3zM186 141h3v3h-3zM141 168h3v3h-3zM126 171h3v3h-3zM258 186h3v3h-3z"/><path fill="#a8d83c" d="M225 105h3v3h-3zM216 111h3v3h-3zM213 114h3v3h-3zM198 132h3v3h-3z"/><path fill="#cce430" d="M237 114h6v3h-6zM228 117h12v3h-12zM225 120h6v3h-6zM222 123h3v3h-3zM213 126h12v3h-12zM207 129h12v3h-12zM204 135h3v3h-3zM159 141h3v3h-3zM99 159h3v3h-3zM96 162h3v3h-3zM93 168h3v3h-3zM144 168h3v3h-3zM153 168h3v3h-3zM93 171h3v3h-3zM123 171h3v3h-3z"/><path fill="#d8e430" d="M231 120h12v3h-12zM225 123h18v3h-18zM225 126h21v3h-21zM219 129h18v3h-18zM207 132h18v3h-18zM207 135h12v3h-12zM204 138h3v3h-3zM174 141h6v3h-6zM189 141h15v3h-15zM156 144h3v3h-3zM153 147h3v3h-3zM153 153h3v3h-3zM108 156h3v3h-3zM153 156h3v3h-3zM153 159h3v3h-3zM96 165h3v3h-3zM141 171h12v3h-12zM123 174h15v3h-15zM120 177h15v3h-15zM117 180h15v3h-15z"/><path fill="#e4e430" d="M237 129h9v3h-9zM225 132h18v3h-18zM219 135h12v3h-12zM207 138h18v3h-18zM162 141h12v3h-12zM204 141h18v3h-18zM177 144h12v3h-12zM153 150h3v3h-3zM105 156h3v3h-3zM99 162h3v3h-3zM156 165h3v3h-3zM96 168h3v3h-3zM153 171h3v3h-3zM138 174h15v3h-15zM132 180h3v3h-3zM120 183h12v3h-12z"/><path fill="#a8cc3c" d="M195 132h3v3h-3zM177 138h3v3h-3zM99 156h3v3h-3z"/><path fill="#f0f030" d="M243 132h6v3h-6zM234 135h18v3h-18zM246 138h6v3h-6zM222 141h3v3h-3zM159 144h3v3h-3zM174 144h3v3h-3zM189 144h3v3h-3zM156 147h3v3h-3z"/><path fill="#54cccc" d="M120 135h3v3h-3zM117 138h3v3h-3z"/><path fill="#e4f030" d="M231 135h3v3h-3zM225 138h3v3h-3z"/><path fill="#f0f024" d="M228 138h18v3h-18zM252 138h6v3h-6zM225 141h33v3h-33zM162 144h12v3h-12zM192 144h30v3h-30zM159 147h6v3h-6zM168 147h21v3h-21zM156 150h6v3h-6zM171 150h3v3h-3zM156 153h3v3h-3zM102 159h3v3h-3zM156 159h3v3h-3zM156 162h3v3h-3zM156 168h3v3h-3zM153 174h3v3h-3zM135 177h3v3h-3zM147 177h3v3h-3zM117 183h3v3h-3z"/><path fill="#f0e424" d="M222 144h33v3h-33zM165 147h3v3h-3zM189 147h57v3h-57zM162 150h9v3h-9zM174 150h51v3h-51zM231 150h9v3h-9zM159 153h42v3h-42zM210 153h12v3h-12zM156 156h42v3h-42zM213 156h6v3h-6zM159 159h36v3h-36zM159 162h27v3h-27zM99 165h3v3h-3zM159 165h24v3h-24zM159 168h18v3h-18zM96 171h3v3h-3zM156 171h21v3h-21zM156 174h18v3h-18zM138 177h9v3h-9zM150 177h3v3h-3zM135 180h3v3h-3zM132 183h6v3h-6zM249 183h6v3h-6zM246 189h3v3h-3z"/><path fill="#f0d824" d="M246 147h9v3h-9zM225 150h6v3h-6zM240 150h15v3h-15zM201 153h9v3h-9zM222 153h33v3h-33zM198 156h15v3h-15zM219 156h36v3h-36zM195 159h45v3h-45zM246 159h9v3h-9zM102 162h3v3h-3zM186 162h48v3h-48zM114 165h3v3h-3zM183 165h33v3h-33zM219 165h12v3h-12zM177 168h12v3h-12zM195 168h18v3h-18zM222 168h6v3h-6zM177 171h9v3h-9zM198 171h9v3h-9zM174 174h6v3h-6zM153 177h21v3h-21zM138 180h12v3h-12zM138 183h9v3h-9zM129 186h18v3h-18zM135 189h6v3h-6z"/><path fill="#f0c024" d="M105 159h6v3h-6zM102 165h3v3h-3zM114 168h3v3h-3zM237 168h9v3h-9zM99 171h3v3h-3zM231 171h18v3h-18zM228 174h21v3h-21zM222 177h3v3h-3zM234 177h12v3h-12zM168 180h6v3h-6zM177 180h6v3h-6zM198 180h6v3h-6zM207 180h9v3h-9zM219 180h3v3h-3zM237 180h9v3h-9zM156 183h9v3h-9zM243 183h6v3h-6zM117 186h6v3h-6zM153 186h9v3h-9zM243 186h3v3h-3zM117 189h15v3h-15zM147 189h15v3h-15zM117 192h18v3h-18zM141 192h15v3h-15zM252 192h6v3h-6zM117 195h21v3h-21zM123 198h12v3h-12zM126 201h9v3h-9zM126 204h6v3h-6zM126 207h6v3h-6z"/><path fill="#f0cc24" d="M240 159h6v3h-6zM111 162h3v3h-3zM234 162h21v3h-21zM216 165h3v3h-3zM231 165h21v3h-21zM99 168h3v3h-3zM189 168h6v3h-6zM213 168h9v3h-9zM228 168h9v3h-9zM246 168h6v3h-6zM186 171h12v3h-12zM207 171h24v3h-24zM96 174h3v3h-3zM180 174h48v3h-48zM174 177h48v3h-48zM150 180h18v3h-18zM183 180h15v3h-15zM216 180h3v3h-3zM147 183h9v3h-9zM255 183h3v3h-3zM123 186h6v3h-6zM147 186h6v3h-6zM132 189h3v3h-3zM141 189h6v3h-6zM135 192h6v3h-6z"/><path fill="#f0b424" d="M105 162h6v3h-6zM105 165h3v3h-3zM111 165h3v3h-3zM102 168h6v3h-6zM102 171h6v3h-6zM99 174h6v3h-6zM249 174h3v3h-3zM225 177h9v3h-9zM246 177h15v3h-15zM174 180h3v3h-3zM204 180h3v3h-3zM222 180h15v3h-15zM246 180h15v3h-15zM165 183h36v3h-36zM213 183h15v3h-15zM234 183h9v3h-9zM258 183h3v3h-3zM162 186h18v3h-18zM240 186h3v3h-3zM162 189h15v3h-15zM243 189h3v3h-3zM156 192h6v3h-6zM165 192h9v3h-9zM243 192h9v3h-9zM138 195h18v3h-18zM246 195h12v3h-12zM135 198h18v3h-18zM246 198h6v3h-6zM255 198h3v3h-3zM135 201h15v3h-15zM132 204h18v3h-18zM132 207h15v3h-15zM135 210h12v3h-12z"/><path fill="#f0a824" d="M108 165h3v3h-3zM108 168h6v3h-6zM108 171h3v3h-3zM201 183h12v3h-12zM228 183h6v3h-6zM180 186h60v3h-60zM177 189h63v3h-63zM162 192h3v3h-3zM174 192h63v3h-63zM156 195h21v3h-21zM183 195h18v3h-18zM207 195h27v3h-27zM153 198h18v3h-18zM186 198h6v3h-6zM213 198h18v3h-18zM150 201h18v3h-18zM216 201h9v3h-9zM150 204h6v3h-6z"/><path fill="#f09c24" d="M177 195h6v3h-6zM201 195h6v3h-6zM171 198h6v3h-6zM180 198h6v3h-6zM192 198h21v3h-21zM168 201h6v3h-6zM183 201h12v3h-12zM198 201h18v3h-18zM165 204h6v3h-6zM201 204h15v3h-15zM204 207h9v3h-9z"/><path fill="#f09024" d="M177 198h3v3h-3zM174 201h9v3h-9zM195 201h3v3h-3zM171 204h30v3h-30zM168 207h36v3h-36zM180 210h21v3h-21zM198 213h3v3h-3z"/><path fill="#f07824" d="M186 213h6v3h-6zM195 216h6v3h-6z"/><path fill="#f08424" d="M192 213h6v3h-6z"/><path fill="#f06c24" d="M180 216h15v3h-15zM183 219h18v3h-18zM180 222h21v3h-21zM180 225h21v3h-21zM183 228h15v3h-15z"/></g></g><use href="#prov"/><use href="#outl" fill="none" stroke="#b4aee0" stroke-width="2.2" stroke-opacity="0.55"/><use href="#outl" fill="none" stroke="#221c3a" stroke-width="0.9"/><use href="#dots"/><use href="#labs"/><use href="#common"/><path d="M285.9,168.4 H322.6 L319.8,172.5 L316,175.4 L312.3,177.7 L308.6,179.5 L304.9,181.4 L301.1,182.9 L297.4,184.4 L296.7,186.6 L295.5,185.9 L295.2,183.6 L292.2,183.3 L288.5,182.1 L285.9,179.9 Z" fill="url(#id)"/><ellipse cx="295.7" cy="190.1" rx="3.8" ry="2.6" transform="rotate(-30 295.7 190.1)" fill="#f07a22"/><ellipse cx="326.4" cy="175" rx="1.7" ry="5" transform="rotate(18 326.4 175)" fill="#f0a030"/><g transform="translate(0,0)"><text x="305.9" y="24.2" font-weight="bold" font-size="9" fill="#000">Legend</text><circle cx="301.9" cy="36.6" r="2.2" fill="#b451d6"/><text x="308.5" y="39.4" font-size="7.8" fill="#222">Type I</text><circle cx="301.9" cy="53.0" r="2.2" fill="#c99f3c"/><text x="308.5" y="55.8" font-size="7.8" fill="#222">Type II</text><circle cx="301.9" cy="69.4" r="2.2" fill="#72efec"/><text x="308.5" y="72.2" font-size="7.8" fill="#222">Type III</text><circle cx="301.9" cy="85.8" r="2.2" fill="#1b1bee"/><text x="308.5" y="88.6" font-size="7.8" fill="#222">Type IV</text><circle cx="301.9" cy="102.2" r="2.2" fill="#e52222"/><text x="308.5" y="105.0" font-size="7.8" fill="#222">Type V</text></g><g transform="translate(2,0)"><path d="M110.4,234.4 V237.3 H165.4 V234.4 M137.7,235.6 V237.3" fill="none" stroke="#333" stroke-width="0.6"/><g font-size="5.7" fill="#333"><text class="s" x="110" y="230.7" text-anchor="middle">0</text><text class="s" x="137.7" y="230.7" text-anchor="middle">500</text><text class="s" x="158.7" y="230.7">1,000 km</text></g></g><text x="280.6" y="121.9" font-weight="bold" font-size="8.5" fill="#111" style="white-space:pre">Tem  ( °C )</text><rect x="280.1" y="129.9" width="13" height="28" fill="url(#gd)"/><text x="294.6" y="132.8" font-size="8.1" fill="#222">high: 31.6</text><text x="295.6" y="159.70000000000002" font-size="8.1" fill="#222" style="white-space:pre">low: -25.7</text></g><text x="32.5" y="19.9" font-size="10" fill="#111">Climate zones in China</text><text x="169.5" y="260.3" font-size="16" font-weight="bold" text-anchor="middle" fill="#000">(a)</text><text x="378.4" y="19.9" font-size="10" fill="#111">Annual average precipitation</text><text x="514.5" y="260.3" font-size="16" font-weight="bold" text-anchor="middle" fill="#000">(b)</text><text x="32.7" y="295.2" font-size="10" fill="#111">Annual average humidity</text><text x="169.5" y="533.3" font-size="16" font-weight="bold" text-anchor="middle" fill="#000">(c)</text><text x="377.7" y="295.2" font-size="10" fill="#111">Annual average temperature</text><text x="514.5" y="533.3" font-size="16" font-weight="bold" text-anchor="middle" fill="#000">(d)</text></svg></body></html>
